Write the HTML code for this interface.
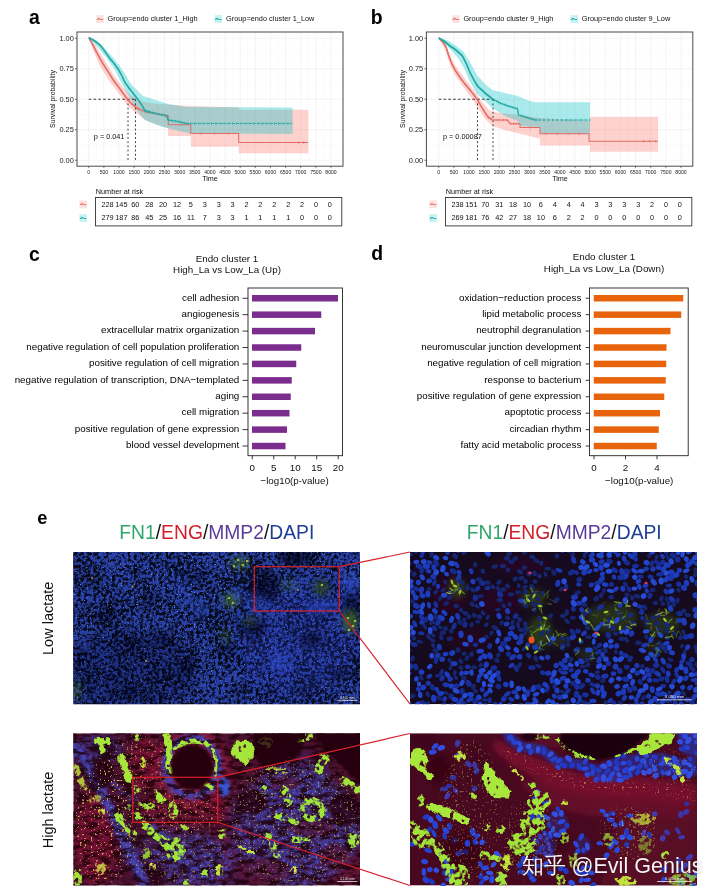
<!DOCTYPE html>
<html><head><meta charset="utf-8"><title>figure</title>
<style>html,body{margin:0;padding:0;background:#fff}svg{display:block}text{font-family:"Liberation Sans",Arial,sans-serif}</style>
</head><body>
<svg width="720" height="896" viewBox="0 0 720 896">
<rect width="720" height="896" fill="#ffffff"/>
<g><text x="29" y="24.1" font-size="19.4" font-weight="bold" font-family='"Liberation Sans", Arial, sans-serif'>a</text><line x1="88.75" y1="32" x2="88.75" y2="166.2" stroke="#ececec" stroke-width="0.6"/><line x1="96.32" y1="32" x2="96.32" y2="166.2" stroke="#f5f5f5" stroke-width="0.4"/><line x1="103.89" y1="32" x2="103.89" y2="166.2" stroke="#ececec" stroke-width="0.6"/><line x1="111.46" y1="32" x2="111.46" y2="166.2" stroke="#f5f5f5" stroke-width="0.4"/><line x1="119.03" y1="32" x2="119.03" y2="166.2" stroke="#ececec" stroke-width="0.6"/><line x1="126.60" y1="32" x2="126.60" y2="166.2" stroke="#f5f5f5" stroke-width="0.4"/><line x1="134.17" y1="32" x2="134.17" y2="166.2" stroke="#ececec" stroke-width="0.6"/><line x1="141.74" y1="32" x2="141.74" y2="166.2" stroke="#f5f5f5" stroke-width="0.4"/><line x1="149.31" y1="32" x2="149.31" y2="166.2" stroke="#ececec" stroke-width="0.6"/><line x1="156.88" y1="32" x2="156.88" y2="166.2" stroke="#f5f5f5" stroke-width="0.4"/><line x1="164.45" y1="32" x2="164.45" y2="166.2" stroke="#ececec" stroke-width="0.6"/><line x1="172.02" y1="32" x2="172.02" y2="166.2" stroke="#f5f5f5" stroke-width="0.4"/><line x1="179.59" y1="32" x2="179.59" y2="166.2" stroke="#ececec" stroke-width="0.6"/><line x1="187.16" y1="32" x2="187.16" y2="166.2" stroke="#f5f5f5" stroke-width="0.4"/><line x1="194.73" y1="32" x2="194.73" y2="166.2" stroke="#ececec" stroke-width="0.6"/><line x1="202.30" y1="32" x2="202.30" y2="166.2" stroke="#f5f5f5" stroke-width="0.4"/><line x1="209.87" y1="32" x2="209.87" y2="166.2" stroke="#ececec" stroke-width="0.6"/><line x1="217.44" y1="32" x2="217.44" y2="166.2" stroke="#f5f5f5" stroke-width="0.4"/><line x1="225.01" y1="32" x2="225.01" y2="166.2" stroke="#ececec" stroke-width="0.6"/><line x1="232.58" y1="32" x2="232.58" y2="166.2" stroke="#f5f5f5" stroke-width="0.4"/><line x1="240.15" y1="32" x2="240.15" y2="166.2" stroke="#ececec" stroke-width="0.6"/><line x1="247.72" y1="32" x2="247.72" y2="166.2" stroke="#f5f5f5" stroke-width="0.4"/><line x1="255.29" y1="32" x2="255.29" y2="166.2" stroke="#ececec" stroke-width="0.6"/><line x1="262.86" y1="32" x2="262.86" y2="166.2" stroke="#f5f5f5" stroke-width="0.4"/><line x1="270.43" y1="32" x2="270.43" y2="166.2" stroke="#ececec" stroke-width="0.6"/><line x1="278.00" y1="32" x2="278.00" y2="166.2" stroke="#f5f5f5" stroke-width="0.4"/><line x1="285.57" y1="32" x2="285.57" y2="166.2" stroke="#ececec" stroke-width="0.6"/><line x1="293.14" y1="32" x2="293.14" y2="166.2" stroke="#f5f5f5" stroke-width="0.4"/><line x1="300.71" y1="32" x2="300.71" y2="166.2" stroke="#ececec" stroke-width="0.6"/><line x1="308.28" y1="32" x2="308.28" y2="166.2" stroke="#f5f5f5" stroke-width="0.4"/><line x1="315.85" y1="32" x2="315.85" y2="166.2" stroke="#ececec" stroke-width="0.6"/><line x1="323.42" y1="32" x2="323.42" y2="166.2" stroke="#f5f5f5" stroke-width="0.4"/><line x1="330.99" y1="32" x2="330.99" y2="166.2" stroke="#ececec" stroke-width="0.6"/><line x1="77" y1="38.25" x2="343" y2="38.25" stroke="#ececec" stroke-width="0.6"/><line x1="77" y1="53.50" x2="343" y2="53.50" stroke="#f5f5f5" stroke-width="0.4"/><line x1="77" y1="68.75" x2="343" y2="68.75" stroke="#ececec" stroke-width="0.6"/><line x1="77" y1="84.00" x2="343" y2="84.00" stroke="#f5f5f5" stroke-width="0.4"/><line x1="77" y1="99.25" x2="343" y2="99.25" stroke="#ececec" stroke-width="0.6"/><line x1="77" y1="114.50" x2="343" y2="114.50" stroke="#f5f5f5" stroke-width="0.4"/><line x1="77" y1="129.75" x2="343" y2="129.75" stroke="#ececec" stroke-width="0.6"/><line x1="77" y1="145.00" x2="343" y2="145.00" stroke="#f5f5f5" stroke-width="0.4"/><line x1="77" y1="160.25" x2="343" y2="160.25" stroke="#ececec" stroke-width="0.6"/><polygon points="89.00,38.00 95.00,44.00 103.00,58.00 113.00,74.00 122.00,86.00 130.00,95.00 140.00,101.00 150.00,103.00 168.00,104.50 190.00,106.00 238.70,107.50 238.70,109.70 308.30,109.70 308.30,153.30 238.70,153.30 238.70,146.70 190.80,146.70 190.80,136.00 168.00,136.00 168.00,128.00 155.00,124.00 145.00,120.00 136.00,113.00 128.00,106.00 120.00,95.00 110.00,82.00 100.00,66.00 93.00,50.00" fill="#F8766D" fill-opacity="0.33"/><polygon points="89.00,38.00 96.00,40.00 105.00,48.50 112.50,57.00 119.00,65.00 124.00,72.00 131.00,84.00 137.00,90.00 142.50,95.80 158.00,100.80 168.00,104.00 186.70,107.00 292.50,107.50 292.50,134.00 190.00,133.50 175.00,130.00 161.70,126.70 145.00,120.00 138.00,112.00 130.00,98.00 122.00,84.00 115.00,70.00 105.00,56.00 95.00,44.00" fill="#00BFC4" fill-opacity="0.33"/><path d="M88.75 99.25H135.5" stroke="#222" stroke-width="0.9" stroke-dasharray="2.6 2.2" fill="none"/><path d="M128 99.25V160.25" stroke="#222" stroke-width="0.9" stroke-dasharray="1.8 2.4" fill="none"/><path d="M135.5 99.25V160.25" stroke="#222" stroke-width="0.9" stroke-dasharray="1.8 2.4" fill="none"/><polyline points="89.00,38.00 93.00,45.00 97.00,53.00 101.70,61.70 107.00,70.00 113.30,80.00 120.00,89.00 125.00,96.00 128.00,100.00 132.00,104.00 136.70,108.00 145.00,111.70 155.00,113.50 168.30,115.80 168.30,124.70 190.80,124.70 190.80,133.50 238.70,133.50 238.70,142.50 308.30,142.50" fill="none" stroke="#E36B66" stroke-width="1.05" stroke-linejoin="round"/><path d="M89.0 37.0v2.0M89.4 37.8v2.0M89.9 38.6v2.0M90.3 39.3v2.0M90.8 40.1v2.0M91.2 40.9v2.0M91.7 41.7v2.0M92.1 42.5v2.0M92.6 43.3v2.0M93.0 44.0v2.0M93.4 44.8v2.0M93.8 45.6v2.0M94.2 46.4v2.0M94.6 47.3v2.0M95.0 48.1v2.0M95.4 48.9v2.0M95.8 49.7v2.0M96.2 50.5v2.0M96.6 51.3v2.0M97.0 52.1v2.0M97.5 52.9v2.0M97.9 53.7v2.0M98.3 54.5v2.0M98.8 55.2v2.0M99.2 56.0v2.0M99.6 56.8v2.0M100.0 57.6v2.0M100.5 58.4v2.0M100.9 59.2v2.0M101.3 60.0v2.0M101.8 60.8v2.0M102.2 61.5v2.0M102.7 62.3v2.0M103.2 63.1v2.0M103.7 63.8v2.0M104.2 64.6v2.0M104.7 65.3v2.0M105.1 66.1v2.0M105.6 66.9v2.0M106.1 67.6v2.0M106.6 68.4v2.0M107.1 69.1v2.0M107.6 69.9v2.0M108.0 70.7v2.0M108.5 71.4v2.0M109.0 72.2v2.0M109.5 72.9v2.0M110.0 73.7v2.0M110.4 74.5v2.0M110.9 75.2v2.0M111.4 76.0v2.0M111.9 76.7v2.0M112.4 77.5v2.0M112.8 78.3v2.0M113.3 79.0v2.0M113.9 79.8v2.0M114.4 80.5v2.0M114.9 81.2v2.0M115.5 81.9v2.0M116.0 82.6v2.0M116.5 83.4v2.0M117.1 84.1v2.0M117.6 84.8v2.0M118.2 85.5v2.0M118.7 86.2v2.0M119.2 87.0v2.0M119.8 87.7v2.0M120.3 88.4v2.0M120.8 89.2v2.0M121.3 89.9v2.0M121.9 90.6v2.0M122.4 91.4v2.0M122.9 92.1v2.0M123.4 92.8v2.0M124.0 93.5v2.0M124.5 94.3v2.0M125.0 95.0v2.0M125.5 95.7v2.0M126.1 96.5v2.0M126.6 97.2v2.0M127.2 97.9v2.0M127.7 98.6v2.0M128.3 99.3v2.0M128.9 99.9v2.0M129.6 100.6v2.0M130.2 101.2v2.0M130.8 101.8v2.0M131.5 102.5v2.0M132.1 103.1v2.0M132.8 103.7v2.0M133.5 104.3v2.0M134.2 104.9v2.0M134.9 105.4v2.0M135.5 106.0v2.0M136.2 106.6v2.0M137.0 107.1v2.0M137.8 107.5v2.0M138.6 107.8v2.0M139.4 108.2v2.0M142.0 109.3v2.2M144.4 110.3v2.2M146.9 110.9v2.2M149.4 111.4v2.2M152.0 111.9v2.2M154.5 112.3v2.2M157.1 112.8v2.2M159.7 113.2v2.2M162.2 113.7v2.2M164.8 114.1v2.2M167.4 114.5v2.2M181.4 123.6v2.2M200.6 132.4v2.2M214.6 132.4v2.2M228.6 132.4v2.2M298.6 141.3v2.4M303.6 141.3v2.4" stroke="#E36B66" stroke-width="0.8" fill="none"/><polyline points="88.75,37.80 94.00,40.50 100.00,45.00 105.00,51.50 110.00,58.75 114.50,64.00 118.75,70.00 122.00,76.00 125.00,82.50 129.00,88.00 132.50,92.50 136.00,97.00 138.75,100.50 142.00,105.50 145.00,110.80 150.00,112.00 158.00,114.00 166.70,115.80 168.00,120.00 178.00,121.50 186.70,123.50" fill="none" stroke="#1FAAA2" stroke-width="1.05" stroke-linejoin="round"/><polyline points="186.70,123.50 292.00,123.50" fill="none" stroke="#1FAAA2" stroke-width="1.0" stroke-dasharray="2.2 2"/><path d="M89.6 37.1v2.2M90.4 37.5v2.2M91.2 37.9v2.2M92.0 38.3v2.2M92.8 38.8v2.2M93.6 39.2v2.2M94.3 39.6v2.2M95.0 40.2v2.2M95.8 40.7v2.2M96.5 41.3v2.2M97.2 41.8v2.2M97.9 42.3v2.2M98.6 42.9v2.2M99.4 43.4v2.2M100.1 44.0v2.2M100.6 44.7v2.2M101.2 45.4v2.2M101.7 46.1v2.2M102.3 46.8v2.2M102.8 47.5v2.2M103.4 48.3v2.2M103.9 49.0v2.2M104.4 49.7v2.2M105.0 50.4v2.2M105.5 51.1v2.2M106.0 51.9v2.2M106.5 52.6v2.2M107.0 53.4v2.2M107.6 54.1v2.2M108.1 54.8v2.2M108.6 55.6v2.2M109.1 56.3v2.2M109.6 57.1v2.2M110.1 57.8v2.2M110.7 58.5v2.2M111.3 59.2v2.2M111.9 59.8v2.2M112.5 60.5v2.2M113.1 61.2v2.2M113.6 61.9v2.2M114.2 62.6v2.2M114.8 63.3v2.2M115.3 64.0v2.2M115.8 64.8v2.2M116.3 65.5v2.2M116.9 66.2v2.2M117.4 67.0v2.2M117.9 67.7v2.2M118.4 68.4v2.2M118.9 69.2v2.2M119.3 70.0v2.2M119.8 70.8v2.2M120.2 71.6v2.2M120.6 72.3v2.2M121.0 73.1v2.2M121.5 73.9v2.2M121.9 74.7v2.2M122.3 75.5v2.2M122.7 76.4v2.2M123.0 77.2v2.2M123.4 78.0v2.2M123.8 78.8v2.2M124.2 79.6v2.2M124.6 80.4v2.2M124.9 81.3v2.2M125.4 82.0v2.2M126.0 82.7v2.2M126.5 83.5v2.2M127.0 84.2v2.2M127.6 84.9v2.2M128.1 85.6v2.2M128.6 86.4v2.2M129.1 87.1v2.2M129.7 87.8v2.2M130.3 88.5v2.2M130.8 89.2v2.2M131.4 89.9v2.2M131.9 90.6v2.2M132.5 91.4v2.2M133.0 92.1v2.2M133.6 92.8v2.2M134.1 93.5v2.2M134.7 94.2v2.2M135.2 94.9v2.2M135.8 95.6v2.2M136.3 96.3v2.2M136.9 97.0v2.2M137.4 97.7v2.2M138.0 98.4v2.2M138.6 99.2v2.2M139.1 99.9v2.2M139.6 100.6v2.2M140.0 101.4v2.2M140.5 102.2v2.2M141.0 102.9v2.2M141.5 103.7v2.2M142.0 104.4v2.2M142.5 105.2v2.2M142.9 106.0v2.2M143.3 106.8v2.2M143.8 107.6v2.2M144.2 108.3v2.2M144.7 109.1v2.2M145.2 109.8v2.2M146.1 110.0v2.2M147.0 110.2v2.2M147.9 110.4v2.2M148.7 110.6v2.2M149.6 110.8v2.2M150.5 110.9v2.4M152.6 111.5v2.4M154.7 112.0v2.4M156.9 112.5v2.4M159.0 113.0v2.4M161.2 113.5v2.4M163.3 113.9v2.4M165.5 114.3v2.4M167.0 115.5v2.4M167.6 117.6v2.4M169.0 118.9v2.4M171.1 119.3v2.4M173.3 119.6v2.4M175.5 119.9v2.4M177.7 120.2v2.4M179.8 120.7v2.4M181.9 121.2v2.4M184.1 121.7v2.4M186.2 122.2v2.4M188.4 122.3v2.4M190.4 122.3v2.4M194.6 122.3v2.4M198.8 122.3v2.4M203.0 122.3v2.4M207.2 122.3v2.4M211.4 122.3v2.4M215.6 122.3v2.4M219.8 122.3v2.4M224.0 122.3v2.4M228.2 122.3v2.4M232.4 122.3v2.4M236.6 122.3v2.4M240.8 122.3v2.4M245.0 122.3v2.4M249.2 122.3v2.4M253.4 122.3v2.4M257.6 122.3v2.4M261.8 122.3v2.4M266.0 122.3v2.4M270.2 122.3v2.4M274.4 122.3v2.4M278.6 122.3v2.4M282.8 122.3v2.4M287.0 122.3v2.4M291.2 122.3v2.4" stroke="#1FAAA2" stroke-width="0.8" fill="none"/><rect x="77" y="32" width="266" height="134.2" fill="none" stroke="#4a4a4a" stroke-width="1"/><line x1="75" y1="38.25" x2="77" y2="38.25" stroke="#333" stroke-width="0.7"/><text x="73.8" y="40.85" font-size="7.4" text-anchor="end" fill="#222" font-family='"Liberation Sans", Arial, sans-serif'>1.00</text><line x1="75" y1="68.75" x2="77" y2="68.75" stroke="#333" stroke-width="0.7"/><text x="73.8" y="71.35" font-size="7.4" text-anchor="end" fill="#222" font-family='"Liberation Sans", Arial, sans-serif'>0.75</text><line x1="75" y1="99.25" x2="77" y2="99.25" stroke="#333" stroke-width="0.7"/><text x="73.8" y="101.85" font-size="7.4" text-anchor="end" fill="#222" font-family='"Liberation Sans", Arial, sans-serif'>0.50</text><line x1="75" y1="129.75" x2="77" y2="129.75" stroke="#333" stroke-width="0.7"/><text x="73.8" y="132.35" font-size="7.4" text-anchor="end" fill="#222" font-family='"Liberation Sans", Arial, sans-serif'>0.25</text><line x1="75" y1="160.25" x2="77" y2="160.25" stroke="#333" stroke-width="0.7"/><text x="73.8" y="162.85" font-size="7.4" text-anchor="end" fill="#222" font-family='"Liberation Sans", Arial, sans-serif'>0.00</text><line x1="88.75" y1="166.2" x2="88.75" y2="168.2" stroke="#333" stroke-width="0.6"/><text x="88.75" y="173.7" font-size="5.1" text-anchor="middle" fill="#222" font-family='"Liberation Sans", Arial, sans-serif'>0</text><line x1="103.89" y1="166.2" x2="103.89" y2="168.2" stroke="#333" stroke-width="0.6"/><text x="103.89" y="173.7" font-size="5.1" text-anchor="middle" fill="#222" font-family='"Liberation Sans", Arial, sans-serif'>500</text><line x1="119.03" y1="166.2" x2="119.03" y2="168.2" stroke="#333" stroke-width="0.6"/><text x="119.03" y="173.7" font-size="5.1" text-anchor="middle" fill="#222" font-family='"Liberation Sans", Arial, sans-serif'>1000</text><line x1="134.17" y1="166.2" x2="134.17" y2="168.2" stroke="#333" stroke-width="0.6"/><text x="134.17" y="173.7" font-size="5.1" text-anchor="middle" fill="#222" font-family='"Liberation Sans", Arial, sans-serif'>1500</text><line x1="149.31" y1="166.2" x2="149.31" y2="168.2" stroke="#333" stroke-width="0.6"/><text x="149.31" y="173.7" font-size="5.1" text-anchor="middle" fill="#222" font-family='"Liberation Sans", Arial, sans-serif'>2000</text><line x1="164.45" y1="166.2" x2="164.45" y2="168.2" stroke="#333" stroke-width="0.6"/><text x="164.45" y="173.7" font-size="5.1" text-anchor="middle" fill="#222" font-family='"Liberation Sans", Arial, sans-serif'>2500</text><line x1="179.59" y1="166.2" x2="179.59" y2="168.2" stroke="#333" stroke-width="0.6"/><text x="179.59" y="173.7" font-size="5.1" text-anchor="middle" fill="#222" font-family='"Liberation Sans", Arial, sans-serif'>3000</text><line x1="194.73" y1="166.2" x2="194.73" y2="168.2" stroke="#333" stroke-width="0.6"/><text x="194.73" y="173.7" font-size="5.1" text-anchor="middle" fill="#222" font-family='"Liberation Sans", Arial, sans-serif'>3500</text><line x1="209.87" y1="166.2" x2="209.87" y2="168.2" stroke="#333" stroke-width="0.6"/><text x="209.87" y="173.7" font-size="5.1" text-anchor="middle" fill="#222" font-family='"Liberation Sans", Arial, sans-serif'>4000</text><line x1="225.01" y1="166.2" x2="225.01" y2="168.2" stroke="#333" stroke-width="0.6"/><text x="225.01" y="173.7" font-size="5.1" text-anchor="middle" fill="#222" font-family='"Liberation Sans", Arial, sans-serif'>4500</text><line x1="240.15" y1="166.2" x2="240.15" y2="168.2" stroke="#333" stroke-width="0.6"/><text x="240.15" y="173.7" font-size="5.1" text-anchor="middle" fill="#222" font-family='"Liberation Sans", Arial, sans-serif'>5000</text><line x1="255.29" y1="166.2" x2="255.29" y2="168.2" stroke="#333" stroke-width="0.6"/><text x="255.29" y="173.7" font-size="5.1" text-anchor="middle" fill="#222" font-family='"Liberation Sans", Arial, sans-serif'>5500</text><line x1="270.43" y1="166.2" x2="270.43" y2="168.2" stroke="#333" stroke-width="0.6"/><text x="270.43" y="173.7" font-size="5.1" text-anchor="middle" fill="#222" font-family='"Liberation Sans", Arial, sans-serif'>6000</text><line x1="285.57" y1="166.2" x2="285.57" y2="168.2" stroke="#333" stroke-width="0.6"/><text x="285.57" y="173.7" font-size="5.1" text-anchor="middle" fill="#222" font-family='"Liberation Sans", Arial, sans-serif'>6500</text><line x1="300.71" y1="166.2" x2="300.71" y2="168.2" stroke="#333" stroke-width="0.6"/><text x="300.71" y="173.7" font-size="5.1" text-anchor="middle" fill="#222" font-family='"Liberation Sans", Arial, sans-serif'>7000</text><line x1="315.85" y1="166.2" x2="315.85" y2="168.2" stroke="#333" stroke-width="0.6"/><text x="315.85" y="173.7" font-size="5.1" text-anchor="middle" fill="#222" font-family='"Liberation Sans", Arial, sans-serif'>7500</text><line x1="330.99" y1="166.2" x2="330.99" y2="168.2" stroke="#333" stroke-width="0.6"/><text x="330.99" y="173.7" font-size="5.1" text-anchor="middle" fill="#222" font-family='"Liberation Sans", Arial, sans-serif'>8000</text><text x="210" y="181.4" font-size="7.2" text-anchor="middle" fill="#111" font-family='"Liberation Sans", Arial, sans-serif'>Time</text><text transform="translate(55 99) rotate(-90)" font-size="6.9" text-anchor="middle" fill="#111" font-family='"Liberation Sans", Arial, sans-serif'>Survival probability</text><text x="93.8" y="138.8" font-size="7.3" fill="#111" font-family='"Liberation Sans", Arial, sans-serif'>p = 0.041</text><rect x="96.3" y="15.200000000000001" width="7.5" height="7.8" fill="#F8766D" fill-opacity="0.22"/><path d="M96.89999999999999 19.700000000000003L98.8 18.5L100.3 19.3L103.2 19.5" stroke="#E36B66" stroke-width="1.1" fill="none"/><text x="107.6" y="21.4" font-size="7.35" fill="#111" font-family='"Liberation Sans", Arial, sans-serif'>Group=endo cluster 1_High</text><rect x="214.6" y="15.200000000000001" width="7.5" height="7.8" fill="#00BFC4" fill-opacity="0.22"/><path d="M215.2 19.700000000000003L217.1 18.5L218.6 19.3L221.5 19.5" stroke="#1FAAA2" stroke-width="1.1" fill="none"/><text x="226" y="21.4" font-size="7.35" fill="#111" font-family='"Liberation Sans", Arial, sans-serif'>Group=endo cluster 1_Low</text><text x="95.8" y="193.8" font-size="7.3" fill="#111" font-family='"Liberation Sans", Arial, sans-serif'>Number at risk</text><rect x="95.5" y="197.5" width="246.3" height="28.4" fill="none" stroke="#333" stroke-width="0.9"/><rect x="79.4" y="200.4" width="7.5" height="7.8" fill="#F8766D" fill-opacity="0.22"/><path d="M80.0 204.9L81.9 203.70000000000002L83.4 204.5L86.30000000000001 204.70000000000002" stroke="#E36B66" stroke-width="1.1" fill="none"/><rect x="79.4" y="214.2" width="7.5" height="7.8" fill="#00BFC4" fill-opacity="0.22"/><path d="M80.0 218.7L81.9 217.5L83.4 218.29999999999998L86.30000000000001 218.5" stroke="#1FAAA2" stroke-width="1.1" fill="none"/><text x="107.50" y="207.1" font-size="7.3" text-anchor="middle" fill="#111" font-family='"Liberation Sans", Arial, sans-serif'>228</text><text x="121.40" y="207.1" font-size="7.3" text-anchor="middle" fill="#111" font-family='"Liberation Sans", Arial, sans-serif'>145</text><text x="135.30" y="207.1" font-size="7.3" text-anchor="middle" fill="#111" font-family='"Liberation Sans", Arial, sans-serif'>60</text><text x="149.20" y="207.1" font-size="7.3" text-anchor="middle" fill="#111" font-family='"Liberation Sans", Arial, sans-serif'>28</text><text x="163.10" y="207.1" font-size="7.3" text-anchor="middle" fill="#111" font-family='"Liberation Sans", Arial, sans-serif'>20</text><text x="177.00" y="207.1" font-size="7.3" text-anchor="middle" fill="#111" font-family='"Liberation Sans", Arial, sans-serif'>12</text><text x="190.90" y="207.1" font-size="7.3" text-anchor="middle" fill="#111" font-family='"Liberation Sans", Arial, sans-serif'>5</text><text x="204.80" y="207.1" font-size="7.3" text-anchor="middle" fill="#111" font-family='"Liberation Sans", Arial, sans-serif'>3</text><text x="218.70" y="207.1" font-size="7.3" text-anchor="middle" fill="#111" font-family='"Liberation Sans", Arial, sans-serif'>3</text><text x="232.60" y="207.1" font-size="7.3" text-anchor="middle" fill="#111" font-family='"Liberation Sans", Arial, sans-serif'>3</text><text x="246.50" y="207.1" font-size="7.3" text-anchor="middle" fill="#111" font-family='"Liberation Sans", Arial, sans-serif'>2</text><text x="260.40" y="207.1" font-size="7.3" text-anchor="middle" fill="#111" font-family='"Liberation Sans", Arial, sans-serif'>2</text><text x="274.30" y="207.1" font-size="7.3" text-anchor="middle" fill="#111" font-family='"Liberation Sans", Arial, sans-serif'>2</text><text x="288.20" y="207.1" font-size="7.3" text-anchor="middle" fill="#111" font-family='"Liberation Sans", Arial, sans-serif'>2</text><text x="302.10" y="207.1" font-size="7.3" text-anchor="middle" fill="#111" font-family='"Liberation Sans", Arial, sans-serif'>2</text><text x="316.00" y="207.1" font-size="7.3" text-anchor="middle" fill="#111" font-family='"Liberation Sans", Arial, sans-serif'>0</text><text x="329.90" y="207.1" font-size="7.3" text-anchor="middle" fill="#111" font-family='"Liberation Sans", Arial, sans-serif'>0</text><text x="107.50" y="220.2" font-size="7.3" text-anchor="middle" fill="#111" font-family='"Liberation Sans", Arial, sans-serif'>279</text><text x="121.40" y="220.2" font-size="7.3" text-anchor="middle" fill="#111" font-family='"Liberation Sans", Arial, sans-serif'>187</text><text x="135.30" y="220.2" font-size="7.3" text-anchor="middle" fill="#111" font-family='"Liberation Sans", Arial, sans-serif'>86</text><text x="149.20" y="220.2" font-size="7.3" text-anchor="middle" fill="#111" font-family='"Liberation Sans", Arial, sans-serif'>45</text><text x="163.10" y="220.2" font-size="7.3" text-anchor="middle" fill="#111" font-family='"Liberation Sans", Arial, sans-serif'>25</text><text x="177.00" y="220.2" font-size="7.3" text-anchor="middle" fill="#111" font-family='"Liberation Sans", Arial, sans-serif'>16</text><text x="190.90" y="220.2" font-size="7.3" text-anchor="middle" fill="#111" font-family='"Liberation Sans", Arial, sans-serif'>11</text><text x="204.80" y="220.2" font-size="7.3" text-anchor="middle" fill="#111" font-family='"Liberation Sans", Arial, sans-serif'>7</text><text x="218.70" y="220.2" font-size="7.3" text-anchor="middle" fill="#111" font-family='"Liberation Sans", Arial, sans-serif'>3</text><text x="232.60" y="220.2" font-size="7.3" text-anchor="middle" fill="#111" font-family='"Liberation Sans", Arial, sans-serif'>3</text><text x="246.50" y="220.2" font-size="7.3" text-anchor="middle" fill="#111" font-family='"Liberation Sans", Arial, sans-serif'>1</text><text x="260.40" y="220.2" font-size="7.3" text-anchor="middle" fill="#111" font-family='"Liberation Sans", Arial, sans-serif'>1</text><text x="274.30" y="220.2" font-size="7.3" text-anchor="middle" fill="#111" font-family='"Liberation Sans", Arial, sans-serif'>1</text><text x="288.20" y="220.2" font-size="7.3" text-anchor="middle" fill="#111" font-family='"Liberation Sans", Arial, sans-serif'>1</text><text x="302.10" y="220.2" font-size="7.3" text-anchor="middle" fill="#111" font-family='"Liberation Sans", Arial, sans-serif'>0</text><text x="316.00" y="220.2" font-size="7.3" text-anchor="middle" fill="#111" font-family='"Liberation Sans", Arial, sans-serif'>0</text><text x="329.90" y="220.2" font-size="7.3" text-anchor="middle" fill="#111" font-family='"Liberation Sans", Arial, sans-serif'>0</text></g><g><text x="370.8" y="24.1" font-size="19.4" font-weight="bold" font-family='"Liberation Sans", Arial, sans-serif'>b</text><line x1="438.75" y1="32" x2="438.75" y2="166.2" stroke="#ececec" stroke-width="0.6"/><line x1="446.32" y1="32" x2="446.32" y2="166.2" stroke="#f5f5f5" stroke-width="0.4"/><line x1="453.89" y1="32" x2="453.89" y2="166.2" stroke="#ececec" stroke-width="0.6"/><line x1="461.46" y1="32" x2="461.46" y2="166.2" stroke="#f5f5f5" stroke-width="0.4"/><line x1="469.03" y1="32" x2="469.03" y2="166.2" stroke="#ececec" stroke-width="0.6"/><line x1="476.60" y1="32" x2="476.60" y2="166.2" stroke="#f5f5f5" stroke-width="0.4"/><line x1="484.17" y1="32" x2="484.17" y2="166.2" stroke="#ececec" stroke-width="0.6"/><line x1="491.74" y1="32" x2="491.74" y2="166.2" stroke="#f5f5f5" stroke-width="0.4"/><line x1="499.31" y1="32" x2="499.31" y2="166.2" stroke="#ececec" stroke-width="0.6"/><line x1="506.88" y1="32" x2="506.88" y2="166.2" stroke="#f5f5f5" stroke-width="0.4"/><line x1="514.45" y1="32" x2="514.45" y2="166.2" stroke="#ececec" stroke-width="0.6"/><line x1="522.02" y1="32" x2="522.02" y2="166.2" stroke="#f5f5f5" stroke-width="0.4"/><line x1="529.59" y1="32" x2="529.59" y2="166.2" stroke="#ececec" stroke-width="0.6"/><line x1="537.16" y1="32" x2="537.16" y2="166.2" stroke="#f5f5f5" stroke-width="0.4"/><line x1="544.73" y1="32" x2="544.73" y2="166.2" stroke="#ececec" stroke-width="0.6"/><line x1="552.30" y1="32" x2="552.30" y2="166.2" stroke="#f5f5f5" stroke-width="0.4"/><line x1="559.87" y1="32" x2="559.87" y2="166.2" stroke="#ececec" stroke-width="0.6"/><line x1="567.44" y1="32" x2="567.44" y2="166.2" stroke="#f5f5f5" stroke-width="0.4"/><line x1="575.01" y1="32" x2="575.01" y2="166.2" stroke="#ececec" stroke-width="0.6"/><line x1="582.58" y1="32" x2="582.58" y2="166.2" stroke="#f5f5f5" stroke-width="0.4"/><line x1="590.15" y1="32" x2="590.15" y2="166.2" stroke="#ececec" stroke-width="0.6"/><line x1="597.72" y1="32" x2="597.72" y2="166.2" stroke="#f5f5f5" stroke-width="0.4"/><line x1="605.29" y1="32" x2="605.29" y2="166.2" stroke="#ececec" stroke-width="0.6"/><line x1="612.86" y1="32" x2="612.86" y2="166.2" stroke="#f5f5f5" stroke-width="0.4"/><line x1="620.43" y1="32" x2="620.43" y2="166.2" stroke="#ececec" stroke-width="0.6"/><line x1="628.00" y1="32" x2="628.00" y2="166.2" stroke="#f5f5f5" stroke-width="0.4"/><line x1="635.57" y1="32" x2="635.57" y2="166.2" stroke="#ececec" stroke-width="0.6"/><line x1="643.14" y1="32" x2="643.14" y2="166.2" stroke="#f5f5f5" stroke-width="0.4"/><line x1="650.71" y1="32" x2="650.71" y2="166.2" stroke="#ececec" stroke-width="0.6"/><line x1="658.28" y1="32" x2="658.28" y2="166.2" stroke="#f5f5f5" stroke-width="0.4"/><line x1="665.85" y1="32" x2="665.85" y2="166.2" stroke="#ececec" stroke-width="0.6"/><line x1="673.42" y1="32" x2="673.42" y2="166.2" stroke="#f5f5f5" stroke-width="0.4"/><line x1="680.99" y1="32" x2="680.99" y2="166.2" stroke="#ececec" stroke-width="0.6"/><line x1="426.4" y1="38.25" x2="692.8" y2="38.25" stroke="#ececec" stroke-width="0.6"/><line x1="426.4" y1="53.50" x2="692.8" y2="53.50" stroke="#f5f5f5" stroke-width="0.4"/><line x1="426.4" y1="68.75" x2="692.8" y2="68.75" stroke="#ececec" stroke-width="0.6"/><line x1="426.4" y1="84.00" x2="692.8" y2="84.00" stroke="#f5f5f5" stroke-width="0.4"/><line x1="426.4" y1="99.25" x2="692.8" y2="99.25" stroke="#ececec" stroke-width="0.6"/><line x1="426.4" y1="114.50" x2="692.8" y2="114.50" stroke="#f5f5f5" stroke-width="0.4"/><line x1="426.4" y1="129.75" x2="692.8" y2="129.75" stroke="#ececec" stroke-width="0.6"/><line x1="426.4" y1="145.00" x2="692.8" y2="145.00" stroke="#f5f5f5" stroke-width="0.4"/><line x1="426.4" y1="160.25" x2="692.8" y2="160.25" stroke="#ececec" stroke-width="0.6"/><polygon points="438.75,38.00 445.00,43.00 449.00,52.00 454.00,64.00 460.00,72.00 468.00,83.00 476.00,93.00 483.00,103.00 490.00,111.00 500.00,113.00 520.00,115.00 540.00,118.00 590.00,121.00 590.00,116.70 658.00,116.70 658.00,151.80 590.00,151.80 590.00,145.60 540.00,145.60 540.00,138.75 520.00,133.75 505.00,130.00 492.50,126.00 485.00,118.75 478.00,108.00 470.00,96.00 462.00,85.00 455.00,75.00 450.00,65.00 446.00,52.00 442.00,44.00" fill="#F8766D" fill-opacity="0.33"/><polygon points="438.75,38.00 447.00,40.00 455.00,45.00 463.00,51.00 470.00,62.00 477.00,75.00 485.00,84.00 492.50,90.00 505.00,93.00 517.50,96.00 527.00,100.00 535.00,102.30 590.00,102.30 590.00,134.00 540.00,133.50 540.00,127.50 520.00,126.00 518.00,121.00 505.00,116.00 492.50,108.00 485.00,101.00 477.00,94.00 470.00,82.00 465.00,70.00 458.00,58.00 450.00,49.00 444.00,43.00" fill="#00BFC4" fill-opacity="0.33"/><path d="M438.75 99.25H493" stroke="#222" stroke-width="0.9" stroke-dasharray="2.6 2.2" fill="none"/><path d="M477.5 99.25V160.25" stroke="#222" stroke-width="0.9" stroke-dasharray="1.8 2.4" fill="none"/><path d="M493 99.25V160.25" stroke="#222" stroke-width="0.9" stroke-dasharray="1.8 2.4" fill="none"/><polyline points="438.75,38.00 443.00,42.00 446.25,47.50 448.50,55.00 451.25,62.50 455.00,70.00 460.00,77.50 465.00,84.00 470.00,90.00 474.00,95.00 477.50,100.00 481.00,106.00 485.00,112.50 488.00,117.00 492.50,120.00 507.50,120.00 510.00,123.75 520.00,123.75 520.00,127.50 540.00,127.50 540.00,133.75 589.00,133.75 589.00,141.20 658.00,141.20" fill="none" stroke="#E36B66" stroke-width="1.05" stroke-linejoin="round"/><path d="M439.4 37.6v2.0M440.1 38.2v2.0M440.7 38.9v2.0M441.4 39.5v2.0M442.0 40.1v2.0M442.7 40.7v2.0M443.2 41.4v2.0M443.7 42.2v2.0M444.2 42.9v2.0M444.6 43.7v2.0M445.1 44.5v2.0M445.5 45.3v2.0M446.0 46.0v2.0M446.4 46.9v2.0M446.6 47.7v2.0M446.9 48.6v2.0M447.1 49.4v2.0M447.4 50.3v2.0M447.7 51.2v2.0M447.9 52.0v2.0M448.2 52.9v2.0M448.4 53.8v2.0M448.7 54.6v2.0M449.0 55.5v2.0M449.3 56.3v2.0M449.7 57.1v2.0M450.0 58.0v2.0M450.3 58.8v2.0M450.6 59.7v2.0M450.9 60.5v2.0M451.2 61.4v2.0M451.6 62.2v2.0M452.0 63.0v2.0M452.4 63.8v2.0M452.8 64.6v2.0M453.2 65.4v2.0M453.6 66.2v2.0M454.0 67.0v2.0M454.4 67.8v2.0M454.8 68.6v2.0M455.3 69.4v2.0M455.8 70.1v2.0M456.3 70.9v2.0M456.8 71.6v2.0M457.3 72.4v2.0M457.8 73.1v2.0M458.3 73.9v2.0M458.8 74.6v2.0M459.3 75.4v2.0M459.8 76.1v2.0M460.3 76.9v2.0M460.8 77.6v2.0M461.4 78.3v2.0M461.9 79.0v2.0M462.5 79.7v2.0M463.0 80.4v2.0M463.6 81.1v2.0M464.1 81.9v2.0M464.7 82.6v2.0M465.2 83.3v2.0M465.8 84.0v2.0M466.4 84.7v2.0M467.0 85.3v2.0M467.5 86.0v2.0M468.1 86.7v2.0M468.7 87.4v2.0M469.3 88.1v2.0M469.8 88.8v2.0M470.4 89.5v2.0M471.0 90.2v2.0M471.5 90.9v2.0M472.1 91.6v2.0M472.7 92.3v2.0M473.2 93.0v2.0M473.8 93.7v2.0M474.3 94.4v2.0M474.8 95.2v2.0M475.3 95.9v2.0M475.9 96.7v2.0M476.4 97.4v2.0M476.9 98.1v2.0M477.4 98.9v2.0M477.9 99.6v2.0M478.3 100.4v2.0M478.8 101.2v2.0M479.2 102.0v2.0M479.7 102.7v2.0M480.1 103.5v2.0M480.6 104.3v2.0M481.0 105.1v2.0M481.5 105.8v2.0M482.0 106.6v2.0M482.5 107.4v2.0M482.9 108.1v2.0M483.4 108.9v2.0M483.9 109.7v2.0M484.4 110.4v2.0M484.8 111.2v2.0M485.3 112.0v2.0M485.8 112.7v2.0M486.3 113.5v2.0M486.8 114.2v2.0M487.3 115.0v2.0M487.8 115.7v2.0M488.5 116.3v2.0M489.2 116.8v2.0M490.0 117.3v2.0M490.7 117.8v2.0M491.5 118.3v2.0M493.9 118.9v2.2M496.3 118.9v2.2M498.7 118.9v2.2M501.1 118.9v2.2M503.5 118.9v2.2M505.9 118.9v2.2M508.0 119.6v2.2M509.3 121.6v2.2M511.1 122.7v2.2M513.5 122.7v2.2M515.9 122.7v2.2M518.3 122.7v2.2M530.4 126.4v2.2M546.1 132.7v2.2M557.1 132.7v2.2M568.1 132.7v2.2M579.1 132.7v2.2M643.7 140.0v2.4M649.7 140.0v2.4M655.7 140.0v2.4" stroke="#E36B66" stroke-width="0.8" fill="none"/><polyline points="438.75,38.00 444.00,41.00 450.00,46.00 456.00,50.00 462.50,56.00 466.00,63.00 470.00,72.50 474.00,80.00 477.50,86.00 485.00,93.00 492.50,99.00 500.00,103.00 508.00,106.00 517.50,108.75 518.50,115.00 527.00,117.50 535.00,120.00" fill="none" stroke="#1FAAA2" stroke-width="1.05" stroke-linejoin="round"/><polyline points="535.00,120.00 590.00,120.00" fill="none" stroke="#1FAAA2" stroke-width="1.0" stroke-dasharray="2.2 2"/><path d="M439.5 37.3v2.2M440.3 37.8v2.2M441.1 38.2v2.2M441.9 38.7v2.2M442.7 39.1v2.2M443.4 39.6v2.2M444.2 40.1v2.2M444.9 40.6v2.2M445.6 41.2v2.2M446.3 41.8v2.2M447.0 42.4v2.2M447.7 42.9v2.2M448.3 43.5v2.2M449.0 44.1v2.2M449.7 44.7v2.2M450.5 45.2v2.2M451.2 45.7v2.2M451.9 46.2v2.2M452.7 46.7v2.2M453.4 47.2v2.2M454.2 47.7v2.2M454.9 48.2v2.2M455.7 48.7v2.2M456.4 49.3v2.2M457.1 49.9v2.2M457.7 50.5v2.2M458.4 51.1v2.2M459.0 51.7v2.2M459.7 52.3v2.2M460.4 52.9v2.2M461.0 53.5v2.2M461.7 54.1v2.2M462.3 54.8v2.2M462.8 55.5v2.2M463.2 56.3v2.2M463.6 57.1v2.2M464.0 57.9v2.2M464.4 58.7v2.2M464.8 59.5v2.2M465.2 60.3v2.2M465.6 61.1v2.2M466.0 62.0v2.2M466.4 62.8v2.2M466.7 63.6v2.2M467.1 64.4v2.2M467.4 65.3v2.2M467.8 66.1v2.2M468.1 66.9v2.2M468.5 67.8v2.2M468.8 68.6v2.2M469.2 69.4v2.2M469.5 70.2v2.2M469.9 71.1v2.2M470.3 71.9v2.2M470.7 72.7v2.2M471.1 73.5v2.2M471.5 74.3v2.2M472.0 75.1v2.2M472.4 75.9v2.2M472.8 76.7v2.2M473.2 77.4v2.2M473.6 78.2v2.2M474.1 79.0v2.2M474.5 79.8v2.2M475.0 80.6v2.2M475.4 81.4v2.2M475.9 82.1v2.2M476.3 82.9v2.2M476.8 83.7v2.2M477.3 84.5v2.2M477.8 85.2v2.2M478.5 85.8v2.2M479.1 86.4v2.2M479.8 87.0v2.2M480.4 87.6v2.2M481.1 88.2v2.2M481.7 88.9v2.2M482.4 89.5v2.2M483.1 90.1v2.2M483.7 90.7v2.2M484.4 91.3v2.2M485.0 91.9v2.2M485.7 92.5v2.2M486.4 93.1v2.2M487.1 93.6v2.2M487.8 94.2v2.2M488.6 94.7v2.2M489.3 95.3v2.2M490.0 95.9v2.2M490.7 96.4v2.2M491.4 97.0v2.2M492.1 97.6v2.2M492.8 98.1v2.2M493.6 98.5v2.2M494.4 98.9v2.2M496.6 100.0v2.4M498.5 101.0v2.4M500.5 102.0v2.4M502.6 102.8v2.4M504.6 103.5v2.4M506.7 104.3v2.4M508.8 105.0v2.4M510.9 105.6v2.4M513.0 106.2v2.4M515.1 106.9v2.4M517.2 107.5v2.4M517.8 109.4v2.4M518.1 111.6v2.4M518.5 113.8v2.4M520.6 114.4v2.4M522.7 115.0v2.4M524.8 115.7v2.4M526.9 116.3v2.4M529.0 116.9v2.4M531.1 117.6v2.4M533.2 118.2v2.4M535.3 118.8v2.4M537.5 118.8v2.4M539.7 118.8v2.4M543.7 118.8v2.4M548.3 118.8v2.4M552.9 118.8v2.4M557.5 118.8v2.4M562.1 118.8v2.4M566.7 118.8v2.4M571.3 118.8v2.4M575.9 118.8v2.4M580.5 118.8v2.4M585.1 118.8v2.4M589.7 118.8v2.4" stroke="#1FAAA2" stroke-width="0.8" fill="none"/><rect x="426.4" y="32" width="266.4" height="134.2" fill="none" stroke="#4a4a4a" stroke-width="1"/><line x1="424.4" y1="38.25" x2="426.4" y2="38.25" stroke="#333" stroke-width="0.7"/><text x="423.2" y="40.85" font-size="7.4" text-anchor="end" fill="#222" font-family='"Liberation Sans", Arial, sans-serif'>1.00</text><line x1="424.4" y1="68.75" x2="426.4" y2="68.75" stroke="#333" stroke-width="0.7"/><text x="423.2" y="71.35" font-size="7.4" text-anchor="end" fill="#222" font-family='"Liberation Sans", Arial, sans-serif'>0.75</text><line x1="424.4" y1="99.25" x2="426.4" y2="99.25" stroke="#333" stroke-width="0.7"/><text x="423.2" y="101.85" font-size="7.4" text-anchor="end" fill="#222" font-family='"Liberation Sans", Arial, sans-serif'>0.50</text><line x1="424.4" y1="129.75" x2="426.4" y2="129.75" stroke="#333" stroke-width="0.7"/><text x="423.2" y="132.35" font-size="7.4" text-anchor="end" fill="#222" font-family='"Liberation Sans", Arial, sans-serif'>0.25</text><line x1="424.4" y1="160.25" x2="426.4" y2="160.25" stroke="#333" stroke-width="0.7"/><text x="423.2" y="162.85" font-size="7.4" text-anchor="end" fill="#222" font-family='"Liberation Sans", Arial, sans-serif'>0.00</text><line x1="438.75" y1="166.2" x2="438.75" y2="168.2" stroke="#333" stroke-width="0.6"/><text x="438.75" y="173.7" font-size="5.1" text-anchor="middle" fill="#222" font-family='"Liberation Sans", Arial, sans-serif'>0</text><line x1="453.89" y1="166.2" x2="453.89" y2="168.2" stroke="#333" stroke-width="0.6"/><text x="453.89" y="173.7" font-size="5.1" text-anchor="middle" fill="#222" font-family='"Liberation Sans", Arial, sans-serif'>500</text><line x1="469.03" y1="166.2" x2="469.03" y2="168.2" stroke="#333" stroke-width="0.6"/><text x="469.03" y="173.7" font-size="5.1" text-anchor="middle" fill="#222" font-family='"Liberation Sans", Arial, sans-serif'>1000</text><line x1="484.17" y1="166.2" x2="484.17" y2="168.2" stroke="#333" stroke-width="0.6"/><text x="484.17" y="173.7" font-size="5.1" text-anchor="middle" fill="#222" font-family='"Liberation Sans", Arial, sans-serif'>1500</text><line x1="499.31" y1="166.2" x2="499.31" y2="168.2" stroke="#333" stroke-width="0.6"/><text x="499.31" y="173.7" font-size="5.1" text-anchor="middle" fill="#222" font-family='"Liberation Sans", Arial, sans-serif'>2000</text><line x1="514.45" y1="166.2" x2="514.45" y2="168.2" stroke="#333" stroke-width="0.6"/><text x="514.45" y="173.7" font-size="5.1" text-anchor="middle" fill="#222" font-family='"Liberation Sans", Arial, sans-serif'>2500</text><line x1="529.59" y1="166.2" x2="529.59" y2="168.2" stroke="#333" stroke-width="0.6"/><text x="529.59" y="173.7" font-size="5.1" text-anchor="middle" fill="#222" font-family='"Liberation Sans", Arial, sans-serif'>3000</text><line x1="544.73" y1="166.2" x2="544.73" y2="168.2" stroke="#333" stroke-width="0.6"/><text x="544.73" y="173.7" font-size="5.1" text-anchor="middle" fill="#222" font-family='"Liberation Sans", Arial, sans-serif'>3500</text><line x1="559.87" y1="166.2" x2="559.87" y2="168.2" stroke="#333" stroke-width="0.6"/><text x="559.87" y="173.7" font-size="5.1" text-anchor="middle" fill="#222" font-family='"Liberation Sans", Arial, sans-serif'>4000</text><line x1="575.01" y1="166.2" x2="575.01" y2="168.2" stroke="#333" stroke-width="0.6"/><text x="575.01" y="173.7" font-size="5.1" text-anchor="middle" fill="#222" font-family='"Liberation Sans", Arial, sans-serif'>4500</text><line x1="590.15" y1="166.2" x2="590.15" y2="168.2" stroke="#333" stroke-width="0.6"/><text x="590.15" y="173.7" font-size="5.1" text-anchor="middle" fill="#222" font-family='"Liberation Sans", Arial, sans-serif'>5000</text><line x1="605.29" y1="166.2" x2="605.29" y2="168.2" stroke="#333" stroke-width="0.6"/><text x="605.29" y="173.7" font-size="5.1" text-anchor="middle" fill="#222" font-family='"Liberation Sans", Arial, sans-serif'>5500</text><line x1="620.43" y1="166.2" x2="620.43" y2="168.2" stroke="#333" stroke-width="0.6"/><text x="620.43" y="173.7" font-size="5.1" text-anchor="middle" fill="#222" font-family='"Liberation Sans", Arial, sans-serif'>6000</text><line x1="635.57" y1="166.2" x2="635.57" y2="168.2" stroke="#333" stroke-width="0.6"/><text x="635.57" y="173.7" font-size="5.1" text-anchor="middle" fill="#222" font-family='"Liberation Sans", Arial, sans-serif'>6500</text><line x1="650.71" y1="166.2" x2="650.71" y2="168.2" stroke="#333" stroke-width="0.6"/><text x="650.71" y="173.7" font-size="5.1" text-anchor="middle" fill="#222" font-family='"Liberation Sans", Arial, sans-serif'>7000</text><line x1="665.85" y1="166.2" x2="665.85" y2="168.2" stroke="#333" stroke-width="0.6"/><text x="665.85" y="173.7" font-size="5.1" text-anchor="middle" fill="#222" font-family='"Liberation Sans", Arial, sans-serif'>7500</text><line x1="680.99" y1="166.2" x2="680.99" y2="168.2" stroke="#333" stroke-width="0.6"/><text x="680.99" y="173.7" font-size="5.1" text-anchor="middle" fill="#222" font-family='"Liberation Sans", Arial, sans-serif'>8000</text><text x="560" y="181.4" font-size="7.2" text-anchor="middle" fill="#111" font-family='"Liberation Sans", Arial, sans-serif'>Time</text><text transform="translate(405 99) rotate(-90)" font-size="6.9" text-anchor="middle" fill="#111" font-family='"Liberation Sans", Arial, sans-serif'>Survival probability</text><text x="443" y="138.8" font-size="7.3" fill="#111" font-family='"Liberation Sans", Arial, sans-serif'>p = 0.00087</text><rect x="452.1" y="15.200000000000001" width="7.5" height="7.8" fill="#F8766D" fill-opacity="0.22"/><path d="M452.70000000000005 19.700000000000003L454.6 18.5L456.1 19.3L459.0 19.5" stroke="#E36B66" stroke-width="1.1" fill="none"/><text x="463.40000000000003" y="21.4" font-size="7.35" fill="#111" font-family='"Liberation Sans", Arial, sans-serif'>Group=endo cluster 9_High</text><rect x="570.4" y="15.200000000000001" width="7.5" height="7.8" fill="#00BFC4" fill-opacity="0.22"/><path d="M571.0 19.700000000000003L572.9 18.5L574.4 19.3L577.3 19.5" stroke="#1FAAA2" stroke-width="1.1" fill="none"/><text x="581.8" y="21.4" font-size="7.35" fill="#111" font-family='"Liberation Sans", Arial, sans-serif'>Group=endo cluster 9_Low</text><text x="445.8" y="193.8" font-size="7.3" fill="#111" font-family='"Liberation Sans", Arial, sans-serif'>Number at risk</text><rect x="445.5" y="197.5" width="246.3" height="28.4" fill="none" stroke="#333" stroke-width="0.9"/><rect x="429.4" y="200.4" width="7.5" height="7.8" fill="#F8766D" fill-opacity="0.22"/><path d="M430.0 204.9L431.9 203.70000000000002L433.4 204.5L436.29999999999995 204.70000000000002" stroke="#E36B66" stroke-width="1.1" fill="none"/><rect x="429.4" y="214.2" width="7.5" height="7.8" fill="#00BFC4" fill-opacity="0.22"/><path d="M430.0 218.7L431.9 217.5L433.4 218.29999999999998L436.29999999999995 218.5" stroke="#1FAAA2" stroke-width="1.1" fill="none"/><text x="457.50" y="207.1" font-size="7.3" text-anchor="middle" fill="#111" font-family='"Liberation Sans", Arial, sans-serif'>238</text><text x="471.40" y="207.1" font-size="7.3" text-anchor="middle" fill="#111" font-family='"Liberation Sans", Arial, sans-serif'>151</text><text x="485.30" y="207.1" font-size="7.3" text-anchor="middle" fill="#111" font-family='"Liberation Sans", Arial, sans-serif'>70</text><text x="499.20" y="207.1" font-size="7.3" text-anchor="middle" fill="#111" font-family='"Liberation Sans", Arial, sans-serif'>31</text><text x="513.10" y="207.1" font-size="7.3" text-anchor="middle" fill="#111" font-family='"Liberation Sans", Arial, sans-serif'>18</text><text x="527.00" y="207.1" font-size="7.3" text-anchor="middle" fill="#111" font-family='"Liberation Sans", Arial, sans-serif'>10</text><text x="540.90" y="207.1" font-size="7.3" text-anchor="middle" fill="#111" font-family='"Liberation Sans", Arial, sans-serif'>6</text><text x="554.80" y="207.1" font-size="7.3" text-anchor="middle" fill="#111" font-family='"Liberation Sans", Arial, sans-serif'>4</text><text x="568.70" y="207.1" font-size="7.3" text-anchor="middle" fill="#111" font-family='"Liberation Sans", Arial, sans-serif'>4</text><text x="582.60" y="207.1" font-size="7.3" text-anchor="middle" fill="#111" font-family='"Liberation Sans", Arial, sans-serif'>4</text><text x="596.50" y="207.1" font-size="7.3" text-anchor="middle" fill="#111" font-family='"Liberation Sans", Arial, sans-serif'>3</text><text x="610.40" y="207.1" font-size="7.3" text-anchor="middle" fill="#111" font-family='"Liberation Sans", Arial, sans-serif'>3</text><text x="624.30" y="207.1" font-size="7.3" text-anchor="middle" fill="#111" font-family='"Liberation Sans", Arial, sans-serif'>3</text><text x="638.20" y="207.1" font-size="7.3" text-anchor="middle" fill="#111" font-family='"Liberation Sans", Arial, sans-serif'>3</text><text x="652.10" y="207.1" font-size="7.3" text-anchor="middle" fill="#111" font-family='"Liberation Sans", Arial, sans-serif'>2</text><text x="666.00" y="207.1" font-size="7.3" text-anchor="middle" fill="#111" font-family='"Liberation Sans", Arial, sans-serif'>0</text><text x="679.90" y="207.1" font-size="7.3" text-anchor="middle" fill="#111" font-family='"Liberation Sans", Arial, sans-serif'>0</text><text x="457.50" y="220.2" font-size="7.3" text-anchor="middle" fill="#111" font-family='"Liberation Sans", Arial, sans-serif'>269</text><text x="471.40" y="220.2" font-size="7.3" text-anchor="middle" fill="#111" font-family='"Liberation Sans", Arial, sans-serif'>181</text><text x="485.30" y="220.2" font-size="7.3" text-anchor="middle" fill="#111" font-family='"Liberation Sans", Arial, sans-serif'>76</text><text x="499.20" y="220.2" font-size="7.3" text-anchor="middle" fill="#111" font-family='"Liberation Sans", Arial, sans-serif'>42</text><text x="513.10" y="220.2" font-size="7.3" text-anchor="middle" fill="#111" font-family='"Liberation Sans", Arial, sans-serif'>27</text><text x="527.00" y="220.2" font-size="7.3" text-anchor="middle" fill="#111" font-family='"Liberation Sans", Arial, sans-serif'>18</text><text x="540.90" y="220.2" font-size="7.3" text-anchor="middle" fill="#111" font-family='"Liberation Sans", Arial, sans-serif'>10</text><text x="554.80" y="220.2" font-size="7.3" text-anchor="middle" fill="#111" font-family='"Liberation Sans", Arial, sans-serif'>6</text><text x="568.70" y="220.2" font-size="7.3" text-anchor="middle" fill="#111" font-family='"Liberation Sans", Arial, sans-serif'>2</text><text x="582.60" y="220.2" font-size="7.3" text-anchor="middle" fill="#111" font-family='"Liberation Sans", Arial, sans-serif'>2</text><text x="596.50" y="220.2" font-size="7.3" text-anchor="middle" fill="#111" font-family='"Liberation Sans", Arial, sans-serif'>0</text><text x="610.40" y="220.2" font-size="7.3" text-anchor="middle" fill="#111" font-family='"Liberation Sans", Arial, sans-serif'>0</text><text x="624.30" y="220.2" font-size="7.3" text-anchor="middle" fill="#111" font-family='"Liberation Sans", Arial, sans-serif'>0</text><text x="638.20" y="220.2" font-size="7.3" text-anchor="middle" fill="#111" font-family='"Liberation Sans", Arial, sans-serif'>0</text><text x="652.10" y="220.2" font-size="7.3" text-anchor="middle" fill="#111" font-family='"Liberation Sans", Arial, sans-serif'>0</text><text x="666.00" y="220.2" font-size="7.3" text-anchor="middle" fill="#111" font-family='"Liberation Sans", Arial, sans-serif'>0</text><text x="679.90" y="220.2" font-size="7.3" text-anchor="middle" fill="#111" font-family='"Liberation Sans", Arial, sans-serif'>0</text></g><text x="29" y="260.6" font-size="19.4" font-weight="bold" font-family='"Liberation Sans", Arial, sans-serif'>c</text><text x="227" y="261.7" font-size="9.8" text-anchor="middle" fill="#111" font-family='"Liberation Sans", Arial, sans-serif'>Endo cluster 1</text><text x="227" y="273.3" font-size="9.8" text-anchor="middle" fill="#111" font-family='"Liberation Sans", Arial, sans-serif'>High_La vs Low_La (Up)</text><rect x="252" y="295.00" width="86.00" height="6.5" fill="#7B2D8E"/><line x1="242.5" y1="298.25" x2="248" y2="298.25" stroke="#222" stroke-width="0.9"/><text x="239.3" y="300.50" font-size="9.8" text-anchor="end" fill="#000" font-family='"Liberation Sans", Arial, sans-serif'>cell adhesion</text><rect x="252" y="311.42" width="69.25" height="6.5" fill="#7B2D8E"/><line x1="242.5" y1="314.67" x2="248" y2="314.67" stroke="#222" stroke-width="0.9"/><text x="239.3" y="316.92" font-size="9.8" text-anchor="end" fill="#000" font-family='"Liberation Sans", Arial, sans-serif'>angiogenesis</text><rect x="252" y="327.84" width="63.00" height="6.5" fill="#7B2D8E"/><line x1="242.5" y1="331.09" x2="248" y2="331.09" stroke="#222" stroke-width="0.9"/><text x="239.3" y="333.34" font-size="9.8" text-anchor="end" fill="#000" font-family='"Liberation Sans", Arial, sans-serif'>extracellular matrix organization</text><rect x="252" y="344.26" width="49.25" height="6.5" fill="#7B2D8E"/><line x1="242.5" y1="347.51" x2="248" y2="347.51" stroke="#222" stroke-width="0.9"/><text x="239.3" y="349.76" font-size="9.8" text-anchor="end" fill="#000" font-family='"Liberation Sans", Arial, sans-serif'>negative regulation of cell population proliferation</text><rect x="252" y="360.68" width="44.25" height="6.5" fill="#7B2D8E"/><line x1="242.5" y1="363.93" x2="248" y2="363.93" stroke="#222" stroke-width="0.9"/><text x="239.3" y="366.18" font-size="9.8" text-anchor="end" fill="#000" font-family='"Liberation Sans", Arial, sans-serif'>positive regulation of cell migration</text><rect x="252" y="377.10" width="39.75" height="6.5" fill="#7B2D8E"/><line x1="242.5" y1="380.35" x2="248" y2="380.35" stroke="#222" stroke-width="0.9"/><text x="239.3" y="382.60" font-size="9.8" text-anchor="end" fill="#000" font-family='"Liberation Sans", Arial, sans-serif'>negative regulation of transcription, DNA−templated</text><rect x="252" y="393.52" width="38.75" height="6.5" fill="#7B2D8E"/><line x1="242.5" y1="396.77" x2="248" y2="396.77" stroke="#222" stroke-width="0.9"/><text x="239.3" y="399.02" font-size="9.8" text-anchor="end" fill="#000" font-family='"Liberation Sans", Arial, sans-serif'>aging</text><rect x="252" y="409.94" width="37.50" height="6.5" fill="#7B2D8E"/><line x1="242.5" y1="413.19" x2="248" y2="413.19" stroke="#222" stroke-width="0.9"/><text x="239.3" y="415.44" font-size="9.8" text-anchor="end" fill="#000" font-family='"Liberation Sans", Arial, sans-serif'>cell migration</text><rect x="252" y="426.36" width="35.00" height="6.5" fill="#7B2D8E"/><line x1="242.5" y1="429.61" x2="248" y2="429.61" stroke="#222" stroke-width="0.9"/><text x="239.3" y="431.86" font-size="9.8" text-anchor="end" fill="#000" font-family='"Liberation Sans", Arial, sans-serif'>positive regulation of gene expression</text><rect x="252" y="442.78" width="33.50" height="6.5" fill="#7B2D8E"/><line x1="242.5" y1="446.03" x2="248" y2="446.03" stroke="#222" stroke-width="0.9"/><text x="239.3" y="448.28" font-size="9.8" text-anchor="end" fill="#000" font-family='"Liberation Sans", Arial, sans-serif'>blood vessel development</text><rect x="248" y="288" width="94.5" height="167.7" fill="none" stroke="#222" stroke-width="0.9"/><line x1="252.25" y1="455.7" x2="252.25" y2="459.3" stroke="#222" stroke-width="0.9"/><text x="252.25" y="471" font-size="9.8" text-anchor="middle" fill="#111" font-family='"Liberation Sans", Arial, sans-serif'>0</text><line x1="273.75" y1="455.7" x2="273.75" y2="459.3" stroke="#222" stroke-width="0.9"/><text x="273.75" y="471" font-size="9.8" text-anchor="middle" fill="#111" font-family='"Liberation Sans", Arial, sans-serif'>5</text><line x1="295.2" y1="455.7" x2="295.2" y2="459.3" stroke="#222" stroke-width="0.9"/><text x="295.2" y="471" font-size="9.8" text-anchor="middle" fill="#111" font-family='"Liberation Sans", Arial, sans-serif'>10</text><line x1="316.7" y1="455.7" x2="316.7" y2="459.3" stroke="#222" stroke-width="0.9"/><text x="316.7" y="471" font-size="9.8" text-anchor="middle" fill="#111" font-family='"Liberation Sans", Arial, sans-serif'>15</text><line x1="338.2" y1="455.7" x2="338.2" y2="459.3" stroke="#222" stroke-width="0.9"/><text x="338.2" y="471" font-size="9.8" text-anchor="middle" fill="#111" font-family='"Liberation Sans", Arial, sans-serif'>20</text><text x="294.6" y="484.3" font-size="9.8" text-anchor="middle" fill="#111" font-family='"Liberation Sans", Arial, sans-serif'>−log10(p-value)</text><text x="371.3" y="260.2" font-size="19.4" font-weight="bold" font-family='"Liberation Sans", Arial, sans-serif'>d</text><text x="604" y="259.6" font-size="9.8" text-anchor="middle" fill="#111" font-family='"Liberation Sans", Arial, sans-serif'>Endo cluster 1</text><text x="604" y="272.0" font-size="9.8" text-anchor="middle" fill="#111" font-family='"Liberation Sans", Arial, sans-serif'>High_La vs Low_La (Down)</text><rect x="593.75" y="295.00" width="89.50" height="6.5" fill="#E8640C"/><line x1="585.7" y1="298.25" x2="589.5" y2="298.25" stroke="#222" stroke-width="0.9"/><text x="581.3" y="300.50" font-size="9.8" text-anchor="end" fill="#000" font-family='"Liberation Sans", Arial, sans-serif'>oxidation−reduction process</text><rect x="593.75" y="311.42" width="87.50" height="6.5" fill="#E8640C"/><line x1="585.7" y1="314.67" x2="589.5" y2="314.67" stroke="#222" stroke-width="0.9"/><text x="581.3" y="316.92" font-size="9.8" text-anchor="end" fill="#000" font-family='"Liberation Sans", Arial, sans-serif'>lipid metabolic process</text><rect x="593.75" y="327.84" width="76.75" height="6.5" fill="#E8640C"/><line x1="585.7" y1="331.09" x2="589.5" y2="331.09" stroke="#222" stroke-width="0.9"/><text x="581.3" y="333.34" font-size="9.8" text-anchor="end" fill="#000" font-family='"Liberation Sans", Arial, sans-serif'>neutrophil degranulation</text><rect x="593.75" y="344.26" width="72.75" height="6.5" fill="#E8640C"/><line x1="585.7" y1="347.51" x2="589.5" y2="347.51" stroke="#222" stroke-width="0.9"/><text x="581.3" y="349.76" font-size="9.8" text-anchor="end" fill="#000" font-family='"Liberation Sans", Arial, sans-serif'>neuromuscular junction development</text><rect x="593.75" y="360.68" width="72.50" height="6.5" fill="#E8640C"/><line x1="585.7" y1="363.93" x2="589.5" y2="363.93" stroke="#222" stroke-width="0.9"/><text x="581.3" y="366.18" font-size="9.8" text-anchor="end" fill="#000" font-family='"Liberation Sans", Arial, sans-serif'>negative regulation of cell migration</text><rect x="593.75" y="377.10" width="72.00" height="6.5" fill="#E8640C"/><line x1="585.7" y1="380.35" x2="589.5" y2="380.35" stroke="#222" stroke-width="0.9"/><text x="581.3" y="382.60" font-size="9.8" text-anchor="end" fill="#000" font-family='"Liberation Sans", Arial, sans-serif'>response to bacterium</text><rect x="593.75" y="393.52" width="70.50" height="6.5" fill="#E8640C"/><line x1="585.7" y1="396.77" x2="589.5" y2="396.77" stroke="#222" stroke-width="0.9"/><text x="581.3" y="399.02" font-size="9.8" text-anchor="end" fill="#000" font-family='"Liberation Sans", Arial, sans-serif'>positive regulation of gene expression</text><rect x="593.75" y="409.94" width="66.25" height="6.5" fill="#E8640C"/><line x1="585.7" y1="413.19" x2="589.5" y2="413.19" stroke="#222" stroke-width="0.9"/><text x="581.3" y="415.44" font-size="9.8" text-anchor="end" fill="#000" font-family='"Liberation Sans", Arial, sans-serif'>apoptotic process</text><rect x="593.75" y="426.36" width="65.00" height="6.5" fill="#E8640C"/><line x1="585.7" y1="429.61" x2="589.5" y2="429.61" stroke="#222" stroke-width="0.9"/><text x="581.3" y="431.86" font-size="9.8" text-anchor="end" fill="#000" font-family='"Liberation Sans", Arial, sans-serif'>circadian rhythm</text><rect x="593.75" y="442.78" width="63.00" height="6.5" fill="#E8640C"/><line x1="585.7" y1="446.03" x2="589.5" y2="446.03" stroke="#222" stroke-width="0.9"/><text x="581.3" y="448.28" font-size="9.8" text-anchor="end" fill="#000" font-family='"Liberation Sans", Arial, sans-serif'>fatty acid metabolic process</text><rect x="589.5" y="288" width="98.70000000000005" height="167.7" fill="none" stroke="#222" stroke-width="0.9"/><line x1="594" y1="455.7" x2="594" y2="459.3" stroke="#222" stroke-width="0.9"/><text x="594" y="471" font-size="9.8" text-anchor="middle" fill="#111" font-family='"Liberation Sans", Arial, sans-serif'>0</text><line x1="625.5" y1="455.7" x2="625.5" y2="459.3" stroke="#222" stroke-width="0.9"/><text x="625.5" y="471" font-size="9.8" text-anchor="middle" fill="#111" font-family='"Liberation Sans", Arial, sans-serif'>2</text><line x1="657" y1="455.7" x2="657" y2="459.3" stroke="#222" stroke-width="0.9"/><text x="657" y="471" font-size="9.8" text-anchor="middle" fill="#111" font-family='"Liberation Sans", Arial, sans-serif'>4</text><text x="639.2" y="484.3" font-size="9.8" text-anchor="middle" fill="#111" font-family='"Liberation Sans", Arial, sans-serif'>−log10(p-value)</text>
<defs>
<clipPath id="c1"><rect x="73.3" y="552" width="286.7" height="152.2"/></clipPath>
<clipPath id="c2"><rect x="410" y="552" width="287" height="152.2"/></clipPath>
<clipPath id="c3"><rect x="73.3" y="733.3" width="286.7" height="152.3"/></clipPath>
<clipPath id="c4"><rect x="410" y="733.3" width="287" height="152.3"/></clipPath>
<filter id="fb1" x="0" y="0" width="1" height="1" color-interpolation-filters="sRGB">
 <feTurbulence type="fractalNoise" baseFrequency="0.32" numOctaves="3" seed="4"/>
 <feColorMatrix type="matrix" values="1 0 0 0 0  0 1 0 0 0  0 0 1 0 0  0 0 0 0 1" result="hi"/>
 <feTurbulence type="fractalNoise" baseFrequency="0.03" numOctaves="2" seed="9"/>
 <feColorMatrix type="matrix" values="1 0 0 0 0  0 1 0 0 0  0 0 1 0 0  0 0 0 0 1" result="lo"/>
 <feComposite in="hi" in2="lo" operator="arithmetic" k1="0" k2="1" k3="0.3" k4="-0.15" result="mix"/>
 <feColorMatrix in="mix" type="matrix" values="4.5 0 0 0 -1.75  4.5 0 0 0 -1.75  4.5 0 0 0 -1.75  0 0 0 0 1"/>
 <feColorMatrix type="matrix" values="0.14 0 0 0 0.02  0.22 0 0 0 0.035  0.56 0 0 0 0.1  0 0 0 0 1" result="base"/>
 <feTurbulence type="fractalNoise" baseFrequency="0.7" numOctaves="1" seed="2"/>
 <feColorMatrix type="matrix" values="0 0 0 0 0.4  0 0 0 0 0.52  0 0 0 0 0.88  9 0 0 0 -5.9" result="sp"/>
 <feComposite in="sp" in2="base" operator="over"/>
</filter>
<filter id="fb2" x="0" y="0" width="1" height="1" color-interpolation-filters="sRGB">
 <feTurbulence type="fractalNoise" baseFrequency="0.15" numOctaves="1" seed="21"/>
 <feColorMatrix type="matrix" values="1 0 0 0 0  0 1 0 0 0  0 0 1 0 0  0 0 0 0 1" result="hi"/>
 <feTurbulence type="fractalNoise" baseFrequency="0.02" numOctaves="2" seed="5"/>
 <feColorMatrix type="matrix" values="1 0 0 0 0  0 1 0 0 0  0 0 1 0 0  0 0 0 0 1" result="lo"/>
 <feComposite in="hi" in2="lo" operator="arithmetic" k1="0" k2="1" k3="0.4" k4="-0.2" result="mix"/>
 <feColorMatrix in="mix" type="matrix" values="9 0 0 0 -4.15  9 0 0 0 -4.15  9 0 0 0 -4.15  0 0 0 0 1"/>
 <feColorMatrix type="matrix" values="0.1 0 0 0 0.06  0.25 0 0 0 0.03  0.75 0 0 0 0.09  0 0 0 0 1"/>
</filter>
<filter id="bl05" x="-0.1" y="-0.1" width="1.2" height="1.2"><feGaussianBlur stdDeviation="0.55"/></filter>
<filter id="bl1" x="-0.2" y="-0.2" width="1.4" height="1.4"><feGaussianBlur stdDeviation="1.2"/></filter>
<filter id="bl3" x="-0.3" y="-0.3" width="1.6" height="1.6"><feGaussianBlur stdDeviation="3.5"/></filter>
<filter id="bl6" x="-0.4" y="-0.4" width="1.8" height="1.8"><feGaussianBlur stdDeviation="7"/></filter>
<filter id="rough" x="-0.1" y="-0.1" width="1.2" height="1.2" color-interpolation-filters="sRGB">
 <feTurbulence type="fractalNoise" baseFrequency="0.22" numOctaves="2" seed="3" result="n"/>
 <feDisplacementMap in="SourceGraphic" in2="n" scale="7" xChannelSelector="R" yChannelSelector="G" result="d"/>
 <feColorMatrix in="n" type="matrix" values="0 0 0 0 0  0 0 0 0 0  0 0 0 0 0  0 0 6 0 -2.3" result="m"/>
 <feComposite in="d" in2="m" operator="in"/>
</filter>
<filter id="speck" x="0" y="0" width="1" height="1" color-interpolation-filters="sRGB">
 <feTurbulence type="fractalNoise" baseFrequency="0.5" numOctaves="2" seed="14" result="n"/>
 <feColorMatrix in="n" type="matrix" values="0 0 0 0 0.85  0 0 0 0 0.85  0 0 0 0 0.2  9 0 0 0 -5.6"/>
</filter>
<filter id="speckb" x="0" y="0" width="1" height="1" color-interpolation-filters="sRGB">
 <feTurbulence type="fractalNoise" baseFrequency="0.3" numOctaves="2" seed="31" result="n"/>
 <feColorMatrix in="n" type="matrix" values="0 0 0 0 0.16  0 0 0 0 0.2  0 0 0 0 0.75  0 8 0 0 -4.0"/>
</filter>
<filter id="texdark" x="0" y="0" width="1" height="1" color-interpolation-filters="sRGB">
 <feTurbulence type="fractalNoise" baseFrequency="0.35" numOctaves="2" seed="8" result="n"/>
 <feColorMatrix in="n" type="matrix" values="0 0 0 0 0.05  0 0 0 0 0  0 0 0 0 0.05  0 0 7 0 -3.3"/>
</filter>
</defs><text x="119.3" y="539" font-size="19.3" font-family='"Liberation Sans", Arial, sans-serif'><tspan fill="#2FA56C">FN1</tspan><tspan fill="#111">/</tspan><tspan fill="#D4202A">ENG</tspan><tspan fill="#111">/</tspan><tspan fill="#5A3A9A">MMP2</tspan><tspan fill="#111">/</tspan><tspan fill="#1E3E96">DAPI</tspan></text><text x="466.7" y="539" font-size="19.3" font-family='"Liberation Sans", Arial, sans-serif'><tspan fill="#2FA56C">FN1</tspan><tspan fill="#111">/</tspan><tspan fill="#D4202A">ENG</tspan><tspan fill="#111">/</tspan><tspan fill="#5A3A9A">MMP2</tspan><tspan fill="#111">/</tspan><tspan fill="#1E3E96">DAPI</tspan></text><text x="37.2" y="524.3" font-size="18.2" font-weight="bold" font-family='"Liberation Sans", Arial, sans-serif'>e</text><text transform="translate(53.3 618.3) rotate(-90)" font-size="14.5" text-anchor="middle" fill="#111" font-family='"Liberation Sans", Arial, sans-serif'>Low lactate</text><text transform="translate(53.3 810) rotate(-90)" font-size="14.5" text-anchor="middle" fill="#111" font-family='"Liberation Sans", Arial, sans-serif'>High lactate</text><g clip-path="url(#c1)"><rect x="73.3" y="552" width="286.7" height="152.2" fill="#0a1040"/><rect x="73.3" y="552" width="286.7" height="152.2" filter="url(#fb1)"/><g filter="url(#bl6)"><ellipse cx="300.0" cy="640.0" rx="60.0" ry="60.0" fill="#2038c0" fill-opacity="0.22"/><ellipse cx="130.0" cy="670.0" rx="70.0" ry="40.0" fill="#040818" fill-opacity="0.25"/></g><g filter="url(#bl3)"><ellipse cx="237.0" cy="594.0" rx="5.0" ry="7.0" fill="#2c4cd0" fill-opacity="0.6"/><ellipse cx="350.0" cy="583.0" rx="8.0" ry="7.0" fill="#2c4cd0" fill-opacity="0.7"/><ellipse cx="319.0" cy="607.0" rx="16.0" ry="5.0" fill="#2c4cd0" fill-opacity="0.6"/><ellipse cx="278.0" cy="663.0" rx="7.0" ry="7.0" fill="#2c4cd0" fill-opacity="0.6"/><ellipse cx="255.0" cy="600.0" rx="12.0" ry="8.0" fill="#2c4cd0" fill-opacity="0.3"/><ellipse cx="200.0" cy="610.0" rx="8.0" ry="10.0" fill="#2c4cd0" fill-opacity="0.35"/><ellipse cx="180.0" cy="585.0" rx="8.0" ry="6.0" fill="#2c4cd0" fill-opacity="0.3"/><ellipse cx="295.0" cy="558.0" rx="18.0" ry="6.0" fill="#030512" fill-opacity="0.7"/><ellipse cx="267.0" cy="586.0" rx="14.0" ry="16.0" fill="#030512" fill-opacity="0.5"/><ellipse cx="321.0" cy="588.0" rx="9.0" ry="10.0" fill="#030512" fill-opacity="0.55"/><ellipse cx="351.0" cy="612.0" rx="9.0" ry="20.0" fill="#030512" fill-opacity="0.6"/><ellipse cx="252.0" cy="627.0" rx="14.0" ry="10.0" fill="#030512" fill-opacity="0.55"/><ellipse cx="311.0" cy="640.0" rx="11.0" ry="9.0" fill="#030512" fill-opacity="0.5"/><ellipse cx="228.0" cy="648.0" rx="6.0" ry="7.0" fill="#030512" fill-opacity="0.5"/><ellipse cx="339.0" cy="674.0" rx="9.0" ry="6.0" fill="#030512" fill-opacity="0.5"/><ellipse cx="105.0" cy="615.0" rx="10.0" ry="7.0" fill="#030512" fill-opacity="0.4"/><ellipse cx="160.0" cy="640.0" rx="12.0" ry="6.0" fill="#030512" fill-opacity="0.35"/><ellipse cx="130.0" cy="690.0" rx="12.0" ry="6.0" fill="#030512" fill-opacity="0.35"/><ellipse cx="200.0" cy="575.0" rx="10.0" ry="6.0" fill="#030512" fill-opacity="0.35"/><ellipse cx="95.0" cy="580.0" rx="9.0" ry="6.0" fill="#030512" fill-opacity="0.3"/><ellipse cx="150.0" cy="600.0" rx="7.0" ry="9.0" fill="#030512" fill-opacity="0.35"/><ellipse cx="185.0" cy="665.0" rx="10.0" ry="6.0" fill="#030512" fill-opacity="0.35"/><ellipse cx="240.0" cy="690.0" rx="10.0" ry="5.0" fill="#030512" fill-opacity="0.3"/><ellipse cx="300.0" cy="690.0" rx="10.0" ry="5.0" fill="#030512" fill-opacity="0.3"/><ellipse cx="240.0" cy="563.0" rx="10.0" ry="6.0" fill="#4a7a20" fill-opacity="0.5"/><ellipse cx="231.0" cy="600.0" rx="8.0" ry="7.0" fill="#4a7a20" fill-opacity="0.6"/><ellipse cx="321.0" cy="588.0" rx="7.0" ry="8.0" fill="#4a7a20" fill-opacity="0.45"/><ellipse cx="350.0" cy="622.0" rx="7.0" ry="10.0" fill="#4a7a20" fill-opacity="0.7"/><ellipse cx="225.0" cy="635.0" rx="5.0" ry="6.0" fill="#4a7a20" fill-opacity="0.35"/><ellipse cx="76.0" cy="690.0" rx="4.0" ry="10.0" fill="#4a7a20" fill-opacity="0.5"/><ellipse cx="290.0" cy="585.0" rx="8.0" ry="5.0" fill="#4a7a20" fill-opacity="0.3"/><ellipse cx="250.0" cy="620.0" rx="8.0" ry="4.0" fill="#4a7a20" fill-opacity="0.3"/></g><g filter="url(#bl05)"><ellipse cx="238.0" cy="560.0" rx="1.3" ry="0.9" fill="#b8d838" fill-opacity="0.9"/><ellipse cx="243.0" cy="565.0" rx="1.3" ry="0.9" fill="#b8d838" fill-opacity="0.9"/><ellipse cx="234.0" cy="566.0" rx="1.3" ry="0.9" fill="#b8d838" fill-opacity="0.9"/><ellipse cx="247.0" cy="561.0" rx="1.3" ry="0.9" fill="#b8d838" fill-opacity="0.9"/><ellipse cx="348.0" cy="618.0" rx="1.3" ry="0.9" fill="#b8d838" fill-opacity="0.9"/><ellipse cx="353.0" cy="626.0" rx="1.3" ry="0.9" fill="#b8d838" fill-opacity="0.9"/><ellipse cx="349.0" cy="630.0" rx="1.3" ry="0.9" fill="#b8d838" fill-opacity="0.9"/><ellipse cx="355.0" cy="621.0" rx="1.3" ry="0.9" fill="#b8d838" fill-opacity="0.9"/><ellipse cx="229.0" cy="598.0" rx="1.3" ry="0.9" fill="#b8d838" fill-opacity="0.9"/><ellipse cx="233.0" cy="603.0" rx="1.3" ry="0.9" fill="#b8d838" fill-opacity="0.9"/><ellipse cx="322.0" cy="585.0" rx="1.3" ry="0.9" fill="#b8d838" fill-opacity="0.9"/><ellipse cx="132.5" cy="586.5" rx="0.9" ry="0.9" fill="#e8a040" fill-opacity="0.9"/><ellipse cx="92.0" cy="578.0" rx="0.9" ry="0.9" fill="#e8a040" fill-opacity="0.9"/><ellipse cx="146.0" cy="661.0" rx="0.9" ry="0.9" fill="#e8a040" fill-opacity="0.9"/><ellipse cx="298.0" cy="590.0" rx="0.9" ry="0.9" fill="#e8a040" fill-opacity="0.9"/></g></g><g clip-path="url(#c2)"><rect x="410" y="552" width="287" height="152.2" fill="#150a1e"/><g filter="url(#bl3)"><ellipse cx="450.0" cy="595.0" rx="18.0" ry="20.0" fill="#3a0a20" fill-opacity="0.5"/><ellipse cx="500.0" cy="600.0" rx="25.0" ry="14.0" fill="#3a0a20" fill-opacity="0.4"/><ellipse cx="470.0" cy="640.0" rx="20.0" ry="12.0" fill="#3a0a20" fill-opacity="0.35"/><ellipse cx="520.0" cy="565.0" rx="30.0" ry="10.0" fill="#3a0a20" fill-opacity="0.4"/><ellipse cx="457.0" cy="588.0" rx="7.0" ry="9.0" fill="#3c5c18" fill-opacity="0.55"/><ellipse cx="534.0" cy="598.0" rx="12.0" ry="9.0" fill="#3c5c18" fill-opacity="0.5"/><ellipse cx="540.0" cy="632.0" rx="12.0" ry="16.0" fill="#3c5c18" fill-opacity="0.55"/><ellipse cx="612.0" cy="618.0" rx="26.0" ry="14.0" fill="#3c5c18" fill-opacity="0.45"/><ellipse cx="662.0" cy="624.0" rx="18.0" ry="11.0" fill="#3c5c18" fill-opacity="0.45"/><ellipse cx="586.0" cy="655.0" rx="10.0" ry="8.0" fill="#3c5c18" fill-opacity="0.3"/><ellipse cx="560.0" cy="640.0" rx="8.0" ry="8.0" fill="#3c5c18" fill-opacity="0.35"/><ellipse cx="655.0" cy="648.0" rx="9.0" ry="6.0" fill="#3c5c18" fill-opacity="0.35"/></g><g filter="url(#bl05)"><ellipse cx="629.1" cy="589.2" rx="2.8" ry="2.1" fill="#142a8c" transform="rotate(61 629.1 589.2)"/><ellipse cx="519.5" cy="656.8" rx="2.9" ry="2.7" fill="#1c38b4" transform="rotate(3 519.5 656.8)"/><ellipse cx="564.7" cy="696.4" rx="3.5" ry="2.5" fill="#264cd6" transform="rotate(174 564.7 696.4)"/><ellipse cx="670.5" cy="608.3" rx="3.6" ry="2.5" fill="#1e3ec0" transform="rotate(67 670.5 608.3)"/><ellipse cx="452.3" cy="653.0" rx="3.2" ry="2.7" fill="#1e3ec0" transform="rotate(141 452.3 653.0)"/><ellipse cx="410.2" cy="581.8" rx="3.4" ry="2.7" fill="#264cd6" transform="rotate(162 410.2 581.8)"/><ellipse cx="542.5" cy="690.4" rx="2.9" ry="2.3" fill="#264cd6" transform="rotate(60 542.5 690.4)"/><ellipse cx="675.9" cy="575.1" rx="3.6" ry="2.7" fill="#1e3ec0" transform="rotate(154 675.9 575.1)"/><ellipse cx="694.0" cy="697.3" rx="3.5" ry="2.5" fill="#1c38b4" transform="rotate(110 694.0 697.3)"/><ellipse cx="600.1" cy="555.8" rx="3.9" ry="2.7" fill="#2246cc" transform="rotate(18 600.1 555.8)"/><ellipse cx="414.8" cy="623.9" rx="3.8" ry="2.1" fill="#1a34a8" transform="rotate(63 414.8 623.9)"/><ellipse cx="646.5" cy="562.7" rx="2.9" ry="2.7" fill="#2246cc" transform="rotate(28 646.5 562.7)"/><ellipse cx="466.4" cy="672.8" rx="3.4" ry="2.0" fill="#1e3ec0" transform="rotate(171 466.4 672.8)"/><ellipse cx="446.1" cy="684.8" rx="3.7" ry="2.4" fill="#1a34a8" transform="rotate(13 446.1 684.8)"/><ellipse cx="436.1" cy="572.4" rx="3.1" ry="2.7" fill="#264cd6" transform="rotate(124 436.1 572.4)"/><ellipse cx="458.7" cy="577.7" rx="3.4" ry="2.4" fill="#1a34a8" transform="rotate(114 458.7 577.7)"/><ellipse cx="571.2" cy="670.2" rx="2.7" ry="2.2" fill="#182f9a" transform="rotate(161 571.2 670.2)"/><ellipse cx="640.2" cy="682.0" rx="3.2" ry="2.2" fill="#142a8c" transform="rotate(60 640.2 682.0)"/><ellipse cx="442.1" cy="678.3" rx="3.3" ry="2.4" fill="#182f9a" transform="rotate(117 442.1 678.3)"/><ellipse cx="664.0" cy="694.0" rx="3.9" ry="2.3" fill="#1e3ec0" transform="rotate(25 664.0 694.0)"/><ellipse cx="598.4" cy="651.9" rx="3.8" ry="2.0" fill="#182f9a" transform="rotate(139 598.4 651.9)"/><ellipse cx="498.4" cy="686.4" rx="3.0" ry="2.6" fill="#142a8c" transform="rotate(25 498.4 686.4)"/><ellipse cx="626.7" cy="562.5" rx="3.8" ry="2.5" fill="#142a8c" transform="rotate(28 626.7 562.5)"/><ellipse cx="535.4" cy="700.4" rx="3.8" ry="2.3" fill="#2246cc" transform="rotate(50 535.4 700.4)"/><ellipse cx="672.0" cy="686.4" rx="2.9" ry="2.7" fill="#264cd6" transform="rotate(55 672.0 686.4)"/><ellipse cx="599.5" cy="645.3" rx="3.1" ry="2.1" fill="#142a8c" transform="rotate(142 599.5 645.3)"/><ellipse cx="490.1" cy="655.8" rx="3.7" ry="2.6" fill="#1c38b4" transform="rotate(67 490.1 655.8)"/><ellipse cx="518.5" cy="688.4" rx="2.9" ry="2.6" fill="#2246cc" transform="rotate(16 518.5 688.4)"/><ellipse cx="508.5" cy="654.1" rx="2.7" ry="2.6" fill="#142a8c" transform="rotate(97 508.5 654.1)"/><ellipse cx="610.1" cy="700.5" rx="3.1" ry="2.2" fill="#1a34a8" transform="rotate(137 610.1 700.5)"/><ellipse cx="599.2" cy="665.9" rx="3.5" ry="2.6" fill="#264cd6" transform="rotate(145 599.2 665.9)"/><ellipse cx="562.7" cy="550.2" rx="2.7" ry="2.5" fill="#182f9a" transform="rotate(116 562.7 550.2)"/><ellipse cx="625.5" cy="576.1" rx="3.8" ry="2.8" fill="#1c38b4" transform="rotate(124 625.5 576.1)"/><ellipse cx="467.7" cy="666.8" rx="2.9" ry="2.3" fill="#182f9a" transform="rotate(179 467.7 666.8)"/><ellipse cx="562.5" cy="646.7" rx="3.4" ry="2.5" fill="#142a8c" transform="rotate(106 562.5 646.7)"/><ellipse cx="497.5" cy="640.6" rx="3.2" ry="2.2" fill="#264cd6" transform="rotate(102 497.5 640.6)"/><ellipse cx="515.4" cy="636.9" rx="3.4" ry="2.5" fill="#1e3ec0" transform="rotate(48 515.4 636.9)"/><ellipse cx="493.9" cy="668.0" rx="3.4" ry="2.6" fill="#182f9a" transform="rotate(162 493.9 668.0)"/><ellipse cx="696.6" cy="673.8" rx="3.5" ry="2.3" fill="#1c38b4" transform="rotate(146 696.6 673.8)"/><ellipse cx="655.4" cy="659.5" rx="3.6" ry="2.1" fill="#1c38b4" transform="rotate(58 655.4 659.5)"/><ellipse cx="648.6" cy="696.2" rx="2.9" ry="2.5" fill="#1a34a8" transform="rotate(135 648.6 696.2)"/><ellipse cx="547.4" cy="689.3" rx="3.7" ry="2.1" fill="#142a8c" transform="rotate(118 547.4 689.3)"/><ellipse cx="421.8" cy="555.6" rx="2.8" ry="2.1" fill="#182f9a" transform="rotate(130 421.8 555.6)"/><ellipse cx="597.9" cy="677.2" rx="2.7" ry="2.8" fill="#142a8c" transform="rotate(135 597.9 677.2)"/><ellipse cx="431.7" cy="655.7" rx="2.7" ry="2.4" fill="#264cd6" transform="rotate(91 431.7 655.7)"/><ellipse cx="618.9" cy="678.7" rx="2.9" ry="2.3" fill="#264cd6" transform="rotate(21 618.9 678.7)"/><ellipse cx="451.7" cy="563.5" rx="3.5" ry="2.7" fill="#2246cc" transform="rotate(11 451.7 563.5)"/><ellipse cx="456.5" cy="685.9" rx="2.6" ry="2.6" fill="#182f9a" transform="rotate(24 456.5 685.9)"/><ellipse cx="616.6" cy="645.9" rx="2.8" ry="2.7" fill="#1c38b4" transform="rotate(152 616.6 645.9)"/><ellipse cx="507.6" cy="647.5" rx="3.3" ry="2.2" fill="#2246cc" transform="rotate(33 507.6 647.5)"/><ellipse cx="689.3" cy="664.0" rx="3.8" ry="2.3" fill="#142a8c" transform="rotate(31 689.3 664.0)"/><ellipse cx="606.5" cy="565.1" rx="3.5" ry="2.6" fill="#264cd6" transform="rotate(167 606.5 565.1)"/><ellipse cx="639.3" cy="586.7" rx="3.0" ry="2.2" fill="#1e3ec0" transform="rotate(66 639.3 586.7)"/><ellipse cx="662.4" cy="562.5" rx="3.1" ry="2.6" fill="#182f9a" transform="rotate(141 662.4 562.5)"/><ellipse cx="645.8" cy="686.6" rx="3.4" ry="2.7" fill="#264cd6" transform="rotate(81 645.8 686.6)"/><ellipse cx="652.0" cy="670.8" rx="3.4" ry="2.7" fill="#142a8c" transform="rotate(6 652.0 670.8)"/><ellipse cx="421.3" cy="611.9" rx="3.5" ry="2.4" fill="#2246cc" transform="rotate(59 421.3 611.9)"/><ellipse cx="682.6" cy="687.4" rx="2.6" ry="2.4" fill="#1e3ec0" transform="rotate(146 682.6 687.4)"/><ellipse cx="643.6" cy="596.1" rx="3.0" ry="2.7" fill="#264cd6" transform="rotate(136 643.6 596.1)"/><ellipse cx="429.0" cy="605.2" rx="3.2" ry="2.0" fill="#1e3ec0" transform="rotate(80 429.0 605.2)"/><ellipse cx="584.5" cy="599.5" rx="3.3" ry="2.5" fill="#264cd6" transform="rotate(126 584.5 599.5)"/><ellipse cx="644.8" cy="645.2" rx="3.6" ry="2.2" fill="#1a34a8" transform="rotate(164 644.8 645.2)"/><ellipse cx="557.1" cy="690.6" rx="3.0" ry="2.6" fill="#1e3ec0" transform="rotate(79 557.1 690.6)"/><ellipse cx="696.6" cy="583.1" rx="3.4" ry="2.1" fill="#182f9a" transform="rotate(82 696.6 583.1)"/><ellipse cx="554.4" cy="696.2" rx="2.7" ry="2.3" fill="#1c38b4" transform="rotate(61 554.4 696.2)"/><ellipse cx="692.2" cy="561.5" rx="2.9" ry="2.7" fill="#1e3ec0" transform="rotate(135 692.2 561.5)"/><ellipse cx="579.2" cy="603.2" rx="3.5" ry="2.4" fill="#1a34a8" transform="rotate(172 579.2 603.2)"/><ellipse cx="434.5" cy="628.3" rx="3.1" ry="2.3" fill="#142a8c" transform="rotate(44 434.5 628.3)"/><ellipse cx="468.6" cy="683.3" rx="3.7" ry="2.7" fill="#182f9a" transform="rotate(53 468.6 683.3)"/><ellipse cx="641.0" cy="571.0" rx="3.5" ry="2.3" fill="#2246cc" transform="rotate(179 641.0 571.0)"/><ellipse cx="622.8" cy="588.8" rx="3.0" ry="2.5" fill="#1c38b4" transform="rotate(70 622.8 588.8)"/><ellipse cx="554.8" cy="685.8" rx="3.2" ry="2.1" fill="#142a8c" transform="rotate(107 554.8 685.8)"/><ellipse cx="566.1" cy="586.6" rx="3.4" ry="2.2" fill="#142a8c" transform="rotate(80 566.1 586.6)"/><ellipse cx="422.5" cy="595.7" rx="3.1" ry="2.4" fill="#1e3ec0" transform="rotate(19 422.5 595.7)"/><ellipse cx="486.1" cy="694.0" rx="3.6" ry="2.2" fill="#1c38b4" transform="rotate(134 486.1 694.0)"/><ellipse cx="482.2" cy="640.1" rx="3.9" ry="2.5" fill="#2246cc" transform="rotate(158 482.2 640.1)"/><ellipse cx="682.6" cy="554.2" rx="3.3" ry="2.2" fill="#264cd6" transform="rotate(101 682.6 554.2)"/><ellipse cx="475.4" cy="644.9" rx="2.6" ry="2.3" fill="#142a8c" transform="rotate(1 475.4 644.9)"/><ellipse cx="634.9" cy="553.4" rx="3.7" ry="2.5" fill="#1c38b4" transform="rotate(79 634.9 553.4)"/><ellipse cx="441.2" cy="618.0" rx="3.8" ry="2.7" fill="#1e3ec0" transform="rotate(28 441.2 618.0)"/><ellipse cx="515.6" cy="616.1" rx="3.2" ry="2.4" fill="#142a8c" transform="rotate(132 515.6 616.1)"/><ellipse cx="662.9" cy="669.8" rx="3.9" ry="2.1" fill="#142a8c" transform="rotate(60 662.9 669.8)"/><ellipse cx="671.2" cy="591.0" rx="3.3" ry="2.5" fill="#2246cc" transform="rotate(152 671.2 591.0)"/><ellipse cx="487.5" cy="588.0" rx="2.9" ry="2.1" fill="#182f9a" transform="rotate(169 487.5 588.0)"/><ellipse cx="678.7" cy="584.3" rx="2.6" ry="2.7" fill="#182f9a" transform="rotate(174 678.7 584.3)"/><ellipse cx="663.0" cy="646.9" rx="3.6" ry="2.5" fill="#142a8c" transform="rotate(66 663.0 646.9)"/><ellipse cx="501.4" cy="705.4" rx="3.8" ry="2.2" fill="#1e3ec0" transform="rotate(67 501.4 705.4)"/><ellipse cx="584.0" cy="633.4" rx="3.2" ry="2.2" fill="#1c38b4" transform="rotate(140 584.0 633.4)"/><ellipse cx="697.9" cy="563.3" rx="3.6" ry="2.6" fill="#1e3ec0" transform="rotate(176 697.9 563.3)"/><ellipse cx="592.6" cy="684.5" rx="3.2" ry="2.1" fill="#142a8c" transform="rotate(27 592.6 684.5)"/><ellipse cx="697.1" cy="552.0" rx="3.9" ry="2.3" fill="#2246cc" transform="rotate(63 697.1 552.0)"/><ellipse cx="491.5" cy="680.7" rx="3.6" ry="2.4" fill="#264cd6" transform="rotate(27 491.5 680.7)"/><ellipse cx="625.8" cy="679.2" rx="3.9" ry="2.6" fill="#182f9a" transform="rotate(15 625.8 679.2)"/><ellipse cx="666.5" cy="643.2" rx="3.2" ry="2.1" fill="#1e3ec0" transform="rotate(162 666.5 643.2)"/><ellipse cx="464.8" cy="695.6" rx="3.0" ry="2.5" fill="#264cd6" transform="rotate(124 464.8 695.6)"/><ellipse cx="614.0" cy="577.0" rx="2.6" ry="2.1" fill="#1c38b4" transform="rotate(57 614.0 577.0)"/><ellipse cx="433.9" cy="567.4" rx="3.3" ry="2.4" fill="#1c38b4" transform="rotate(77 433.9 567.4)"/><ellipse cx="673.6" cy="697.1" rx="3.4" ry="2.3" fill="#264cd6" transform="rotate(11 673.6 697.1)"/><ellipse cx="414.0" cy="644.5" rx="3.8" ry="2.3" fill="#142a8c" transform="rotate(16 414.0 644.5)"/><ellipse cx="421.3" cy="633.3" rx="3.2" ry="2.0" fill="#182f9a" transform="rotate(6 421.3 633.3)"/><ellipse cx="685.9" cy="637.1" rx="3.1" ry="2.6" fill="#182f9a" transform="rotate(162 685.9 637.1)"/><ellipse cx="650.7" cy="577.0" rx="3.1" ry="2.2" fill="#182f9a" transform="rotate(20 650.7 577.0)"/><ellipse cx="503.7" cy="699.0" rx="2.9" ry="2.7" fill="#1a34a8" transform="rotate(132 503.7 699.0)"/><ellipse cx="608.4" cy="663.4" rx="2.7" ry="2.7" fill="#182f9a" transform="rotate(178 608.4 663.4)"/><ellipse cx="434.9" cy="611.0" rx="3.3" ry="2.4" fill="#1e3ec0" transform="rotate(46 434.9 611.0)"/><ellipse cx="660.4" cy="635.0" rx="3.4" ry="2.2" fill="#2246cc" transform="rotate(50 660.4 635.0)"/><ellipse cx="516.4" cy="650.1" rx="3.2" ry="2.5" fill="#2246cc" transform="rotate(49 516.4 650.1)"/><ellipse cx="675.3" cy="703.2" rx="3.3" ry="2.2" fill="#182f9a" transform="rotate(69 675.3 703.2)"/><ellipse cx="679.6" cy="613.6" rx="3.4" ry="2.5" fill="#142a8c" transform="rotate(18 679.6 613.6)"/><ellipse cx="445.5" cy="654.1" rx="3.0" ry="2.2" fill="#1e3ec0" transform="rotate(170 445.5 654.1)"/><ellipse cx="631.4" cy="697.5" rx="2.8" ry="2.2" fill="#2246cc" transform="rotate(168 631.4 697.5)"/><ellipse cx="668.8" cy="585.6" rx="3.2" ry="2.1" fill="#182f9a" transform="rotate(5 668.8 585.6)"/><ellipse cx="597.5" cy="628.0" rx="4.0" ry="2.2" fill="#2246cc" transform="rotate(134 597.5 628.0)"/><ellipse cx="511.3" cy="699.3" rx="3.2" ry="2.1" fill="#1a34a8" transform="rotate(27 511.3 699.3)"/><ellipse cx="511.4" cy="665.5" rx="3.3" ry="2.0" fill="#1c38b4" transform="rotate(142 511.4 665.5)"/><ellipse cx="679.3" cy="620.4" rx="2.8" ry="2.6" fill="#1a34a8" transform="rotate(10 679.3 620.4)"/><ellipse cx="533.5" cy="688.6" rx="3.9" ry="2.7" fill="#1e3ec0" transform="rotate(121 533.5 688.6)"/><ellipse cx="618.2" cy="555.1" rx="2.7" ry="2.1" fill="#1c38b4" transform="rotate(155 618.2 555.1)"/><ellipse cx="516.1" cy="668.5" rx="3.6" ry="2.3" fill="#142a8c" transform="rotate(61 516.1 668.5)"/><ellipse cx="609.2" cy="555.0" rx="3.1" ry="2.7" fill="#264cd6" transform="rotate(80 609.2 555.0)"/><ellipse cx="564.1" cy="581.3" rx="3.0" ry="2.6" fill="#264cd6" transform="rotate(90 564.1 581.3)"/><ellipse cx="528.7" cy="655.6" rx="3.0" ry="2.2" fill="#142a8c" transform="rotate(52 528.7 655.6)"/><ellipse cx="528.0" cy="704.4" rx="3.4" ry="2.7" fill="#1a34a8" transform="rotate(7 528.0 704.4)"/><ellipse cx="408.0" cy="576.8" rx="2.7" ry="2.0" fill="#2246cc" transform="rotate(55 408.0 576.8)"/><ellipse cx="691.9" cy="659.6" rx="2.8" ry="2.6" fill="#182f9a" transform="rotate(13 691.9 659.6)"/><ellipse cx="663.2" cy="661.1" rx="3.8" ry="2.2" fill="#1e3ec0" transform="rotate(61 663.2 661.1)"/><ellipse cx="413.2" cy="632.5" rx="2.6" ry="2.7" fill="#264cd6" transform="rotate(103 413.2 632.5)"/><ellipse cx="620.9" cy="577.7" rx="3.8" ry="2.6" fill="#182f9a" transform="rotate(176 620.9 577.7)"/><ellipse cx="602.4" cy="573.9" rx="2.7" ry="2.3" fill="#1e3ec0" transform="rotate(123 602.4 573.9)"/><ellipse cx="686.5" cy="583.1" rx="3.3" ry="2.7" fill="#1e3ec0" transform="rotate(78 686.5 583.1)"/><ellipse cx="480.0" cy="704.2" rx="2.7" ry="2.2" fill="#264cd6" transform="rotate(110 480.0 704.2)"/><ellipse cx="618.9" cy="563.4" rx="2.6" ry="2.0" fill="#264cd6" transform="rotate(84 618.9 563.4)"/><ellipse cx="687.6" cy="647.2" rx="3.1" ry="2.5" fill="#1c38b4" transform="rotate(122 687.6 647.2)"/><ellipse cx="609.1" cy="571.2" rx="3.6" ry="2.4" fill="#264cd6" transform="rotate(167 609.1 571.2)"/><ellipse cx="663.5" cy="569.0" rx="3.4" ry="2.6" fill="#1e3ec0" transform="rotate(120 663.5 569.0)"/><ellipse cx="565.4" cy="667.7" rx="3.4" ry="2.8" fill="#1c38b4" transform="rotate(14 565.4 667.7)"/><ellipse cx="579.3" cy="579.5" rx="3.0" ry="2.7" fill="#142a8c" transform="rotate(144 579.3 579.5)"/><ellipse cx="685.8" cy="670.3" rx="3.7" ry="2.6" fill="#1e3ec0" transform="rotate(79 685.8 670.3)"/><ellipse cx="481.9" cy="604.0" rx="3.0" ry="2.7" fill="#264cd6" transform="rotate(62 481.9 604.0)"/><ellipse cx="685.9" cy="678.2" rx="3.1" ry="2.4" fill="#1c38b4" transform="rotate(130 685.9 678.2)"/><ellipse cx="679.9" cy="698.5" rx="3.3" ry="2.4" fill="#182f9a" transform="rotate(57 679.9 698.5)"/><ellipse cx="624.4" cy="698.1" rx="3.3" ry="2.2" fill="#1c38b4" transform="rotate(125 624.4 698.1)"/><ellipse cx="548.2" cy="673.1" rx="3.1" ry="2.7" fill="#1a34a8" transform="rotate(177 548.2 673.1)"/><ellipse cx="641.7" cy="611.9" rx="3.0" ry="2.7" fill="#182f9a" transform="rotate(101 641.7 611.9)"/><ellipse cx="653.0" cy="551.1" rx="3.8" ry="2.7" fill="#2246cc" transform="rotate(124 653.0 551.1)"/><ellipse cx="486.2" cy="664.7" rx="3.3" ry="2.7" fill="#1c38b4" transform="rotate(112 486.2 664.7)"/><ellipse cx="576.6" cy="686.6" rx="3.3" ry="2.6" fill="#182f9a" transform="rotate(72 576.6 686.6)"/><ellipse cx="417.6" cy="704.0" rx="3.2" ry="2.2" fill="#2246cc" transform="rotate(143 417.6 704.0)"/><ellipse cx="477.6" cy="588.7" rx="3.1" ry="2.3" fill="#182f9a" transform="rotate(135 477.6 588.7)"/><ellipse cx="489.7" cy="700.3" rx="3.0" ry="2.2" fill="#142a8c" transform="rotate(93 489.7 700.3)"/><ellipse cx="662.5" cy="701.6" rx="3.9" ry="2.4" fill="#1e3ec0" transform="rotate(142 662.5 701.6)"/><ellipse cx="458.8" cy="704.3" rx="3.5" ry="2.6" fill="#1c38b4" transform="rotate(123 458.8 704.3)"/><ellipse cx="429.7" cy="562.3" rx="2.9" ry="2.0" fill="#1c38b4" transform="rotate(22 429.7 562.3)"/><ellipse cx="618.5" cy="693.6" rx="3.1" ry="2.7" fill="#1e3ec0" transform="rotate(143 618.5 693.6)"/><ellipse cx="634.8" cy="577.2" rx="2.7" ry="2.6" fill="#264cd6" transform="rotate(48 634.8 577.2)"/><ellipse cx="586.2" cy="567.3" rx="3.7" ry="2.6" fill="#264cd6" transform="rotate(141 586.2 567.3)"/><ellipse cx="457.8" cy="616.5" rx="3.5" ry="2.3" fill="#1c38b4" transform="rotate(66 457.8 616.5)"/><ellipse cx="657.0" cy="562.5" rx="3.9" ry="2.2" fill="#142a8c" transform="rotate(52 657.0 562.5)"/><ellipse cx="478.5" cy="680.0" rx="2.8" ry="2.3" fill="#1a34a8" transform="rotate(98 478.5 680.0)"/><ellipse cx="631.5" cy="633.6" rx="3.2" ry="2.6" fill="#1c38b4" transform="rotate(136 631.5 633.6)"/><ellipse cx="559.0" cy="570.3" rx="3.7" ry="2.0" fill="#1c38b4" transform="rotate(20 559.0 570.3)"/><ellipse cx="626.8" cy="667.1" rx="3.1" ry="2.4" fill="#142a8c" transform="rotate(3 626.8 667.1)"/><ellipse cx="429.0" cy="580.9" rx="3.0" ry="2.4" fill="#1c38b4" transform="rotate(166 429.0 580.9)"/><ellipse cx="446.6" cy="574.1" rx="2.7" ry="2.1" fill="#2246cc" transform="rotate(33 446.6 574.1)"/><ellipse cx="635.2" cy="604.4" rx="2.8" ry="2.4" fill="#264cd6" transform="rotate(26 635.2 604.4)"/><ellipse cx="655.8" cy="699.2" rx="3.8" ry="2.5" fill="#1e3ec0" transform="rotate(49 655.8 699.2)"/><ellipse cx="626.7" cy="631.4" rx="3.5" ry="2.5" fill="#264cd6" transform="rotate(121 626.7 631.4)"/><ellipse cx="578.0" cy="631.1" rx="2.9" ry="2.4" fill="#142a8c" transform="rotate(14 578.0 631.1)"/><ellipse cx="535.2" cy="647.3" rx="3.1" ry="2.7" fill="#1c38b4" transform="rotate(165 535.2 647.3)"/><ellipse cx="667.0" cy="679.2" rx="4.0" ry="2.2" fill="#182f9a" transform="rotate(78 667.0 679.2)"/><ellipse cx="557.8" cy="583.4" rx="3.7" ry="2.5" fill="#1c38b4" transform="rotate(103 557.8 583.4)"/><ellipse cx="480.2" cy="651.1" rx="3.8" ry="2.4" fill="#1e3ec0" transform="rotate(172 480.2 651.1)"/><ellipse cx="671.9" cy="652.7" rx="3.2" ry="2.4" fill="#1e3ec0" transform="rotate(18 671.9 652.7)"/><ellipse cx="610.8" cy="641.2" rx="2.8" ry="2.3" fill="#264cd6" transform="rotate(158 610.8 641.2)"/><ellipse cx="625.2" cy="551.6" rx="3.5" ry="2.3" fill="#2246cc" transform="rotate(100 625.2 551.6)"/><ellipse cx="636.9" cy="665.6" rx="2.7" ry="2.8" fill="#1a34a8" transform="rotate(149 636.9 665.6)"/><ellipse cx="672.0" cy="599.5" rx="3.8" ry="2.6" fill="#1a34a8" transform="rotate(45 672.0 599.5)"/><ellipse cx="656.2" cy="665.2" rx="3.3" ry="2.7" fill="#182f9a" transform="rotate(161 656.2 665.2)"/><ellipse cx="576.8" cy="663.9" rx="2.9" ry="2.2" fill="#264cd6" transform="rotate(85 576.8 663.9)"/><ellipse cx="698.7" cy="701.3" rx="3.8" ry="2.0" fill="#182f9a" transform="rotate(120 698.7 701.3)"/><ellipse cx="572.8" cy="683.4" rx="2.6" ry="2.4" fill="#142a8c" transform="rotate(0 572.8 683.4)"/><ellipse cx="595.9" cy="570.0" rx="2.7" ry="2.0" fill="#1e3ec0" transform="rotate(2 595.9 570.0)"/><ellipse cx="629.8" cy="676.3" rx="3.1" ry="2.4" fill="#264cd6" transform="rotate(55 629.8 676.3)"/><ellipse cx="666.2" cy="573.1" rx="3.0" ry="2.7" fill="#264cd6" transform="rotate(12 666.2 573.1)"/><ellipse cx="453.1" cy="571.2" rx="3.8" ry="2.5" fill="#142a8c" transform="rotate(25 453.1 571.2)"/><ellipse cx="465.5" cy="644.2" rx="3.3" ry="2.2" fill="#2246cc" transform="rotate(18 465.5 644.2)"/><ellipse cx="497.8" cy="673.0" rx="2.6" ry="2.8" fill="#1c38b4" transform="rotate(59 497.8 673.0)"/><ellipse cx="660.4" cy="550.1" rx="2.8" ry="2.6" fill="#2246cc" transform="rotate(153 660.4 550.1)"/><ellipse cx="445.5" cy="558.0" rx="2.7" ry="2.1" fill="#264cd6" transform="rotate(14 445.5 558.0)"/><ellipse cx="408.9" cy="554.7" rx="3.8" ry="2.0" fill="#182f9a" transform="rotate(174 408.9 554.7)"/><ellipse cx="634.4" cy="588.7" rx="2.8" ry="2.1" fill="#264cd6" transform="rotate(3 634.4 588.7)"/><ellipse cx="602.2" cy="688.7" rx="3.9" ry="2.1" fill="#1e3ec0" transform="rotate(89 602.2 688.7)"/><ellipse cx="408.5" cy="562.8" rx="3.2" ry="2.2" fill="#182f9a" transform="rotate(47 408.5 562.8)"/><ellipse cx="461.0" cy="634.3" rx="3.6" ry="2.7" fill="#1e3ec0" transform="rotate(85 461.0 634.3)"/><ellipse cx="616.0" cy="589.0" rx="3.1" ry="2.1" fill="#1c38b4" transform="rotate(133 616.0 589.0)"/><ellipse cx="444.4" cy="612.8" rx="3.6" ry="2.1" fill="#1e3ec0" transform="rotate(46 444.4 612.8)"/><ellipse cx="620.8" cy="659.0" rx="3.5" ry="2.5" fill="#264cd6" transform="rotate(141 620.8 659.0)"/><ellipse cx="576.5" cy="694.3" rx="3.5" ry="2.7" fill="#182f9a" transform="rotate(96 576.5 694.3)"/><ellipse cx="436.1" cy="557.8" rx="3.3" ry="2.6" fill="#2246cc" transform="rotate(36 436.1 557.8)"/><ellipse cx="653.0" cy="569.1" rx="2.7" ry="2.6" fill="#1c38b4" transform="rotate(123 653.0 569.1)"/><ellipse cx="475.4" cy="597.9" rx="3.4" ry="2.7" fill="#142a8c" transform="rotate(83 475.4 597.9)"/><ellipse cx="442.9" cy="568.8" rx="3.8" ry="2.7" fill="#264cd6" transform="rotate(101 442.9 568.8)"/><ellipse cx="585.4" cy="694.9" rx="3.3" ry="2.5" fill="#182f9a" transform="rotate(9 585.4 694.9)"/><ellipse cx="483.9" cy="684.0" rx="3.3" ry="2.1" fill="#264cd6" transform="rotate(87 483.9 684.0)"/><ellipse cx="577.8" cy="704.3" rx="3.7" ry="2.1" fill="#182f9a" transform="rotate(96 577.8 704.3)"/><ellipse cx="409.9" cy="616.4" rx="3.2" ry="2.6" fill="#1e3ec0" transform="rotate(4 409.9 616.4)"/><ellipse cx="651.4" cy="654.5" rx="3.4" ry="2.3" fill="#2246cc" transform="rotate(33 651.4 654.5)"/><ellipse cx="422.2" cy="577.3" rx="3.4" ry="2.3" fill="#2246cc" transform="rotate(58 422.2 577.3)"/><ellipse cx="625.6" cy="686.1" rx="3.3" ry="2.1" fill="#2246cc" transform="rotate(155 625.6 686.1)"/><ellipse cx="480.3" cy="658.5" rx="3.1" ry="2.2" fill="#1e3ec0" transform="rotate(118 480.3 658.5)"/><ellipse cx="635.4" cy="558.9" rx="3.1" ry="2.3" fill="#182f9a" transform="rotate(53 635.4 558.9)"/><ellipse cx="638.6" cy="695.0" rx="3.5" ry="2.2" fill="#1e3ec0" transform="rotate(114 638.6 695.0)"/><ellipse cx="428.6" cy="571.1" rx="2.9" ry="2.4" fill="#1a34a8" transform="rotate(23 428.6 571.1)"/><ellipse cx="599.1" cy="660.2" rx="3.9" ry="2.5" fill="#1a34a8" transform="rotate(100 599.1 660.2)"/><ellipse cx="683.7" cy="656.5" rx="3.5" ry="2.4" fill="#1e3ec0" transform="rotate(86 683.7 656.5)"/><ellipse cx="435.8" cy="604.6" rx="3.4" ry="2.1" fill="#182f9a" transform="rotate(72 435.8 604.6)"/><ellipse cx="554.0" cy="673.5" rx="4.0" ry="2.6" fill="#2246cc" transform="rotate(107 554.0 673.5)"/><ellipse cx="663.1" cy="685.9" rx="2.9" ry="2.2" fill="#182f9a" transform="rotate(8 663.1 685.9)"/><ellipse cx="536.1" cy="694.3" rx="3.5" ry="2.1" fill="#2246cc" transform="rotate(160 536.1 694.3)"/><ellipse cx="653.7" cy="582.1" rx="3.9" ry="2.5" fill="#2246cc" transform="rotate(49 653.7 582.1)"/><ellipse cx="433.3" cy="576.7" rx="2.9" ry="2.7" fill="#1a34a8" transform="rotate(28 433.3 576.7)"/><ellipse cx="677.8" cy="559.5" rx="3.0" ry="2.7" fill="#182f9a" transform="rotate(98 677.8 559.5)"/><ellipse cx="430.2" cy="630.7" rx="3.7" ry="2.3" fill="#264cd6" transform="rotate(87 430.2 630.7)"/><ellipse cx="429.5" cy="676.3" rx="3.1" ry="2.1" fill="#1a34a8" transform="rotate(144 429.5 676.3)"/><ellipse cx="641.6" cy="690.6" rx="4.0" ry="2.3" fill="#264cd6" transform="rotate(169 641.6 690.6)"/><ellipse cx="592.0" cy="559.9" rx="3.2" ry="2.7" fill="#1e3ec0" transform="rotate(3 592.0 559.9)"/><ellipse cx="694.4" cy="679.9" rx="3.8" ry="2.0" fill="#1c38b4" transform="rotate(175 694.4 679.9)"/><ellipse cx="625.3" cy="600.6" rx="3.5" ry="2.7" fill="#264cd6" transform="rotate(82 625.3 600.6)"/><ellipse cx="652.2" cy="689.5" rx="3.6" ry="2.5" fill="#1e3ec0" transform="rotate(82 652.2 689.5)"/><ellipse cx="565.9" cy="686.2" rx="2.6" ry="2.6" fill="#1e3ec0" transform="rotate(135 565.9 686.2)"/><ellipse cx="594.9" cy="635.4" rx="2.9" ry="2.3" fill="#264cd6" transform="rotate(21 594.9 635.4)"/><ellipse cx="423.3" cy="687.5" rx="3.1" ry="2.6" fill="#1e3ec0" transform="rotate(137 423.3 687.5)"/><ellipse cx="642.3" cy="671.9" rx="3.4" ry="2.4" fill="#264cd6" transform="rotate(35 642.3 671.9)"/><ellipse cx="441.6" cy="672.3" rx="3.5" ry="2.0" fill="#142a8c" transform="rotate(120 441.6 672.3)"/><ellipse cx="592.9" cy="700.9" rx="3.6" ry="2.2" fill="#1e3ec0" transform="rotate(2 592.9 700.9)"/><ellipse cx="600.4" cy="607.2" rx="4.0" ry="2.3" fill="#182f9a" transform="rotate(139 600.4 607.2)"/><ellipse cx="601.7" cy="550.9" rx="3.2" ry="2.1" fill="#2246cc" transform="rotate(61 601.7 550.9)"/><ellipse cx="567.1" cy="655.6" rx="2.9" ry="2.2" fill="#264cd6" transform="rotate(71 567.1 655.6)"/><ellipse cx="482.3" cy="583.3" rx="3.5" ry="2.7" fill="#142a8c" transform="rotate(20 482.3 583.3)"/><ellipse cx="689.4" cy="551.3" rx="3.6" ry="2.6" fill="#264cd6" transform="rotate(142 689.4 551.3)"/><ellipse cx="450.3" cy="679.2" rx="2.8" ry="2.5" fill="#1a34a8" transform="rotate(146 450.3 679.2)"/><ellipse cx="597.6" cy="583.0" rx="3.7" ry="2.3" fill="#182f9a" transform="rotate(161 597.6 583.0)"/><ellipse cx="666.3" cy="579.2" rx="3.6" ry="2.4" fill="#1e3ec0" transform="rotate(128 666.3 579.2)"/><ellipse cx="490.3" cy="685.5" rx="3.0" ry="2.0" fill="#264cd6" transform="rotate(12 490.3 685.5)"/><ellipse cx="562.8" cy="678.3" rx="3.3" ry="2.3" fill="#1c38b4" transform="rotate(154 562.8 678.3)"/><ellipse cx="684.1" cy="621.6" rx="3.9" ry="2.6" fill="#1e3ec0" transform="rotate(76 684.1 621.6)"/><ellipse cx="608.2" cy="635.2" rx="3.5" ry="2.8" fill="#142a8c" transform="rotate(71 608.2 635.2)"/><ellipse cx="418.4" cy="582.4" rx="2.6" ry="2.7" fill="#1e3ec0" transform="rotate(24 418.4 582.4)"/><ellipse cx="416.4" cy="588.8" rx="3.0" ry="2.1" fill="#182f9a" transform="rotate(38 416.4 588.8)"/><ellipse cx="649.7" cy="680.1" rx="2.7" ry="2.5" fill="#1c38b4" transform="rotate(23 649.7 680.1)"/><ellipse cx="426.4" cy="566.4" rx="3.7" ry="2.5" fill="#1e3ec0" transform="rotate(174 426.4 566.4)"/><ellipse cx="609.5" cy="561.2" rx="3.5" ry="2.3" fill="#142a8c" transform="rotate(24 609.5 561.2)"/><ellipse cx="447.6" cy="551.5" rx="3.4" ry="2.3" fill="#1a34a8" transform="rotate(90 447.6 551.5)"/><ellipse cx="438.1" cy="586.3" rx="2.6" ry="2.3" fill="#1c38b4" transform="rotate(88 438.1 586.3)"/><ellipse cx="617.0" cy="686.5" rx="2.9" ry="2.4" fill="#2246cc" transform="rotate(164 617.0 686.5)"/><ellipse cx="589.6" cy="571.4" rx="3.0" ry="2.1" fill="#1e3ec0" transform="rotate(146 589.6 571.4)"/><ellipse cx="419.0" cy="684.2" rx="2.7" ry="2.1" fill="#264cd6" transform="rotate(82 419.0 684.2)"/><ellipse cx="572.8" cy="637.2" rx="3.7" ry="2.6" fill="#1a34a8" transform="rotate(147 572.8 637.2)"/><ellipse cx="678.3" cy="551.7" rx="3.6" ry="2.3" fill="#264cd6" transform="rotate(101 678.3 551.7)"/><ellipse cx="671.0" cy="577.8" rx="3.3" ry="2.8" fill="#1a34a8" transform="rotate(93 671.0 577.8)"/><ellipse cx="657.4" cy="649.1" rx="2.7" ry="2.3" fill="#1e3ec0" transform="rotate(28 657.4 649.1)"/><ellipse cx="443.6" cy="704.7" rx="2.9" ry="2.3" fill="#142a8c" transform="rotate(154 443.6 704.7)"/><ellipse cx="429.8" cy="666.6" rx="3.1" ry="2.1" fill="#264cd6" transform="rotate(137 429.8 666.6)"/><ellipse cx="560.1" cy="670.0" rx="2.6" ry="2.1" fill="#142a8c" transform="rotate(100 560.1 670.0)"/><ellipse cx="423.0" cy="702.6" rx="3.0" ry="2.2" fill="#142a8c" transform="rotate(28 423.0 702.6)"/><ellipse cx="630.4" cy="615.1" rx="2.9" ry="2.1" fill="#142a8c" transform="rotate(140 630.4 615.1)"/><ellipse cx="650.0" cy="595.9" rx="3.2" ry="2.3" fill="#142a8c" transform="rotate(125 650.0 595.9)"/><ellipse cx="573.7" cy="560.0" rx="4.0" ry="2.5" fill="#1a34a8" transform="rotate(71 573.7 560.0)"/><ellipse cx="697.2" cy="651.7" rx="3.7" ry="2.3" fill="#142a8c" transform="rotate(68 697.2 651.7)"/><ellipse cx="681.9" cy="704.6" rx="3.6" ry="2.3" fill="#1c38b4" transform="rotate(50 681.9 704.6)"/><ellipse cx="666.2" cy="591.5" rx="3.1" ry="2.4" fill="#1a34a8" transform="rotate(58 666.2 591.5)"/><ellipse cx="676.9" cy="675.2" rx="3.0" ry="2.1" fill="#182f9a" transform="rotate(54 676.9 675.2)"/><ellipse cx="561.4" cy="664.2" rx="3.5" ry="2.5" fill="#1a34a8" transform="rotate(40 561.4 664.2)"/><ellipse cx="500.1" cy="594.3" rx="3.5" ry="2.7" fill="#182f9a" transform="rotate(52 500.1 594.3)"/><ellipse cx="520.0" cy="641.9" rx="4.0" ry="2.7" fill="#1a34a8" transform="rotate(143 520.0 641.9)"/><ellipse cx="408.2" cy="704.3" rx="3.6" ry="2.5" fill="#1c38b4" transform="rotate(157 408.2 704.3)"/><ellipse cx="650.9" cy="701.7" rx="3.3" ry="2.6" fill="#2246cc" transform="rotate(147 650.9 701.7)"/><ellipse cx="486.2" cy="676.4" rx="3.0" ry="2.4" fill="#264cd6" transform="rotate(52 486.2 676.4)"/><ellipse cx="489.8" cy="672.5" rx="2.9" ry="2.3" fill="#264cd6" transform="rotate(143 489.8 672.5)"/><ellipse cx="695.5" cy="609.7" rx="3.2" ry="2.7" fill="#1c38b4" transform="rotate(171 695.5 609.7)"/><ellipse cx="507.5" cy="611.2" rx="3.1" ry="2.5" fill="#1c38b4" transform="rotate(63 507.5 611.2)"/><ellipse cx="632.8" cy="670.5" rx="3.1" ry="2.4" fill="#264cd6" transform="rotate(140 632.8 670.5)"/><ellipse cx="637.3" cy="673.1" rx="3.0" ry="2.4" fill="#1a34a8" transform="rotate(152 637.3 673.1)"/><ellipse cx="573.3" cy="700.6" rx="3.0" ry="2.5" fill="#264cd6" transform="rotate(67 573.3 700.6)"/><ellipse cx="580.9" cy="641.7" rx="2.6" ry="2.3" fill="#1a34a8" transform="rotate(156 580.9 641.7)"/><ellipse cx="511.7" cy="684.4" rx="3.8" ry="2.3" fill="#264cd6" transform="rotate(88 511.7 684.4)"/><ellipse cx="592.8" cy="690.9" rx="3.9" ry="2.1" fill="#1a34a8" transform="rotate(61 592.8 690.9)"/><ellipse cx="470.4" cy="694.5" rx="3.8" ry="2.6" fill="#1e3ec0" transform="rotate(3 470.4 694.5)"/><ellipse cx="426.2" cy="619.5" rx="3.1" ry="2.5" fill="#142a8c" transform="rotate(133 426.2 619.5)"/><ellipse cx="691.9" cy="579.3" rx="3.4" ry="2.3" fill="#264cd6" transform="rotate(72 691.9 579.3)"/><ellipse cx="624.0" cy="558.3" rx="2.9" ry="2.4" fill="#1c38b4" transform="rotate(80 624.0 558.3)"/><ellipse cx="499.0" cy="616.1" rx="3.2" ry="2.5" fill="#1e3ec0" transform="rotate(72 499.0 616.1)"/><ellipse cx="671.2" cy="572.1" rx="3.3" ry="2.7" fill="#1e3ec0" transform="rotate(176 671.2 572.1)"/><ellipse cx="547.7" cy="657.2" rx="2.7" ry="2.5" fill="#1c38b4" transform="rotate(57 547.7 657.2)"/><ellipse cx="490.2" cy="690.5" rx="2.8" ry="2.3" fill="#2246cc" transform="rotate(62 490.2 690.5)"/><ellipse cx="442.2" cy="659.3" rx="2.8" ry="2.7" fill="#1c38b4" transform="rotate(21 442.2 659.3)"/><ellipse cx="659.1" cy="689.1" rx="3.4" ry="2.2" fill="#264cd6" transform="rotate(155 659.1 689.1)"/><ellipse cx="520.9" cy="705.3" rx="3.1" ry="2.0" fill="#2246cc" transform="rotate(0 520.9 705.3)"/><ellipse cx="621.1" cy="653.1" rx="2.7" ry="2.2" fill="#1a34a8" transform="rotate(95 621.1 653.1)"/><ellipse cx="547.9" cy="701.4" rx="3.5" ry="2.1" fill="#264cd6" transform="rotate(131 547.9 701.4)"/><ellipse cx="451.6" cy="619.5" rx="3.7" ry="2.3" fill="#2246cc" transform="rotate(108 451.6 619.5)"/><ellipse cx="512.0" cy="627.8" rx="3.3" ry="2.2" fill="#182f9a" transform="rotate(161 512.0 627.8)"/><ellipse cx="573.7" cy="603.4" rx="3.7" ry="2.6" fill="#264cd6" transform="rotate(59 573.7 603.4)"/><ellipse cx="469.9" cy="699.7" rx="3.9" ry="2.2" fill="#1a34a8" transform="rotate(150 469.9 699.7)"/><ellipse cx="451.2" cy="696.4" rx="3.1" ry="2.7" fill="#142a8c" transform="rotate(88 451.2 696.4)"/><ellipse cx="582.0" cy="686.2" rx="3.7" ry="2.3" fill="#142a8c" transform="rotate(138 582.0 686.2)"/><ellipse cx="605.8" cy="659.2" rx="3.0" ry="2.6" fill="#2246cc" transform="rotate(3 605.8 659.2)"/><ellipse cx="692.3" cy="702.9" rx="2.8" ry="2.7" fill="#142a8c" transform="rotate(147 692.3 702.9)"/><ellipse cx="597.9" cy="692.6" rx="3.2" ry="2.4" fill="#1e3ec0" transform="rotate(104 597.9 692.6)"/><ellipse cx="482.2" cy="689.7" rx="2.6" ry="2.3" fill="#1a34a8" transform="rotate(43 482.2 689.7)"/><ellipse cx="465.1" cy="624.9" rx="2.9" ry="2.5" fill="#142a8c" transform="rotate(100 465.1 624.9)"/><ellipse cx="667.3" cy="565.1" rx="3.5" ry="2.5" fill="#1e3ec0" transform="rotate(21 667.3 565.1)"/><ellipse cx="539.4" cy="705.8" rx="3.3" ry="2.0" fill="#264cd6" transform="rotate(158 539.4 705.8)"/><ellipse cx="642.4" cy="650.4" rx="3.8" ry="2.3" fill="#2246cc" transform="rotate(21 642.4 650.4)"/><ellipse cx="686.3" cy="570.6" rx="3.4" ry="2.0" fill="#264cd6" transform="rotate(156 686.3 570.6)"/><ellipse cx="454.0" cy="626.3" rx="3.8" ry="2.2" fill="#182f9a" transform="rotate(111 454.0 626.3)"/><ellipse cx="621.7" cy="631.8" rx="2.7" ry="2.0" fill="#264cd6" transform="rotate(140 621.7 631.8)"/><ellipse cx="600.9" cy="567.6" rx="3.1" ry="2.6" fill="#1e3ec0" transform="rotate(81 600.9 567.6)"/><ellipse cx="681.2" cy="667.0" rx="3.3" ry="2.4" fill="#2246cc" transform="rotate(88 681.2 667.0)"/><ellipse cx="562.2" cy="705.6" rx="3.9" ry="2.2" fill="#1a34a8" transform="rotate(4 562.2 705.6)"/><ellipse cx="408.1" cy="597.8" rx="4.0" ry="2.1" fill="#182f9a" transform="rotate(76 408.1 597.8)"/><ellipse cx="413.0" cy="592.6" rx="3.4" ry="2.2" fill="#1e3ec0" transform="rotate(64 413.0 592.6)"/><ellipse cx="567.5" cy="691.3" rx="3.8" ry="2.1" fill="#182f9a" transform="rotate(140 567.5 691.3)"/><ellipse cx="489.7" cy="646.2" rx="3.0" ry="2.4" fill="#182f9a" transform="rotate(106 489.7 646.2)"/><ellipse cx="439.4" cy="647.1" rx="3.3" ry="2.6" fill="#1a34a8" transform="rotate(80 439.4 647.1)"/><ellipse cx="610.5" cy="590.9" rx="3.7" ry="2.0" fill="#264cd6" transform="rotate(13 610.5 590.9)"/><ellipse cx="441.0" cy="693.5" rx="3.4" ry="2.4" fill="#1e3ec0" transform="rotate(165 441.0 693.5)"/><ellipse cx="464.4" cy="704.5" rx="3.6" ry="2.3" fill="#142a8c" transform="rotate(73 464.4 704.5)"/><ellipse cx="487.6" cy="553.2" rx="3.8" ry="2.6" fill="#2246cc" transform="rotate(50 487.6 553.2)"/><ellipse cx="432.4" cy="687.3" rx="3.4" ry="2.4" fill="#142a8c" transform="rotate(73 432.4 687.3)"/><ellipse cx="584.2" cy="572.4" rx="3.0" ry="2.6" fill="#1e3ec0" transform="rotate(126 584.2 572.4)"/><ellipse cx="471.6" cy="672.6" rx="3.3" ry="2.0" fill="#2246cc" transform="rotate(83 471.6 672.6)"/><ellipse cx="614.8" cy="570.3" rx="3.5" ry="2.2" fill="#182f9a" transform="rotate(39 614.8 570.3)"/><ellipse cx="418.4" cy="689.5" rx="2.7" ry="2.1" fill="#1c38b4" transform="rotate(53 418.4 689.5)"/><ellipse cx="616.9" cy="620.3" rx="3.6" ry="2.2" fill="#264cd6" transform="rotate(123 616.9 620.3)"/><ellipse cx="410.5" cy="666.5" rx="3.2" ry="2.7" fill="#1a34a8" transform="rotate(119 410.5 666.5)"/><ellipse cx="500.9" cy="648.9" rx="3.5" ry="2.6" fill="#1e3ec0" transform="rotate(47 500.9 648.9)"/><ellipse cx="461.4" cy="673.3" rx="2.7" ry="2.1" fill="#1e3ec0" transform="rotate(109 461.4 673.3)"/><ellipse cx="593.8" cy="641.7" rx="3.1" ry="2.0" fill="#2246cc" transform="rotate(97 593.8 641.7)"/><ellipse cx="573.4" cy="608.9" rx="2.9" ry="2.2" fill="#182f9a" transform="rotate(84 573.4 608.9)"/><ellipse cx="669.0" cy="665.9" rx="3.1" ry="2.6" fill="#142a8c" transform="rotate(26 669.0 665.9)"/><ellipse cx="605.7" cy="645.3" rx="3.0" ry="2.5" fill="#264cd6" transform="rotate(120 605.7 645.3)"/><ellipse cx="514.7" cy="692.0" rx="3.5" ry="2.2" fill="#1a34a8" transform="rotate(178 514.7 692.0)"/><ellipse cx="603.8" cy="694.8" rx="4.0" ry="2.7" fill="#1e3ec0" transform="rotate(109 603.8 694.8)"/><ellipse cx="645.6" cy="585.5" rx="2.9" ry="2.4" fill="#1c38b4" transform="rotate(151 645.6 585.5)"/><ellipse cx="660.0" cy="574.4" rx="3.9" ry="2.1" fill="#182f9a" transform="rotate(174 660.0 574.4)"/><ellipse cx="630.2" cy="658.8" rx="3.5" ry="2.3" fill="#142a8c" transform="rotate(119 630.2 658.8)"/><ellipse cx="605.0" cy="584.5" rx="3.5" ry="2.3" fill="#1e3ec0" transform="rotate(11 605.0 584.5)"/><ellipse cx="552.7" cy="638.6" rx="3.5" ry="2.3" fill="#264cd6" transform="rotate(9 552.7 638.6)"/><ellipse cx="682.1" cy="661.5" rx="3.1" ry="2.1" fill="#1a34a8" transform="rotate(142 682.1 661.5)"/><ellipse cx="668.9" cy="700.7" rx="3.3" ry="2.6" fill="#142a8c" transform="rotate(2 668.9 700.7)"/><ellipse cx="658.5" cy="567.5" rx="2.9" ry="2.4" fill="#1c38b4" transform="rotate(21 658.5 567.5)"/><ellipse cx="698.6" cy="694.8" rx="4.0" ry="2.3" fill="#2246cc" transform="rotate(156 698.6 694.8)"/><ellipse cx="437.2" cy="690.0" rx="3.4" ry="2.0" fill="#1c38b4" transform="rotate(68 437.2 690.0)"/><ellipse cx="688.1" cy="564.8" rx="3.5" ry="2.7" fill="#1e3ec0" transform="rotate(137 688.1 564.8)"/><ellipse cx="579.9" cy="698.9" rx="3.9" ry="2.1" fill="#1a34a8" transform="rotate(86 579.9 698.9)"/><ellipse cx="498.8" cy="632.9" rx="3.8" ry="2.2" fill="#2246cc" transform="rotate(72 498.8 632.9)"/><ellipse cx="626.7" cy="571.2" rx="3.8" ry="2.5" fill="#142a8c" transform="rotate(12 626.7 571.2)"/><ellipse cx="615.5" cy="659.4" rx="3.1" ry="2.5" fill="#264cd6" transform="rotate(56 615.5 659.4)"/><ellipse cx="438.1" cy="622.4" rx="3.8" ry="2.5" fill="#182f9a" transform="rotate(124 438.1 622.4)"/><ellipse cx="636.3" cy="700.2" rx="2.9" ry="2.2" fill="#1e3ec0" transform="rotate(82 636.3 700.2)"/><ellipse cx="496.4" cy="705.0" rx="4.0" ry="2.1" fill="#142a8c" transform="rotate(48 496.4 705.0)"/><ellipse cx="608.9" cy="625.8" rx="2.9" ry="2.3" fill="#142a8c" transform="rotate(51 608.9 625.8)"/><ellipse cx="415.7" cy="667.0" rx="3.5" ry="2.6" fill="#142a8c" transform="rotate(72 415.7 667.0)"/><ellipse cx="695.1" cy="557.6" rx="2.8" ry="2.6" fill="#264cd6" transform="rotate(156 695.1 557.6)"/><ellipse cx="428.3" cy="683.3" rx="2.6" ry="2.5" fill="#1a34a8" transform="rotate(175 428.3 683.3)"/><ellipse cx="604.9" cy="676.2" rx="3.8" ry="2.5" fill="#1a34a8" transform="rotate(166 604.9 676.2)"/><ellipse cx="457.3" cy="550.2" rx="3.4" ry="2.2" fill="#1e3ec0" transform="rotate(23 457.3 550.2)"/><ellipse cx="680.1" cy="679.5" rx="3.8" ry="2.7" fill="#264cd6" transform="rotate(117 680.1 679.5)"/><ellipse cx="576.8" cy="650.1" rx="3.4" ry="2.7" fill="#182f9a" transform="rotate(150 576.8 650.1)"/><ellipse cx="420.2" cy="694.9" rx="3.2" ry="2.3" fill="#2246cc" transform="rotate(86 420.2 694.9)"/><ellipse cx="484.6" cy="656.2" rx="3.4" ry="2.5" fill="#1e3ec0" transform="rotate(29 484.6 656.2)"/><ellipse cx="462.0" cy="682.8" rx="3.6" ry="2.2" fill="#264cd6" transform="rotate(121 462.0 682.8)"/><ellipse cx="521.6" cy="601.0" rx="3.6" ry="2.3" fill="#1c38b4" transform="rotate(10 521.6 601.0)"/><ellipse cx="436.0" cy="660.1" rx="3.9" ry="2.4" fill="#142a8c" transform="rotate(96 436.0 660.1)"/><ellipse cx="524.3" cy="697.3" rx="3.7" ry="2.5" fill="#264cd6" transform="rotate(76 524.3 697.3)"/><ellipse cx="613.5" cy="673.6" rx="2.8" ry="2.4" fill="#1c38b4" transform="rotate(0 613.5 673.6)"/><ellipse cx="679.4" cy="570.3" rx="2.6" ry="2.8" fill="#1c38b4" transform="rotate(93 679.4 570.3)"/><ellipse cx="591.7" cy="675.0" rx="3.4" ry="2.2" fill="#1c38b4" transform="rotate(20 591.7 675.0)"/><ellipse cx="475.6" cy="701.0" rx="3.6" ry="2.5" fill="#142a8c" transform="rotate(142 475.6 701.0)"/><ellipse cx="408.8" cy="634.6" rx="2.8" ry="2.7" fill="#1a34a8" transform="rotate(116 408.8 634.6)"/><ellipse cx="657.6" cy="673.8" rx="3.7" ry="2.5" fill="#1a34a8" transform="rotate(36 657.6 673.8)"/><ellipse cx="542.8" cy="672.7" rx="3.0" ry="2.3" fill="#182f9a" transform="rotate(31 542.8 672.7)"/><ellipse cx="567.5" cy="681.0" rx="3.0" ry="2.7" fill="#264cd6" transform="rotate(171 567.5 681.0)"/><ellipse cx="651.0" cy="639.4" rx="3.8" ry="2.6" fill="#1c38b4" transform="rotate(110 651.0 639.4)"/><ellipse cx="450.5" cy="705.9" rx="3.8" ry="2.0" fill="#182f9a" transform="rotate(138 450.5 705.9)"/><ellipse cx="578.8" cy="584.5" rx="2.7" ry="2.1" fill="#1a34a8" transform="rotate(13 578.8 584.5)"/><ellipse cx="527.8" cy="645.0" rx="2.7" ry="2.2" fill="#1a34a8" transform="rotate(59 527.8 645.0)"/><ellipse cx="698.8" cy="599.5" rx="3.4" ry="2.4" fill="#182f9a" transform="rotate(148 698.8 599.5)"/><ellipse cx="456.7" cy="564.9" rx="3.6" ry="2.0" fill="#1c38b4" transform="rotate(57 456.7 564.9)"/><ellipse cx="434.4" cy="582.6" rx="3.6" ry="2.1" fill="#142a8c" transform="rotate(113 434.4 582.6)"/><ellipse cx="454.0" cy="663.6" rx="3.5" ry="2.4" fill="#1e3ec0" transform="rotate(1 454.0 663.6)"/><ellipse cx="459.2" cy="572.5" rx="2.9" ry="2.1" fill="#1c38b4" transform="rotate(64 459.2 572.5)"/><ellipse cx="619.8" cy="670.9" rx="3.2" ry="2.7" fill="#182f9a" transform="rotate(64 619.8 670.9)"/><ellipse cx="658.8" cy="694.2" rx="3.9" ry="2.3" fill="#1a34a8" transform="rotate(17 658.8 694.2)"/><ellipse cx="411.2" cy="627.8" rx="2.7" ry="2.3" fill="#2246cc" transform="rotate(112 411.2 627.8)"/><ellipse cx="576.5" cy="572.5" rx="2.8" ry="2.2" fill="#142a8c" transform="rotate(35 576.5 572.5)"/><ellipse cx="601.7" cy="561.7" rx="3.1" ry="2.4" fill="#1a34a8" transform="rotate(162 601.7 561.7)"/><ellipse cx="480.2" cy="675.3" rx="3.9" ry="2.1" fill="#1e3ec0" transform="rotate(135 480.2 675.3)"/><ellipse cx="647.0" cy="669.8" rx="2.7" ry="2.5" fill="#1a34a8" transform="rotate(59 647.0 669.8)"/><ellipse cx="512.8" cy="657.2" rx="3.8" ry="2.4" fill="#1a34a8" transform="rotate(145 512.8 657.2)"/><ellipse cx="507.4" cy="639.1" rx="3.9" ry="2.7" fill="#1a34a8" transform="rotate(168 507.4 639.1)"/><ellipse cx="524.3" cy="689.6" rx="3.5" ry="2.0" fill="#2246cc" transform="rotate(59 524.3 689.6)"/><ellipse cx="577.7" cy="672.3" rx="3.9" ry="2.6" fill="#1c38b4" transform="rotate(133 577.7 672.3)"/><ellipse cx="646.0" cy="568.9" rx="3.0" ry="2.4" fill="#1a34a8" transform="rotate(159 646.0 568.9)"/><ellipse cx="632.6" cy="682.3" rx="3.5" ry="2.3" fill="#2246cc" transform="rotate(105 632.6 682.3)"/><ellipse cx="451.4" cy="686.1" rx="2.8" ry="2.6" fill="#1e3ec0" transform="rotate(4 451.4 686.1)"/><ellipse cx="415.9" cy="612.0" rx="3.5" ry="2.1" fill="#1c38b4" transform="rotate(8 415.9 612.0)"/><ellipse cx="416.3" cy="605.9" rx="3.6" ry="2.7" fill="#1a34a8" transform="rotate(29 416.3 605.9)"/><ellipse cx="416.3" cy="561.9" rx="3.0" ry="2.0" fill="#264cd6" transform="rotate(172 416.3 561.9)"/><ellipse cx="422.3" cy="550.6" rx="4.0" ry="2.4" fill="#1c38b4" transform="rotate(74 422.3 550.6)"/><ellipse cx="668.3" cy="673.7" rx="3.0" ry="2.3" fill="#1e3ec0" transform="rotate(76 668.3 673.7)"/><ellipse cx="690.1" cy="687.6" rx="3.3" ry="2.3" fill="#1c38b4" transform="rotate(139 690.1 687.6)"/><ellipse cx="456.0" cy="690.8" rx="3.7" ry="2.5" fill="#264cd6" transform="rotate(31 456.0 690.8)"/><ellipse cx="621.7" cy="571.5" rx="3.6" ry="2.4" fill="#1a34a8" transform="rotate(80 621.7 571.5)"/><ellipse cx="421.6" cy="617.2" rx="3.4" ry="2.2" fill="#182f9a" transform="rotate(55 421.6 617.2)"/><ellipse cx="601.7" cy="579.1" rx="3.8" ry="2.7" fill="#1c38b4" transform="rotate(129 601.7 579.1)"/><ellipse cx="574.5" cy="597.2" rx="3.5" ry="2.7" fill="#1c38b4" transform="rotate(163 574.5 597.2)"/><ellipse cx="629.2" cy="705.8" rx="2.7" ry="2.1" fill="#2246cc" transform="rotate(156 629.2 705.8)"/><ellipse cx="623.4" cy="691.8" rx="3.5" ry="2.7" fill="#1c38b4" transform="rotate(85 623.4 691.8)"/><ellipse cx="611.4" cy="584.5" rx="2.8" ry="2.5" fill="#142a8c" transform="rotate(145 611.4 584.5)"/><ellipse cx="574.5" cy="676.0" rx="3.5" ry="2.7" fill="#1e3ec0" transform="rotate(179 574.5 676.0)"/><ellipse cx="485.7" cy="705.8" rx="3.1" ry="2.5" fill="#142a8c" transform="rotate(48 485.7 705.8)"/><ellipse cx="455.0" cy="699.5" rx="3.5" ry="2.4" fill="#1e3ec0" transform="rotate(27 455.0 699.5)"/><ellipse cx="559.8" cy="697.2" rx="2.9" ry="2.7" fill="#1a34a8" transform="rotate(20 559.8 697.2)"/><ellipse cx="604.2" cy="667.6" rx="3.0" ry="2.1" fill="#2246cc" transform="rotate(108 604.2 667.6)"/><ellipse cx="611.0" cy="646.4" rx="2.9" ry="2.2" fill="#1e3ec0" transform="rotate(156 611.0 646.4)"/><ellipse cx="572.6" cy="632.1" rx="3.9" ry="2.3" fill="#142a8c" transform="rotate(58 572.6 632.1)"/><ellipse cx="556.9" cy="705.3" rx="2.7" ry="2.1" fill="#264cd6" transform="rotate(115 556.9 705.3)"/><ellipse cx="509.4" cy="705.1" rx="2.7" ry="2.3" fill="#1e3ec0" transform="rotate(135 509.4 705.1)"/><ellipse cx="635.5" cy="566.1" rx="3.5" ry="2.3" fill="#182f9a" transform="rotate(168 635.5 566.1)"/><ellipse cx="602.5" cy="623.9" rx="2.7" ry="2.1" fill="#1e3ec0" transform="rotate(13 602.5 623.9)"/><ellipse cx="611.4" cy="680.2" rx="3.2" ry="2.7" fill="#2246cc" transform="rotate(124 611.4 680.2)"/><ellipse cx="541.8" cy="658.0" rx="2.9" ry="2.1" fill="#2246cc" transform="rotate(30 541.8 658.0)"/><ellipse cx="692.3" cy="668.7" rx="3.6" ry="2.1" fill="#142a8c" transform="rotate(43 692.3 668.7)"/><ellipse cx="587.9" cy="680.2" rx="2.9" ry="2.5" fill="#1a34a8" transform="rotate(0 587.9 680.2)"/><ellipse cx="630.6" cy="555.8" rx="4.0" ry="2.1" fill="#1e3ec0" transform="rotate(45 630.6 555.8)"/><ellipse cx="642.5" cy="618.2" rx="2.6" ry="2.2" fill="#142a8c" transform="rotate(40 642.5 618.2)"/><ellipse cx="669.3" cy="647.6" rx="2.8" ry="2.7" fill="#2246cc" transform="rotate(89 669.3 647.6)"/><ellipse cx="620.2" cy="605.1" rx="2.7" ry="2.5" fill="#1a34a8" transform="rotate(138 620.2 605.1)"/><ellipse cx="510.8" cy="633.5" rx="3.3" ry="2.7" fill="#1e3ec0" transform="rotate(166 510.8 633.5)"/><ellipse cx="588.9" cy="650.1" rx="4.0" ry="2.5" fill="#2246cc" transform="rotate(2 588.9 650.1)"/><ellipse cx="686.3" cy="559.1" rx="2.8" ry="2.5" fill="#2246cc" transform="rotate(66 686.3 559.1)"/><ellipse cx="531.9" cy="667.7" rx="3.8" ry="2.4" fill="#142a8c" transform="rotate(6 531.9 667.7)"/><ellipse cx="423.8" cy="561.7" rx="2.9" ry="2.8" fill="#2246cc" transform="rotate(151 423.8 561.7)"/><ellipse cx="641.9" cy="704.0" rx="2.6" ry="2.5" fill="#1a34a8" transform="rotate(12 641.9 704.0)"/><ellipse cx="472.9" cy="581.6" rx="2.8" ry="2.4" fill="#1e3ec0" transform="rotate(40 472.9 581.6)"/><ellipse cx="696.0" cy="689.7" rx="3.3" ry="2.7" fill="#264cd6" transform="rotate(123 696.0 689.7)"/><ellipse cx="687.7" cy="699.8" rx="3.4" ry="2.6" fill="#1a34a8" transform="rotate(175 687.7 699.8)"/><ellipse cx="585.0" cy="622.4" rx="3.1" ry="2.2" fill="#264cd6" transform="rotate(43 585.0 622.4)"/><ellipse cx="647.4" cy="658.4" rx="2.9" ry="2.7" fill="#2246cc" transform="rotate(161 647.4 658.4)"/><ellipse cx="503.6" cy="643.7" rx="3.5" ry="2.7" fill="#142a8c" transform="rotate(1 503.6 643.7)"/><ellipse cx="646.9" cy="590.9" rx="2.7" ry="2.0" fill="#1c38b4" transform="rotate(52 646.9 590.9)"/><ellipse cx="684.0" cy="587.9" rx="3.4" ry="2.7" fill="#1c38b4" transform="rotate(46 684.0 587.9)"/><ellipse cx="470.4" cy="638.8" rx="3.8" ry="2.8" fill="#2246cc" transform="rotate(79 470.4 638.8)"/><ellipse cx="408.6" cy="570.9" rx="3.0" ry="2.5" fill="#1c38b4" transform="rotate(28 408.6 570.9)"/><ellipse cx="698.5" cy="683.3" rx="3.9" ry="2.3" fill="#1a34a8" transform="rotate(1 698.5 683.3)"/><ellipse cx="506.7" cy="624.0" rx="2.9" ry="2.4" fill="#1c38b4" transform="rotate(155 506.7 624.0)"/><ellipse cx="646.2" cy="631.4" rx="3.4" ry="2.1" fill="#264cd6" transform="rotate(169 646.2 631.4)"/><ellipse cx="461.9" cy="691.4" rx="3.3" ry="2.7" fill="#142a8c" transform="rotate(106 461.9 691.4)"/><ellipse cx="651.7" cy="563.7" rx="3.2" ry="2.3" fill="#142a8c" transform="rotate(118 651.7 563.7)"/><ellipse cx="410.3" cy="586.8" rx="3.7" ry="2.4" fill="#2246cc" transform="rotate(158 410.3 586.8)"/><ellipse cx="648.7" cy="674.8" rx="3.1" ry="2.3" fill="#1a34a8" transform="rotate(17 648.7 674.8)"/><ellipse cx="444.1" cy="595.2" rx="3.2" ry="2.5" fill="#2246cc" transform="rotate(172 444.1 595.2)"/><ellipse cx="674.0" cy="681.2" rx="3.2" ry="2.0" fill="#182f9a" transform="rotate(131 674.0 681.2)"/><ellipse cx="409.0" cy="640.8" rx="2.7" ry="2.1" fill="#2246cc" transform="rotate(52 409.0 640.8)"/><ellipse cx="691.6" cy="674.7" rx="3.0" ry="2.5" fill="#264cd6" transform="rotate(171 691.6 674.7)"/><ellipse cx="656.0" cy="680.4" rx="3.5" ry="2.2" fill="#142a8c" transform="rotate(11 656.0 680.4)"/><ellipse cx="422.0" cy="570.9" rx="2.8" ry="2.3" fill="#142a8c" transform="rotate(124 422.0 570.9)"/><ellipse cx="498.8" cy="678.0" rx="4.0" ry="2.3" fill="#182f9a" transform="rotate(73 498.8 678.0)"/><ellipse cx="591.8" cy="555.0" rx="3.5" ry="2.4" fill="#1c38b4" transform="rotate(134 591.8 555.0)"/><ellipse cx="585.7" cy="671.3" rx="2.7" ry="2.2" fill="#1e3ec0" transform="rotate(25 585.7 671.3)"/><ellipse cx="461.3" cy="699.8" rx="2.9" ry="2.2" fill="#1c38b4" transform="rotate(117 461.3 699.8)"/><ellipse cx="595.5" cy="564.4" rx="3.0" ry="2.2" fill="#264cd6" transform="rotate(44 595.5 564.4)"/><ellipse cx="666.1" cy="551.7" rx="2.8" ry="2.5" fill="#182f9a" transform="rotate(58 666.1 551.7)"/><ellipse cx="557.2" cy="681.5" rx="3.7" ry="2.8" fill="#264cd6" transform="rotate(39 557.2 681.5)"/><ellipse cx="433.7" cy="698.6" rx="3.8" ry="2.6" fill="#1e3ec0" transform="rotate(83 433.7 698.6)"/><ellipse cx="507.3" cy="694.0" rx="3.9" ry="2.2" fill="#1a34a8" transform="rotate(143 507.3 694.0)"/><ellipse cx="482.1" cy="670.5" rx="3.7" ry="2.5" fill="#2246cc" transform="rotate(160 482.1 670.5)"/><ellipse cx="444.7" cy="698.9" rx="2.9" ry="2.2" fill="#1a34a8" transform="rotate(110 444.7 698.9)"/><ellipse cx="421.4" cy="672.1" rx="2.9" ry="2.7" fill="#1e3ec0" transform="rotate(42 421.4 672.1)"/><ellipse cx="517.1" cy="696.7" rx="2.8" ry="2.5" fill="#2246cc" transform="rotate(84 517.1 696.7)"/><ellipse cx="661.2" cy="580.8" rx="3.6" ry="2.7" fill="#264cd6" transform="rotate(90 661.2 580.8)"/><ellipse cx="478.9" cy="697.2" rx="2.9" ry="2.5" fill="#1e3ec0" transform="rotate(38 478.9 697.2)"/><ellipse cx="422.6" cy="605.8" rx="3.7" ry="2.3" fill="#2246cc" transform="rotate(108 422.6 605.8)"/><ellipse cx="545.5" cy="684.8" rx="3.5" ry="2.4" fill="#1e3ec0" transform="rotate(37 545.5 684.8)"/><ellipse cx="581.2" cy="661.4" rx="3.5" ry="2.7" fill="#1c38b4" transform="rotate(37 581.2 661.4)"/><ellipse cx="673.1" cy="555.5" rx="3.7" ry="2.6" fill="#142a8c" transform="rotate(41 673.1 555.5)"/><ellipse cx="591.4" cy="584.9" rx="2.7" ry="2.4" fill="#1a34a8" transform="rotate(167 591.4 584.9)"/><ellipse cx="640.4" cy="576.6" rx="3.1" ry="2.2" fill="#142a8c" transform="rotate(1 640.4 576.6)"/><ellipse cx="634.2" cy="688.2" rx="3.3" ry="2.5" fill="#182f9a" transform="rotate(40 634.2 688.2)"/><ellipse cx="640.0" cy="606.6" rx="3.5" ry="2.2" fill="#182f9a" transform="rotate(10 640.0 606.6)"/><ellipse cx="421.4" cy="589.9" rx="3.5" ry="2.6" fill="#1c38b4" transform="rotate(104 421.4 589.9)"/><ellipse cx="629.4" cy="689.6" rx="3.7" ry="2.3" fill="#182f9a" transform="rotate(55 629.4 689.6)"/><ellipse cx="582.8" cy="561.9" rx="3.0" ry="2.4" fill="#2246cc" transform="rotate(36 582.8 561.9)"/><ellipse cx="564.9" cy="660.4" rx="2.7" ry="2.7" fill="#1c38b4" transform="rotate(147 564.9 660.4)"/><ellipse cx="676.7" cy="670.0" rx="3.3" ry="2.2" fill="#1a34a8" transform="rotate(115 676.7 670.0)"/><ellipse cx="638.3" cy="581.4" rx="2.9" ry="2.3" fill="#1e3ec0" transform="rotate(147 638.3 581.4)"/><ellipse cx="671.1" cy="561.3" rx="3.4" ry="2.5" fill="#264cd6" transform="rotate(64 671.1 561.3)"/><ellipse cx="471.2" cy="571.2" rx="3.0" ry="2.1" fill="#1c38b4" transform="rotate(68 471.2 571.2)"/><ellipse cx="588.6" cy="704.7" rx="2.6" ry="2.5" fill="#1a34a8" transform="rotate(101 588.6 704.7)"/><ellipse cx="577.8" cy="681.3" rx="3.4" ry="2.4" fill="#2246cc" transform="rotate(39 577.8 681.3)"/><ellipse cx="564.2" cy="672.7" rx="3.8" ry="2.0" fill="#1a34a8" transform="rotate(4 564.2 672.7)"/><ellipse cx="625.4" cy="655.5" rx="3.6" ry="2.4" fill="#182f9a" transform="rotate(20 625.4 655.5)"/><ellipse cx="552.8" cy="702.4" rx="2.9" ry="2.4" fill="#2246cc" transform="rotate(52 552.8 702.4)"/><ellipse cx="421.9" cy="622.5" rx="2.7" ry="2.4" fill="#1a34a8" transform="rotate(32 421.9 622.5)"/><ellipse cx="551.7" cy="680.2" rx="3.7" ry="2.0" fill="#1e3ec0" transform="rotate(84 551.7 680.2)"/><ellipse cx="419.1" cy="566.4" rx="3.8" ry="2.5" fill="#182f9a" transform="rotate(27 419.1 566.4)"/><ellipse cx="436.2" cy="563.0" rx="4.0" ry="2.3" fill="#142a8c" transform="rotate(62 436.2 563.0)"/><ellipse cx="610.4" cy="550.0" rx="3.2" ry="2.7" fill="#264cd6" transform="rotate(22 610.4 550.0)"/><ellipse cx="661.6" cy="678.7" rx="2.8" ry="2.5" fill="#142a8c" transform="rotate(4 661.6 678.7)"/><ellipse cx="521.3" cy="637.1" rx="3.6" ry="2.4" fill="#1a34a8" transform="rotate(96 521.3 637.1)"/><ellipse cx="416.4" cy="679.0" rx="2.7" ry="2.3" fill="#2246cc" transform="rotate(93 416.4 679.0)"/><ellipse cx="447.4" cy="674.7" rx="3.8" ry="2.3" fill="#1e3ec0" transform="rotate(56 447.4 674.7)"/><ellipse cx="662.5" cy="556.5" rx="2.9" ry="2.1" fill="#1c38b4" transform="rotate(51 662.5 556.5)"/><ellipse cx="615.5" cy="666.7" rx="3.0" ry="2.8" fill="#1c38b4" transform="rotate(135 615.5 666.7)"/><ellipse cx="493.3" cy="676.0" rx="3.9" ry="2.4" fill="#264cd6" transform="rotate(137 493.3 676.0)"/><ellipse cx="695.4" cy="595.2" rx="3.0" ry="2.8" fill="#1e3ec0" transform="rotate(86 695.4 595.2)"/><ellipse cx="571.4" cy="572.5" rx="3.7" ry="2.7" fill="#142a8c" transform="rotate(151 571.4 572.5)"/><ellipse cx="581.8" cy="617.9" rx="3.3" ry="2.2" fill="#264cd6" transform="rotate(40 581.8 617.9)"/><ellipse cx="570.5" cy="664.9" rx="3.2" ry="2.1" fill="#2246cc" transform="rotate(23 570.5 664.9)"/><ellipse cx="437.8" cy="655.4" rx="2.9" ry="2.6" fill="#1a34a8" transform="rotate(13 437.8 655.4)"/><ellipse cx="692.7" cy="625.7" rx="3.4" ry="2.6" fill="#264cd6" transform="rotate(110 692.7 625.7)"/><ellipse cx="538.4" cy="686.8" rx="3.2" ry="2.7" fill="#142a8c" transform="rotate(163 538.4 686.8)"/><ellipse cx="505.8" cy="684.5" rx="2.9" ry="2.7" fill="#1c38b4" transform="rotate(174 505.8 684.5)"/><ellipse cx="696.3" cy="615.2" rx="3.4" ry="2.6" fill="#264cd6" transform="rotate(118 696.3 615.2)"/><ellipse cx="427.9" cy="594.1" rx="3.5" ry="2.5" fill="#1e3ec0" transform="rotate(82 427.9 594.1)"/><ellipse cx="644.6" cy="677.5" rx="3.7" ry="2.1" fill="#1c38b4" transform="rotate(126 644.6 677.5)"/><ellipse cx="614.1" cy="703.7" rx="3.4" ry="2.5" fill="#142a8c" transform="rotate(77 614.1 703.7)"/><ellipse cx="533.0" cy="704.7" rx="2.7" ry="2.6" fill="#264cd6" transform="rotate(161 533.0 704.7)"/><ellipse cx="615.4" cy="550.7" rx="3.8" ry="2.5" fill="#1a34a8" transform="rotate(107 615.4 550.7)"/><ellipse cx="415.9" cy="597.5" rx="2.8" ry="2.7" fill="#1e3ec0" transform="rotate(154 415.9 597.5)"/><ellipse cx="556.0" cy="665.5" rx="2.6" ry="2.6" fill="#1c38b4" transform="rotate(151 556.0 665.5)"/><ellipse cx="602.6" cy="654.8" rx="3.1" ry="2.3" fill="#1c38b4" transform="rotate(76 602.6 654.8)"/><ellipse cx="690.9" cy="635.9" rx="3.4" ry="2.8" fill="#1a34a8" transform="rotate(158 690.9 635.9)"/><ellipse cx="585.8" cy="550.0" rx="3.9" ry="2.4" fill="#1c38b4" transform="rotate(74 585.8 550.0)"/><ellipse cx="677.3" cy="693.9" rx="3.7" ry="2.8" fill="#2246cc" transform="rotate(143 677.3 693.9)"/><ellipse cx="657.5" cy="654.5" rx="3.0" ry="2.1" fill="#142a8c" transform="rotate(124 657.5 654.5)"/><ellipse cx="581.8" cy="609.9" rx="3.0" ry="2.4" fill="#1a34a8" transform="rotate(57 581.8 609.9)"/><ellipse cx="635.6" cy="705.4" rx="3.9" ry="2.6" fill="#1a34a8" transform="rotate(153 635.6 705.4)"/><ellipse cx="430.8" cy="617.4" rx="3.9" ry="2.7" fill="#2246cc" transform="rotate(77 430.8 617.4)"/><ellipse cx="597.2" cy="588.3" rx="3.9" ry="2.7" fill="#264cd6" transform="rotate(126 597.2 588.3)"/><ellipse cx="634.5" cy="570.9" rx="3.8" ry="2.0" fill="#2246cc" transform="rotate(38 634.5 570.9)"/><ellipse cx="581.2" cy="567.4" rx="2.9" ry="2.7" fill="#264cd6" transform="rotate(151 581.2 567.4)"/><ellipse cx="527.7" cy="693.2" rx="3.8" ry="2.5" fill="#1a34a8" transform="rotate(94 527.7 693.2)"/><ellipse cx="597.5" cy="686.0" rx="2.7" ry="2.7" fill="#1a34a8" transform="rotate(172 597.5 686.0)"/><ellipse cx="408.1" cy="674.1" rx="3.6" ry="2.3" fill="#1e3ec0" transform="rotate(142 408.1 674.1)"/><ellipse cx="525.6" cy="581.2" rx="2.4" ry="2.4" fill="#15256e" transform="rotate(45 525.6 581.2)"/><ellipse cx="460.0" cy="588.8" rx="2.9" ry="1.9" fill="#15256e" transform="rotate(82 460.0 588.8)"/><ellipse cx="550.4" cy="615.8" rx="2.8" ry="2.2" fill="#15256e" transform="rotate(137 550.4 615.8)"/><ellipse cx="655.3" cy="602.9" rx="2.6" ry="2.2" fill="#15256e" transform="rotate(174 655.3 602.9)"/><ellipse cx="683.5" cy="632.5" rx="2.9" ry="2.0" fill="#15256e" transform="rotate(75 683.5 632.5)"/><ellipse cx="633.4" cy="623.2" rx="3.3" ry="2.0" fill="#15256e" transform="rotate(48 633.4 623.2)"/><ellipse cx="525.2" cy="592.0" rx="3.1" ry="2.2" fill="#15256e" transform="rotate(118 525.2 592.0)"/><ellipse cx="584.2" cy="702.4" rx="3.2" ry="2.2" fill="#15256e" transform="rotate(17 584.2 702.4)"/><ellipse cx="638.4" cy="642.9" rx="3.2" ry="2.3" fill="#15256e" transform="rotate(4 638.4 642.9)"/><ellipse cx="483.0" cy="613.0" rx="2.7" ry="2.0" fill="#15256e" transform="rotate(41 483.0 613.0)"/><ellipse cx="582.5" cy="666.6" rx="2.8" ry="1.8" fill="#15256e" transform="rotate(176 582.5 666.6)"/><ellipse cx="584.9" cy="613.7" rx="3.0" ry="2.3" fill="#15256e" transform="rotate(141 584.9 613.7)"/><ellipse cx="618.0" cy="612.2" rx="3.0" ry="2.3" fill="#15256e" transform="rotate(55 618.0 612.2)"/><ellipse cx="537.2" cy="598.6" rx="2.6" ry="1.8" fill="#15256e" transform="rotate(72 537.2 598.6)"/><ellipse cx="480.7" cy="596.2" rx="3.1" ry="1.9" fill="#15256e" transform="rotate(171 480.7 596.2)"/><ellipse cx="678.6" cy="590.1" rx="2.7" ry="2.1" fill="#15256e" transform="rotate(31 678.6 590.1)"/><ellipse cx="464.2" cy="653.7" rx="2.7" ry="2.0" fill="#15256e" transform="rotate(166 464.2 653.7)"/><ellipse cx="458.0" cy="649.9" rx="2.8" ry="2.3" fill="#15256e" transform="rotate(78 458.0 649.9)"/><ellipse cx="524.4" cy="567.5" rx="2.7" ry="2.3" fill="#15256e" transform="rotate(12 524.4 567.5)"/><ellipse cx="498.4" cy="654.9" rx="2.5" ry="2.3" fill="#15256e" transform="rotate(151 498.4 654.9)"/><ellipse cx="687.7" cy="615.0" rx="3.3" ry="2.1" fill="#15256e" transform="rotate(5 687.7 615.0)"/><ellipse cx="666.8" cy="624.3" rx="3.4" ry="2.4" fill="#15256e" transform="rotate(19 666.8 624.3)"/><ellipse cx="477.7" cy="621.7" rx="2.6" ry="1.9" fill="#15256e" transform="rotate(6 477.7 621.7)"/><ellipse cx="412.5" cy="601.4" rx="2.4" ry="2.3" fill="#15256e" transform="rotate(7 412.5 601.4)"/><ellipse cx="621.5" cy="638.9" rx="3.1" ry="2.2" fill="#15256e" transform="rotate(14 621.5 638.9)"/><ellipse cx="507.6" cy="585.9" rx="2.7" ry="2.1" fill="#15256e" transform="rotate(55 507.6 585.9)"/><ellipse cx="535.8" cy="658.5" rx="3.3" ry="2.3" fill="#15256e" transform="rotate(70 535.8 658.5)"/><ellipse cx="570.7" cy="659.5" rx="3.1" ry="2.3" fill="#15256e" transform="rotate(91 570.7 659.5)"/><ellipse cx="507.0" cy="558.2" rx="3.1" ry="2.2" fill="#15256e" transform="rotate(174 507.0 558.2)"/><ellipse cx="440.3" cy="627.5" rx="2.5" ry="2.0" fill="#15256e" transform="rotate(40 440.3 627.5)"/><ellipse cx="649.3" cy="555.4" rx="2.6" ry="2.1" fill="#15256e" transform="rotate(113 649.3 555.4)"/><ellipse cx="573.0" cy="617.8" rx="3.0" ry="2.0" fill="#15256e" transform="rotate(175 573.0 617.8)"/><ellipse cx="572.6" cy="554.5" rx="2.7" ry="1.9" fill="#15256e" transform="rotate(133 572.6 554.5)"/><ellipse cx="408.9" cy="650.4" rx="2.6" ry="2.4" fill="#15256e" transform="rotate(162 408.9 650.4)"/><ellipse cx="446.4" cy="693.0" rx="2.5" ry="1.8" fill="#15256e" transform="rotate(27 446.4 693.0)"/><ellipse cx="535.0" cy="581.5" rx="2.6" ry="2.1" fill="#15256e" transform="rotate(39 535.0 581.5)"/><ellipse cx="652.7" cy="590.0" rx="2.9" ry="2.2" fill="#15256e" transform="rotate(4 652.7 590.0)"/><ellipse cx="429.1" cy="589.1" rx="2.6" ry="2.1" fill="#15256e" transform="rotate(172 429.1 589.1)"/><ellipse cx="449.4" cy="597.6" rx="2.9" ry="2.1" fill="#15256e" transform="rotate(155 449.4 597.6)"/><ellipse cx="502.9" cy="566.0" rx="3.1" ry="2.3" fill="#15256e" transform="rotate(178 502.9 566.0)"/><ellipse cx="519.6" cy="665.1" rx="3.2" ry="2.0" fill="#15256e" transform="rotate(121 519.6 665.1)"/><ellipse cx="670.5" cy="659.8" rx="3.0" ry="1.9" fill="#15256e" transform="rotate(18 670.5 659.8)"/><ellipse cx="427.8" cy="694.3" rx="3.1" ry="2.1" fill="#15256e" transform="rotate(70 427.8 694.3)"/><ellipse cx="540.0" cy="626.5" rx="2.6" ry="2.3" fill="#15256e" transform="rotate(3 540.0 626.5)"/><ellipse cx="413.8" cy="637.8" rx="3.0" ry="2.2" fill="#15256e" transform="rotate(58 413.8 637.8)"/><ellipse cx="471.5" cy="654.2" rx="2.8" ry="2.4" fill="#15256e" transform="rotate(100 471.5 654.2)"/><ellipse cx="436.0" cy="592.0" rx="3.1" ry="2.0" fill="#15256e" transform="rotate(132 436.0 592.0)"/><ellipse cx="561.2" cy="589.0" rx="2.8" ry="1.8" fill="#15256e" transform="rotate(132 561.2 589.0)"/><ellipse cx="695.1" cy="574.7" rx="2.7" ry="2.1" fill="#15256e" transform="rotate(118 695.1 574.7)"/><ellipse cx="632.0" cy="597.8" rx="3.1" ry="2.1" fill="#15256e" transform="rotate(78 632.0 597.8)"/><ellipse cx="445.5" cy="628.4" rx="2.7" ry="2.3" fill="#15256e" transform="rotate(23 445.5 628.4)"/><ellipse cx="428.5" cy="636.7" rx="3.1" ry="2.3" fill="#15256e" transform="rotate(55 428.5 636.7)"/><ellipse cx="541.2" cy="563.1" rx="2.7" ry="2.2" fill="#15256e" transform="rotate(99 541.2 563.1)"/><ellipse cx="509.7" cy="604.3" rx="2.5" ry="2.0" fill="#15256e" transform="rotate(73 509.7 604.3)"/><ellipse cx="508.1" cy="570.0" rx="2.4" ry="2.1" fill="#15256e" transform="rotate(137 508.1 570.0)"/><ellipse cx="601.3" cy="595.1" rx="2.9" ry="2.2" fill="#15256e" transform="rotate(105 601.3 595.1)"/><ellipse cx="534.4" cy="609.9" rx="2.4" ry="2.4" fill="#15256e" transform="rotate(140 534.4 609.9)"/><ellipse cx="695.7" cy="569.8" rx="2.6" ry="2.2" fill="#15256e" transform="rotate(76 695.7 569.8)"/><ellipse cx="475.5" cy="691.1" rx="2.9" ry="1.9" fill="#15256e" transform="rotate(26 475.5 691.1)"/><ellipse cx="472.7" cy="589.9" rx="3.3" ry="2.1" fill="#15256e" transform="rotate(48 472.7 589.9)"/><ellipse cx="542.9" cy="593.3" rx="2.9" ry="1.8" fill="#15256e" transform="rotate(50 542.9 593.3)"/><ellipse cx="534.5" cy="593.2" rx="2.5" ry="2.1" fill="#15256e" transform="rotate(85 534.5 593.2)"/><ellipse cx="449.7" cy="638.7" rx="3.4" ry="2.3" fill="#15256e" transform="rotate(173 449.7 638.7)"/><ellipse cx="549.8" cy="642.9" rx="3.3" ry="2.4" fill="#15256e" transform="rotate(129 549.8 642.9)"/><ellipse cx="666.6" cy="599.0" rx="2.4" ry="1.9" fill="#15256e" transform="rotate(106 666.6 599.0)"/><ellipse cx="539.5" cy="576.1" rx="2.5" ry="2.4" fill="#15256e" transform="rotate(78 539.5 576.1)"/><ellipse cx="515.3" cy="579.0" rx="2.7" ry="2.4" fill="#15256e" transform="rotate(123 515.3 579.0)"/><ellipse cx="519.9" cy="571.8" rx="3.2" ry="2.4" fill="#15256e" transform="rotate(32 519.9 571.8)"/><ellipse cx="474.0" cy="667.4" rx="2.9" ry="2.2" fill="#15256e" transform="rotate(173 474.0 667.4)"/><ellipse cx="658.3" cy="614.9" rx="2.9" ry="2.1" fill="#15256e" transform="rotate(173 658.3 614.9)"/><ellipse cx="547.8" cy="568.6" rx="3.3" ry="1.9" fill="#15256e" transform="rotate(179 547.8 568.6)"/><ellipse cx="437.6" cy="675.8" rx="2.4" ry="2.1" fill="#15256e" transform="rotate(169 437.6 675.8)"/><ellipse cx="412.1" cy="696.1" rx="3.3" ry="2.3" fill="#15256e" transform="rotate(159 412.1 696.1)"/><ellipse cx="521.2" cy="630.0" rx="3.3" ry="2.2" fill="#15256e" transform="rotate(9 521.2 630.0)"/><ellipse cx="432.4" cy="640.2" rx="3.3" ry="1.9" fill="#15256e" transform="rotate(21 432.4 640.2)"/><ellipse cx="605.1" cy="650.3" rx="3.3" ry="2.3" fill="#15256e" transform="rotate(58 605.1 650.3)"/><ellipse cx="497.9" cy="609.7" rx="2.6" ry="2.0" fill="#15256e" transform="rotate(172 497.9 609.7)"/><ellipse cx="602.7" cy="680.9" rx="2.5" ry="2.3" fill="#15256e" transform="rotate(160 602.7 680.9)"/><ellipse cx="468.9" cy="616.7" rx="2.6" ry="2.2" fill="#15256e" transform="rotate(133 468.9 616.7)"/><ellipse cx="494.8" cy="566.6" rx="3.2" ry="2.0" fill="#15256e" transform="rotate(159 494.8 566.6)"/><ellipse cx="538.5" cy="666.0" rx="3.4" ry="1.9" fill="#15256e" transform="rotate(22 538.5 666.0)"/><ellipse cx="499.7" cy="600.1" rx="3.3" ry="2.3" fill="#15256e" transform="rotate(7 499.7 600.1)"/><ellipse cx="589.7" cy="611.0" rx="2.5" ry="2.4" fill="#15256e" transform="rotate(92 589.7 611.0)"/><ellipse cx="646.7" cy="622.3" rx="3.3" ry="2.3" fill="#15256e" transform="rotate(102 646.7 622.3)"/><ellipse cx="545.5" cy="574.4" rx="2.7" ry="1.8" fill="#15256e" transform="rotate(60 545.5 574.4)"/><ellipse cx="486.3" cy="624.8" rx="2.7" ry="1.9" fill="#15256e" transform="rotate(136 486.3 624.8)"/><ellipse cx="507.5" cy="617.9" rx="2.8" ry="2.1" fill="#15256e" transform="rotate(24 507.5 617.9)"/><ellipse cx="566.8" cy="612.5" rx="3.4" ry="2.1" fill="#15256e" transform="rotate(98 566.8 612.5)"/><ellipse cx="491.4" cy="633.0" rx="2.6" ry="2.1" fill="#15256e" transform="rotate(133 491.4 633.0)"/><ellipse cx="698.8" cy="625.7" rx="2.5" ry="1.9" fill="#15256e" transform="rotate(75 698.8 625.7)"/><ellipse cx="455.0" cy="556.2" rx="3.3" ry="2.4" fill="#15256e" transform="rotate(48 455.0 556.2)"/><ellipse cx="662.9" cy="603.7" rx="2.5" ry="2.3" fill="#15256e" transform="rotate(92 662.9 603.7)"/><ellipse cx="519.6" cy="619.5" rx="2.6" ry="2.4" fill="#15256e" transform="rotate(53 519.6 619.5)"/><ellipse cx="460.9" cy="661.2" rx="2.9" ry="2.2" fill="#15256e" transform="rotate(48 460.9 661.2)"/><ellipse cx="439.2" cy="698.1" rx="3.3" ry="2.2" fill="#15256e" transform="rotate(35 439.2 698.1)"/><ellipse cx="464.3" cy="620.0" rx="2.5" ry="2.0" fill="#15256e" transform="rotate(88 464.3 620.0)"/><ellipse cx="584.6" cy="555.4" rx="3.1" ry="1.8" fill="#15256e" transform="rotate(102 584.6 555.4)"/><ellipse cx="425.0" cy="626.8" rx="3.0" ry="2.0" fill="#15256e" transform="rotate(71 425.0 626.8)"/><ellipse cx="658.6" cy="629.2" rx="2.5" ry="2.2" fill="#15256e" transform="rotate(150 658.6 629.2)"/><ellipse cx="587.6" cy="627.9" rx="2.8" ry="2.3" fill="#15256e" transform="rotate(46 587.6 627.9)"/><ellipse cx="443.2" cy="589.9" rx="2.9" ry="1.9" fill="#15256e" transform="rotate(150 443.2 589.9)"/><ellipse cx="567.0" cy="621.2" rx="3.3" ry="1.9" fill="#15256e" transform="rotate(41 567.0 621.2)"/><ellipse cx="642.3" cy="666.3" rx="2.5" ry="2.0" fill="#15256e" transform="rotate(133 642.3 666.3)"/><ellipse cx="674.6" cy="633.6" rx="2.5" ry="1.9" fill="#15256e" transform="rotate(157 674.6 633.6)"/><ellipse cx="615.8" cy="633.7" rx="2.7" ry="2.0" fill="#15256e" transform="rotate(8 615.8 633.7)"/><ellipse cx="440.1" cy="598.7" rx="2.6" ry="2.1" fill="#15256e" transform="rotate(116 440.1 598.7)"/><ellipse cx="548.0" cy="630.6" rx="3.3" ry="2.0" fill="#15256e" transform="rotate(107 548.0 630.6)"/><ellipse cx="472.3" cy="604.2" rx="3.0" ry="2.2" fill="#15256e" transform="rotate(53 472.3 604.2)"/><ellipse cx="656.9" cy="623.5" rx="3.4" ry="1.8" fill="#15256e" transform="rotate(150 656.9 623.5)"/><ellipse cx="646.3" cy="637.0" rx="2.4" ry="2.1" fill="#15256e" transform="rotate(80 646.3 637.0)"/><ellipse cx="608.8" cy="620.3" rx="3.0" ry="2.0" fill="#15256e" transform="rotate(109 608.8 620.3)"/><ellipse cx="503.1" cy="589.6" rx="3.1" ry="2.3" fill="#15256e" transform="rotate(163 503.1 589.6)"/><ellipse cx="509.2" cy="553.5" rx="3.3" ry="2.2" fill="#15256e" transform="rotate(138 509.2 553.5)"/><ellipse cx="461.0" cy="610.3" rx="2.5" ry="2.1" fill="#15256e" transform="rotate(83 461.0 610.3)"/><ellipse cx="451.2" cy="631.2" rx="2.5" ry="2.3" fill="#15256e" transform="rotate(49 451.2 631.2)"/><ellipse cx="484.7" cy="699.9" rx="3.3" ry="1.9" fill="#15256e" transform="rotate(1 484.7 699.9)"/><ellipse cx="450.5" cy="667.5" rx="3.1" ry="1.8" fill="#15256e" transform="rotate(101 450.5 667.5)"/><ellipse cx="454.7" cy="672.8" rx="2.9" ry="2.0" fill="#15256e" transform="rotate(96 454.7 672.8)"/><ellipse cx="683.7" cy="610.9" rx="2.9" ry="2.3" fill="#15256e" transform="rotate(169 683.7 610.9)"/><ellipse cx="562.7" cy="638.0" rx="2.6" ry="2.0" fill="#15256e" transform="rotate(42 562.7 638.0)"/><ellipse cx="503.7" cy="605.8" rx="2.6" ry="2.0" fill="#15256e" transform="rotate(52 503.7 605.8)"/><ellipse cx="475.2" cy="564.7" rx="2.5" ry="2.2" fill="#15256e" transform="rotate(99 475.2 564.7)"/><ellipse cx="539.8" cy="618.8" rx="3.0" ry="1.9" fill="#15256e" transform="rotate(69 539.8 618.8)"/><ellipse cx="461.0" cy="667.6" rx="2.7" ry="2.2" fill="#15256e" transform="rotate(50 461.0 667.6)"/><ellipse cx="567.4" cy="703.4" rx="3.3" ry="2.3" fill="#15256e" transform="rotate(97 567.4 703.4)"/><ellipse cx="596.2" cy="598.6" rx="3.2" ry="2.3" fill="#15256e" transform="rotate(133 596.2 598.6)"/><ellipse cx="556.6" cy="599.8" rx="3.3" ry="2.2" fill="#15256e" transform="rotate(140 556.6 599.8)"/><ellipse cx="498.0" cy="588.6" rx="2.9" ry="2.0" fill="#15256e" transform="rotate(62 498.0 588.6)"/><ellipse cx="528.2" cy="599.7" rx="2.7" ry="2.4" fill="#15256e" transform="rotate(4 528.2 599.7)"/><ellipse cx="577.6" cy="592.7" rx="3.2" ry="2.1" fill="#15256e" transform="rotate(159 577.6 592.7)"/><ellipse cx="466.8" cy="658.1" rx="3.1" ry="2.0" fill="#15256e" transform="rotate(123 466.8 658.1)"/><ellipse cx="467.5" cy="587.5" rx="3.3" ry="2.1" fill="#15256e" transform="rotate(91 467.5 587.5)"/><ellipse cx="517.9" cy="592.2" rx="3.2" ry="1.9" fill="#15256e" transform="rotate(171 517.9 592.2)"/><ellipse cx="435.5" cy="650.6" rx="3.0" ry="2.4" fill="#15256e" transform="rotate(0 435.5 650.6)"/><ellipse cx="529.2" cy="573.7" rx="2.9" ry="2.4" fill="#15256e" transform="rotate(104 529.2 573.7)"/><ellipse cx="496.9" cy="660.3" rx="2.8" ry="2.4" fill="#15256e" transform="rotate(38 496.9 660.3)"/><ellipse cx="533.9" cy="604.3" rx="3.0" ry="2.1" fill="#15256e" transform="rotate(52 533.9 604.3)"/><ellipse cx="523.9" cy="648.8" rx="2.7" ry="1.8" fill="#15256e" transform="rotate(135 523.9 648.8)"/><ellipse cx="441.4" cy="637.6" rx="2.7" ry="2.2" fill="#15256e" transform="rotate(68 441.4 637.6)"/><ellipse cx="432.0" cy="622.7" rx="3.2" ry="2.1" fill="#15256e" transform="rotate(156 432.0 622.7)"/><ellipse cx="667.3" cy="637.8" rx="2.9" ry="2.0" fill="#15256e" transform="rotate(62 667.3 637.8)"/><ellipse cx="518.7" cy="585.7" rx="2.5" ry="1.9" fill="#15256e" transform="rotate(70 518.7 585.7)"/><ellipse cx="479.0" cy="579.5" rx="3.4" ry="2.3" fill="#15256e" transform="rotate(3 479.0 579.5)"/><ellipse cx="525.2" cy="623.9" rx="3.0" ry="2.3" fill="#15256e" transform="rotate(83 525.2 623.9)"/><ellipse cx="541.7" cy="633.4" rx="3.3" ry="2.0" fill="#15256e" transform="rotate(131 541.7 633.4)"/><ellipse cx="494.8" cy="627.6" rx="3.4" ry="2.3" fill="#15256e" transform="rotate(28 494.8 627.6)"/><ellipse cx="480.6" cy="665.1" rx="2.7" ry="1.8" fill="#15256e" transform="rotate(121 480.6 665.1)"/><ellipse cx="641.5" cy="550.3" rx="2.5" ry="2.3" fill="#15256e" transform="rotate(99 641.5 550.3)"/><ellipse cx="587.2" cy="659.9" rx="2.5" ry="2.3" fill="#15256e" transform="rotate(81 587.2 659.9)"/><ellipse cx="645.2" cy="607.4" rx="3.1" ry="1.9" fill="#15256e" transform="rotate(63 645.2 607.4)"/><ellipse cx="653.2" cy="617.8" rx="2.6" ry="2.0" fill="#15256e" transform="rotate(41 653.2 617.8)"/><ellipse cx="626.9" cy="626.3" rx="3.0" ry="1.8" fill="#15256e" transform="rotate(138 626.9 626.3)"/><ellipse cx="667.7" cy="557.1" rx="3.0" ry="1.9" fill="#15256e" transform="rotate(70 667.7 557.1)"/><ellipse cx="499.0" cy="582.3" rx="3.0" ry="2.1" fill="#15256e" transform="rotate(133 499.0 582.3)"/><ellipse cx="460.9" cy="582.3" rx="3.3" ry="2.2" fill="#15256e" transform="rotate(24 460.9 582.3)"/><ellipse cx="511.2" cy="561.8" rx="3.1" ry="2.2" fill="#15256e" transform="rotate(22 511.2 561.8)"/><ellipse cx="433.3" cy="635.3" rx="2.7" ry="1.8" fill="#15256e" transform="rotate(42 433.3 635.3)"/><ellipse cx="412.5" cy="658.6" rx="3.1" ry="2.3" fill="#15256e" transform="rotate(102 412.5 658.6)"/><ellipse cx="677.6" cy="600.5" rx="3.0" ry="2.0" fill="#15256e" transform="rotate(96 677.6 600.5)"/><ellipse cx="539.6" cy="649.4" rx="2.5" ry="2.2" fill="#15256e" transform="rotate(115 539.6 649.4)"/><ellipse cx="456.2" cy="606.0" rx="2.8" ry="2.2" fill="#15256e" transform="rotate(174 456.2 606.0)"/><ellipse cx="449.9" cy="660.6" rx="2.9" ry="1.9" fill="#15256e" transform="rotate(42 449.9 660.6)"/><ellipse cx="667.0" cy="630.3" rx="2.9" ry="2.2" fill="#15256e" transform="rotate(73 667.0 630.3)"/><ellipse cx="643.4" cy="697.9" rx="3.1" ry="2.0" fill="#15256e" transform="rotate(123 643.4 697.9)"/><ellipse cx="562.3" cy="692.0" rx="3.3" ry="1.8" fill="#15256e" transform="rotate(22 562.3 692.0)"/><ellipse cx="482.8" cy="571.2" rx="2.8" ry="2.2" fill="#15256e" transform="rotate(77 482.8 571.2)"/><ellipse cx="512.5" cy="622.6" rx="3.1" ry="1.9" fill="#15256e" transform="rotate(98 512.5 622.6)"/><ellipse cx="414.0" cy="574.3" rx="2.6" ry="2.4" fill="#15256e" transform="rotate(152 414.0 574.3)"/><ellipse cx="637.3" cy="596.4" rx="3.4" ry="2.3" fill="#15256e" transform="rotate(19 637.3 596.4)"/><ellipse cx="540.5" cy="643.8" rx="3.1" ry="1.9" fill="#15256e" transform="rotate(113 540.5 643.8)"/><ellipse cx="668.6" cy="603.6" rx="2.9" ry="2.0" fill="#15256e" transform="rotate(80 668.6 603.6)"/><ellipse cx="525.0" cy="633.4" rx="2.4" ry="1.9" fill="#15256e" transform="rotate(131 525.0 633.4)"/><ellipse cx="534.5" cy="573.4" rx="2.9" ry="2.3" fill="#15256e" transform="rotate(81 534.5 573.4)"/><ellipse cx="696.4" cy="664.7" rx="3.0" ry="2.0" fill="#15256e" transform="rotate(73 696.4 664.7)"/><ellipse cx="623.2" cy="617.9" rx="2.9" ry="2.1" fill="#15256e" transform="rotate(70 623.2 617.9)"/><ellipse cx="464.3" cy="552.2" rx="3.0" ry="2.3" fill="#15256e" transform="rotate(144 464.3 552.2)"/><ellipse cx="510.9" cy="594.4" rx="3.2" ry="2.1" fill="#15256e" transform="rotate(177 510.9 594.4)"/><ellipse cx="463.8" cy="677.8" rx="3.1" ry="2.1" fill="#15256e" transform="rotate(30 463.8 677.8)"/><ellipse cx="427.9" cy="703.4" rx="2.5" ry="2.0" fill="#15256e" transform="rotate(108 427.9 703.4)"/><ellipse cx="656.6" cy="557.1" rx="2.6" ry="2.0" fill="#15256e" transform="rotate(96 656.6 557.1)"/><ellipse cx="460.0" cy="622.4" rx="2.9" ry="2.3" fill="#15256e" transform="rotate(43 460.0 622.4)"/><ellipse cx="605.8" cy="703.5" rx="3.3" ry="2.0" fill="#15256e" transform="rotate(69 605.8 703.5)"/><ellipse cx="658.1" cy="703.7" rx="2.7" ry="2.3" fill="#15256e" transform="rotate(158 658.1 703.7)"/><ellipse cx="588.5" cy="637.1" rx="3.3" ry="2.1" fill="#15256e" transform="rotate(2 588.5 637.1)"/><ellipse cx="680.4" cy="637.8" rx="2.7" ry="2.3" fill="#15256e" transform="rotate(165 680.4 637.8)"/><ellipse cx="501.8" cy="622.7" rx="2.5" ry="1.9" fill="#15256e" transform="rotate(125 501.8 622.7)"/><ellipse cx="532.0" cy="586.8" rx="3.4" ry="2.1" fill="#15256e" transform="rotate(58 532.0 586.8)"/><ellipse cx="486.8" cy="636.7" rx="2.4" ry="1.8" fill="#15256e" transform="rotate(32 486.8 636.7)"/><ellipse cx="408.2" cy="680.2" rx="2.5" ry="2.3" fill="#15256e" transform="rotate(32 408.2 680.2)"/><ellipse cx="620.4" cy="703.0" rx="3.0" ry="2.2" fill="#15256e" transform="rotate(47 620.4 703.0)"/><ellipse cx="592.1" cy="657.3" rx="3.2" ry="2.3" fill="#15256e" transform="rotate(115 592.1 657.3)"/><ellipse cx="685.0" cy="651.8" rx="2.6" ry="2.0" fill="#15256e" transform="rotate(99 685.0 651.8)"/><ellipse cx="445.1" cy="582.0" rx="2.6" ry="1.8" fill="#15256e" transform="rotate(87 445.1 582.0)"/><ellipse cx="673.8" cy="604.2" rx="3.0" ry="2.3" fill="#15256e" transform="rotate(81 673.8 604.2)"/><ellipse cx="597.3" cy="672.2" rx="2.9" ry="1.9" fill="#15256e" transform="rotate(168 597.3 672.2)"/><ellipse cx="611.2" cy="597.1" rx="2.9" ry="2.3" fill="#15256e" transform="rotate(167 611.2 597.1)"/><ellipse cx="625.4" cy="584.5" rx="3.3" ry="2.2" fill="#15256e" transform="rotate(59 625.4 584.5)"/><ellipse cx="421.3" cy="677.6" rx="3.3" ry="1.9" fill="#15256e" transform="rotate(62 421.3 677.6)"/><ellipse cx="686.1" cy="576.6" rx="2.4" ry="2.2" fill="#15256e" transform="rotate(37 686.1 576.6)"/><ellipse cx="465.4" cy="613.3" rx="3.3" ry="2.2" fill="#15256e" transform="rotate(19 465.4 613.3)"/><ellipse cx="419.9" cy="641.8" rx="3.4" ry="1.8" fill="#15256e" transform="rotate(13 419.9 641.8)"/><ellipse cx="587.8" cy="665.0" rx="2.6" ry="2.1" fill="#15256e" transform="rotate(148 587.8 665.0)"/><ellipse cx="416.0" cy="550.9" rx="3.1" ry="2.1" fill="#15256e" transform="rotate(93 416.0 550.9)"/><ellipse cx="471.6" cy="624.7" rx="2.5" ry="2.1" fill="#15256e" transform="rotate(124 471.6 624.7)"/><ellipse cx="450.0" cy="592.5" rx="3.1" ry="2.4" fill="#15256e" transform="rotate(171 450.0 592.5)"/><ellipse cx="446.4" cy="603.4" rx="3.2" ry="2.1" fill="#15256e" transform="rotate(149 446.4 603.4)"/><ellipse cx="524.9" cy="586.9" rx="3.0" ry="1.8" fill="#15256e" transform="rotate(163 524.9 586.9)"/><ellipse cx="433.2" cy="645.4" rx="2.9" ry="2.0" fill="#15256e" transform="rotate(61 433.2 645.4)"/><ellipse cx="681.9" cy="646.2" rx="2.4" ry="1.8" fill="#15256e" transform="rotate(120 681.9 646.2)"/><ellipse cx="455.9" cy="677.7" rx="2.4" ry="2.0" fill="#15256e" transform="rotate(38 455.9 677.7)"/><ellipse cx="604.0" cy="590.7" rx="2.6" ry="2.1" fill="#15256e" transform="rotate(87 604.0 590.7)"/><ellipse cx="595.4" cy="648.0" rx="2.6" ry="1.9" fill="#15256e" transform="rotate(26 595.4 648.0)"/><ellipse cx="518.0" cy="625.0" rx="3.3" ry="2.0" fill="#15256e" transform="rotate(77 518.0 625.0)"/><ellipse cx="525.6" cy="605.6" rx="3.0" ry="2.0" fill="#15256e" transform="rotate(43 525.6 605.6)"/><ellipse cx="669.3" cy="692.6" rx="2.5" ry="2.0" fill="#15256e" transform="rotate(134 669.3 692.6)"/><ellipse cx="659.7" cy="643.3" rx="2.5" ry="2.3" fill="#15256e" transform="rotate(30 659.7 643.3)"/><ellipse cx="627.0" cy="594.8" rx="2.5" ry="2.3" fill="#15256e" transform="rotate(166 627.0 594.8)"/><ellipse cx="521.4" cy="578.1" rx="3.1" ry="2.2" fill="#15256e" transform="rotate(163 521.4 578.1)"/><ellipse cx="568.3" cy="644.8" rx="2.4" ry="2.0" fill="#15256e" transform="rotate(102 568.3 644.8)"/><ellipse cx="683.5" cy="693.3" rx="3.4" ry="1.9" fill="#15256e" transform="rotate(54 683.5 693.3)"/><ellipse cx="584.5" cy="605.0" rx="2.8" ry="2.3" fill="#15256e" transform="rotate(174 584.5 605.0)"/><ellipse cx="431.5" cy="554.4" rx="3.1" ry="2.1" fill="#15256e" transform="rotate(107 431.5 554.4)"/><ellipse cx="532.3" cy="556.9" rx="3.2" ry="2.1" fill="#15256e" transform="rotate(16 532.3 556.9)"/><ellipse cx="473.5" cy="686.5" rx="3.1" ry="2.2" fill="#15256e" transform="rotate(110 473.5 686.5)"/><ellipse cx="695.9" cy="646.4" rx="3.0" ry="2.0" fill="#15256e" transform="rotate(132 695.9 646.4)"/><ellipse cx="616.0" cy="651.6" rx="2.7" ry="1.8" fill="#15256e" transform="rotate(91 616.0 651.6)"/><ellipse cx="492.9" cy="586.8" rx="2.9" ry="1.9" fill="#15256e" transform="rotate(47 492.9 586.8)"/><ellipse cx="435.8" cy="616.9" rx="3.2" ry="2.1" fill="#15256e" transform="rotate(86 435.8 616.9)"/><ellipse cx="556.9" cy="556.0" rx="2.4" ry="2.4" fill="#15256e" transform="rotate(10 556.9 556.0)"/><ellipse cx="487.8" cy="617.2" rx="2.9" ry="1.8" fill="#15256e" transform="rotate(114 487.8 617.2)"/><ellipse cx="536.5" cy="560.8" rx="3.2" ry="1.9" fill="#15256e" transform="rotate(36 536.5 560.8)"/><ellipse cx="526.5" cy="628.7" rx="3.3" ry="2.4" fill="#15256e" transform="rotate(48 526.5 628.7)"/><ellipse cx="569.0" cy="550.6" rx="3.0" ry="2.3" fill="#15256e" transform="rotate(27 569.0 550.6)"/><ellipse cx="553.8" cy="572.7" rx="3.3" ry="2.2" fill="#15256e" transform="rotate(59 553.8 572.7)"/><ellipse cx="524.9" cy="551.6" rx="3.4" ry="2.3" fill="#15256e" transform="rotate(120 524.9 551.6)"/><ellipse cx="442.8" cy="632.7" rx="3.3" ry="2.4" fill="#15256e" transform="rotate(163 442.8 632.7)"/><ellipse cx="474.3" cy="615.4" rx="2.8" ry="2.3" fill="#15256e" transform="rotate(43 474.3 615.4)"/><ellipse cx="515.1" cy="558.8" rx="3.3" ry="2.2" fill="#15256e" transform="rotate(143 515.1 558.8)"/><ellipse cx="548.0" cy="636.9" rx="2.9" ry="1.9" fill="#15256e" transform="rotate(21 548.0 636.9)"/><ellipse cx="544.3" cy="705.4" rx="2.8" ry="2.0" fill="#15256e" transform="rotate(149 544.3 705.4)"/><ellipse cx="661.3" cy="598.5" rx="3.1" ry="2.2" fill="#15256e" transform="rotate(105 661.3 598.5)"/><ellipse cx="476.9" cy="606.2" rx="3.2" ry="1.8" fill="#15256e" transform="rotate(34 476.9 606.2)"/><ellipse cx="479.5" cy="616.8" rx="2.7" ry="2.3" fill="#15256e" transform="rotate(29 479.5 616.8)"/><ellipse cx="613.6" cy="628.3" rx="2.8" ry="2.2" fill="#15256e" transform="rotate(130 613.6 628.3)"/><ellipse cx="626.4" cy="639.7" rx="3.4" ry="2.0" fill="#15256e" transform="rotate(53 626.4 639.7)"/><ellipse cx="538.8" cy="604.4" rx="2.4" ry="2.1" fill="#15256e" transform="rotate(16 538.8 604.4)"/><ellipse cx="563.0" cy="615.9" rx="3.0" ry="2.2" fill="#15256e" transform="rotate(163 563.0 615.9)"/><ellipse cx="665.8" cy="651.1" rx="2.4" ry="1.9" fill="#15256e" transform="rotate(74 665.8 651.1)"/><ellipse cx="568.1" cy="639.3" rx="3.0" ry="1.9" fill="#15256e" transform="rotate(79 568.1 639.3)"/><ellipse cx="487.5" cy="582.6" rx="3.2" ry="2.3" fill="#15256e" transform="rotate(13 487.5 582.6)"/></g><g filter="url(#bl05)"><ellipse cx="531.5" cy="640.0" rx="3.0" ry="3.4" fill="#f0502a"/><ellipse cx="528.0" cy="600.0" rx="2.6" ry="1.2" fill="#a8d830" fill-opacity="0.9" transform="rotate(40 528 600)"/><ellipse cx="534.0" cy="596.0" rx="2.6" ry="1.2" fill="#a8d830" fill-opacity="0.9" transform="rotate(120 534 596)"/><ellipse cx="540.0" cy="606.0" rx="2.6" ry="1.2" fill="#a8d830" fill-opacity="0.9" transform="rotate(10 540 606)"/><ellipse cx="527.0" cy="648.0" rx="2.6" ry="1.2" fill="#a8d830" fill-opacity="0.9" transform="rotate(60 527 648)"/><ellipse cx="536.0" cy="652.0" rx="2.6" ry="1.2" fill="#a8d830" fill-opacity="0.9" transform="rotate(150 536 652)"/><ellipse cx="612.0" cy="622.0" rx="2.6" ry="1.2" fill="#a8d830" fill-opacity="0.9" transform="rotate(30 612 622)"/><ellipse cx="620.0" cy="628.0" rx="2.6" ry="1.2" fill="#a8d830" fill-opacity="0.9" transform="rotate(100 620 628)"/><ellipse cx="598.0" cy="634.0" rx="2.6" ry="1.2" fill="#a8d830" fill-opacity="0.9" transform="rotate(45 598 634)"/><ellipse cx="606.0" cy="612.0" rx="2.6" ry="1.2" fill="#a8d830" fill-opacity="0.9" transform="rotate(170 606 612)"/><ellipse cx="455.0" cy="586.0" rx="2.6" ry="1.2" fill="#a8d830" fill-opacity="0.9" transform="rotate(20 455 586)"/><ellipse cx="460.0" cy="592.0" rx="2.6" ry="1.2" fill="#a8d830" fill-opacity="0.9" transform="rotate(110 460 592)"/><ellipse cx="452.0" cy="582.0" rx="2.6" ry="1.2" fill="#a8d830" fill-opacity="0.9" transform="rotate(70 452 582)"/><ellipse cx="541.0" cy="628.0" rx="2.6" ry="1.2" fill="#a8d830" fill-opacity="0.9" transform="rotate(90 541 628)"/><ellipse cx="545.0" cy="618.0" rx="2.6" ry="1.2" fill="#a8d830" fill-opacity="0.9" transform="rotate(20 545 618)"/><ellipse cx="665.0" cy="620.0" rx="2.6" ry="1.2" fill="#a8d830" fill-opacity="0.9" transform="rotate(50 665 620)"/><ellipse cx="672.0" cy="628.0" rx="2.6" ry="1.2" fill="#a8d830" fill-opacity="0.9" transform="rotate(140 672 628)"/><ellipse cx="588.0" cy="622.0" rx="2.6" ry="1.2" fill="#a8d830" fill-opacity="0.9" transform="rotate(30 588 622)"/><ellipse cx="580.0" cy="640.0" rx="2.6" ry="1.2" fill="#a8d830" fill-opacity="0.9" transform="rotate(80 580 640)"/><ellipse cx="565.0" cy="590.0" rx="1.7" ry="1.3" fill="#e03060"/><ellipse cx="646.0" cy="583.0" rx="1.7" ry="1.3" fill="#e03060"/><ellipse cx="596.0" cy="633.0" rx="1.7" ry="1.3" fill="#e03060"/><ellipse cx="530.0" cy="573.0" rx="1.7" ry="1.3" fill="#e03060"/><line x1="537.9" y1="605.6" x2="540.0" y2="610.6" stroke="#4a7a1c" stroke-width="1.2" stroke-linecap="round" stroke-opacity="0.60"/><line x1="548.1" y1="594.1" x2="547.5" y2="597.8" stroke="#4a7a1c" stroke-width="1.1" stroke-linecap="round" stroke-opacity="0.72"/><line x1="522.1" y1="600.0" x2="527.0" y2="602.6" stroke="#5a8a20" stroke-width="1.4" stroke-linecap="round" stroke-opacity="0.49"/><line x1="549.9" y1="599.3" x2="555.9" y2="602.6" stroke="#7fb02c" stroke-width="1.0" stroke-linecap="round" stroke-opacity="0.32"/><line x1="547.8" y1="591.8" x2="543.7" y2="596.9" stroke="#4a7a1c" stroke-width="1.4" stroke-linecap="round" stroke-opacity="0.51"/><line x1="538.0" y1="591.5" x2="534.5" y2="591.9" stroke="#6a9a24" stroke-width="0.9" stroke-linecap="round" stroke-opacity="0.37"/><line x1="540.9" y1="607.9" x2="542.0" y2="613.3" stroke="#6a9a24" stroke-width="1.1" stroke-linecap="round" stroke-opacity="0.72"/><line x1="526.3" y1="594.5" x2="527.5" y2="598.3" stroke="#6a9a24" stroke-width="1.3" stroke-linecap="round" stroke-opacity="0.76"/><line x1="549.4" y1="589.8" x2="547.6" y2="593.0" stroke="#5a8a20" stroke-width="1.0" stroke-linecap="round" stroke-opacity="0.57"/><line x1="534.4" y1="596.0" x2="531.8" y2="600.9" stroke="#5a8a20" stroke-width="1.0" stroke-linecap="round" stroke-opacity="0.36"/><line x1="524.4" y1="598.8" x2="524.6" y2="603.2" stroke="#7fb02c" stroke-width="1.1" stroke-linecap="round" stroke-opacity="0.38"/><line x1="535.4" y1="608.7" x2="532.5" y2="609.9" stroke="#5a8a20" stroke-width="1.3" stroke-linecap="round" stroke-opacity="0.49"/><line x1="529.2" y1="595.3" x2="525.2" y2="596.3" stroke="#93c634" stroke-width="1.5" stroke-linecap="round" stroke-opacity="0.45"/><line x1="547.8" y1="603.8" x2="551.5" y2="604.1" stroke="#c8dc3c" stroke-width="1.0" stroke-linecap="round" stroke-opacity="0.43"/><line x1="530.7" y1="587.9" x2="532.8" y2="591.8" stroke="#93c634" stroke-width="1.4" stroke-linecap="round" stroke-opacity="0.49"/><line x1="527.3" y1="599.5" x2="524.9" y2="604.4" stroke="#5a8a20" stroke-width="0.9" stroke-linecap="round" stroke-opacity="0.79"/><line x1="545.8" y1="620.2" x2="543.4" y2="625.5" stroke="#6a9a24" stroke-width="1.1" stroke-linecap="round" stroke-opacity="0.43"/><line x1="542.3" y1="640.3" x2="536.8" y2="644.6" stroke="#6a9a24" stroke-width="0.8" stroke-linecap="round" stroke-opacity="0.61"/><line x1="540.8" y1="626.3" x2="538.9" y2="630.8" stroke="#4a7a1c" stroke-width="1.4" stroke-linecap="round" stroke-opacity="0.60"/><line x1="541.3" y1="641.8" x2="539.4" y2="648.4" stroke="#7fb02c" stroke-width="1.5" stroke-linecap="round" stroke-opacity="0.43"/><line x1="531.2" y1="634.1" x2="533.6" y2="637.8" stroke="#6a9a24" stroke-width="1.3" stroke-linecap="round" stroke-opacity="0.72"/><line x1="538.0" y1="647.8" x2="543.9" y2="649.8" stroke="#5a8a20" stroke-width="1.3" stroke-linecap="round" stroke-opacity="0.37"/><line x1="530.1" y1="630.4" x2="532.9" y2="633.6" stroke="#4a7a1c" stroke-width="1.1" stroke-linecap="round" stroke-opacity="0.65"/><line x1="546.3" y1="635.7" x2="549.5" y2="641.2" stroke="#c8dc3c" stroke-width="1.4" stroke-linecap="round" stroke-opacity="0.78"/><line x1="549.8" y1="638.2" x2="553.9" y2="641.5" stroke="#6a9a24" stroke-width="1.0" stroke-linecap="round" stroke-opacity="0.36"/><line x1="539.0" y1="628.7" x2="533.8" y2="632.3" stroke="#93c634" stroke-width="1.4" stroke-linecap="round" stroke-opacity="0.47"/><line x1="544.8" y1="624.6" x2="542.8" y2="629.6" stroke="#c8dc3c" stroke-width="1.0" stroke-linecap="round" stroke-opacity="0.70"/><line x1="540.4" y1="640.8" x2="541.6" y2="645.3" stroke="#c8dc3c" stroke-width="0.8" stroke-linecap="round" stroke-opacity="0.51"/><line x1="547.2" y1="643.1" x2="542.4" y2="645.9" stroke="#5a8a20" stroke-width="1.1" stroke-linecap="round" stroke-opacity="0.78"/><line x1="549.7" y1="625.8" x2="545.3" y2="630.3" stroke="#4a7a1c" stroke-width="1.3" stroke-linecap="round" stroke-opacity="0.78"/><line x1="533.1" y1="625.8" x2="527.3" y2="628.5" stroke="#6a9a24" stroke-width="0.9" stroke-linecap="round" stroke-opacity="0.42"/><line x1="553.4" y1="633.8" x2="553.3" y2="637.6" stroke="#c8dc3c" stroke-width="1.2" stroke-linecap="round" stroke-opacity="0.31"/><line x1="540.2" y1="621.8" x2="543.5" y2="626.4" stroke="#5a8a20" stroke-width="1.2" stroke-linecap="round" stroke-opacity="0.33"/><line x1="542.6" y1="627.4" x2="548.9" y2="630.0" stroke="#5a8a20" stroke-width="1.1" stroke-linecap="round" stroke-opacity="0.69"/><line x1="604.4" y1="619.6" x2="603.7" y2="625.8" stroke="#93c634" stroke-width="1.0" stroke-linecap="round" stroke-opacity="0.44"/><line x1="622.7" y1="612.7" x2="617.9" y2="613.9" stroke="#5a8a20" stroke-width="1.4" stroke-linecap="round" stroke-opacity="0.32"/><line x1="610.1" y1="622.9" x2="609.7" y2="627.6" stroke="#c8dc3c" stroke-width="1.0" stroke-linecap="round" stroke-opacity="0.71"/><line x1="626.9" y1="605.7" x2="630.0" y2="606.2" stroke="#c8dc3c" stroke-width="1.5" stroke-linecap="round" stroke-opacity="0.73"/><line x1="629.1" y1="621.1" x2="631.4" y2="624.6" stroke="#6a9a24" stroke-width="1.1" stroke-linecap="round" stroke-opacity="0.49"/><line x1="609.2" y1="624.7" x2="604.5" y2="624.9" stroke="#93c634" stroke-width="1.2" stroke-linecap="round" stroke-opacity="0.66"/><line x1="603.9" y1="618.9" x2="607.7" y2="621.3" stroke="#5a8a20" stroke-width="1.3" stroke-linecap="round" stroke-opacity="0.57"/><line x1="609.4" y1="613.9" x2="606.4" y2="615.0" stroke="#4a7a1c" stroke-width="1.1" stroke-linecap="round" stroke-opacity="0.65"/><line x1="589.8" y1="621.4" x2="590.3" y2="625.4" stroke="#5a8a20" stroke-width="1.0" stroke-linecap="round" stroke-opacity="0.59"/><line x1="615.2" y1="609.2" x2="618.1" y2="610.5" stroke="#6a9a24" stroke-width="1.1" stroke-linecap="round" stroke-opacity="0.75"/><line x1="615.7" y1="607.3" x2="616.1" y2="610.8" stroke="#5a8a20" stroke-width="1.3" stroke-linecap="round" stroke-opacity="0.72"/><line x1="591.9" y1="614.4" x2="595.9" y2="615.9" stroke="#5a8a20" stroke-width="0.9" stroke-linecap="round" stroke-opacity="0.59"/><line x1="624.6" y1="616.2" x2="622.2" y2="618.2" stroke="#7fb02c" stroke-width="1.2" stroke-linecap="round" stroke-opacity="0.63"/><line x1="591.2" y1="624.4" x2="594.2" y2="630.0" stroke="#7fb02c" stroke-width="1.4" stroke-linecap="round" stroke-opacity="0.64"/><line x1="627.8" y1="600.6" x2="626.3" y2="606.6" stroke="#7fb02c" stroke-width="1.5" stroke-linecap="round" stroke-opacity="0.58"/><line x1="597.9" y1="613.9" x2="597.3" y2="617.3" stroke="#5a8a20" stroke-width="0.8" stroke-linecap="round" stroke-opacity="0.46"/><line x1="585.5" y1="610.0" x2="588.2" y2="612.6" stroke="#93c634" stroke-width="1.1" stroke-linecap="round" stroke-opacity="0.65"/><line x1="627.2" y1="610.9" x2="625.1" y2="617.4" stroke="#5a8a20" stroke-width="1.1" stroke-linecap="round" stroke-opacity="0.34"/><line x1="581.6" y1="614.1" x2="583.2" y2="619.9" stroke="#93c634" stroke-width="1.1" stroke-linecap="round" stroke-opacity="0.58"/><line x1="587.7" y1="608.1" x2="585.7" y2="611.1" stroke="#c8dc3c" stroke-width="1.4" stroke-linecap="round" stroke-opacity="0.37"/><line x1="635.8" y1="624.2" x2="630.9" y2="625.5" stroke="#c8dc3c" stroke-width="1.2" stroke-linecap="round" stroke-opacity="0.73"/><line x1="626.8" y1="626.4" x2="631.3" y2="628.6" stroke="#93c634" stroke-width="1.4" stroke-linecap="round" stroke-opacity="0.57"/><line x1="618.9" y1="602.9" x2="614.1" y2="605.3" stroke="#5a8a20" stroke-width="1.2" stroke-linecap="round" stroke-opacity="0.43"/><line x1="612.8" y1="617.1" x2="613.1" y2="621.6" stroke="#93c634" stroke-width="1.2" stroke-linecap="round" stroke-opacity="0.42"/><line x1="583.6" y1="615.8" x2="585.0" y2="621.4" stroke="#4a7a1c" stroke-width="1.2" stroke-linecap="round" stroke-opacity="0.53"/><line x1="626.2" y1="602.1" x2="625.3" y2="606.9" stroke="#4a7a1c" stroke-width="0.9" stroke-linecap="round" stroke-opacity="0.77"/><line x1="614.5" y1="601.8" x2="621.1" y2="602.8" stroke="#93c634" stroke-width="1.3" stroke-linecap="round" stroke-opacity="0.69"/><line x1="622.4" y1="617.8" x2="627.0" y2="622.5" stroke="#5a8a20" stroke-width="1.0" stroke-linecap="round" stroke-opacity="0.39"/><line x1="606.1" y1="602.1" x2="602.3" y2="603.4" stroke="#5a8a20" stroke-width="0.8" stroke-linecap="round" stroke-opacity="0.39"/><line x1="632.7" y1="624.0" x2="636.4" y2="625.5" stroke="#6a9a24" stroke-width="0.8" stroke-linecap="round" stroke-opacity="0.53"/><line x1="660.6" y1="615.1" x2="664.9" y2="615.5" stroke="#c8dc3c" stroke-width="1.1" stroke-linecap="round" stroke-opacity="0.41"/><line x1="645.5" y1="614.1" x2="647.2" y2="619.0" stroke="#7fb02c" stroke-width="1.4" stroke-linecap="round" stroke-opacity="0.34"/><line x1="651.5" y1="626.1" x2="651.2" y2="630.1" stroke="#5a8a20" stroke-width="1.5" stroke-linecap="round" stroke-opacity="0.49"/><line x1="664.9" y1="608.8" x2="668.3" y2="613.4" stroke="#4a7a1c" stroke-width="1.5" stroke-linecap="round" stroke-opacity="0.71"/><line x1="678.7" y1="630.8" x2="681.2" y2="635.4" stroke="#5a8a20" stroke-width="0.9" stroke-linecap="round" stroke-opacity="0.55"/><line x1="654.7" y1="632.0" x2="651.9" y2="636.4" stroke="#93c634" stroke-width="1.3" stroke-linecap="round" stroke-opacity="0.67"/><line x1="673.9" y1="630.8" x2="669.2" y2="632.0" stroke="#7fb02c" stroke-width="1.5" stroke-linecap="round" stroke-opacity="0.37"/><line x1="656.1" y1="632.6" x2="654.5" y2="637.6" stroke="#4a7a1c" stroke-width="0.9" stroke-linecap="round" stroke-opacity="0.54"/><line x1="665.8" y1="611.0" x2="669.3" y2="612.3" stroke="#5a8a20" stroke-width="1.2" stroke-linecap="round" stroke-opacity="0.67"/><line x1="656.0" y1="627.0" x2="658.3" y2="633.0" stroke="#7fb02c" stroke-width="1.1" stroke-linecap="round" stroke-opacity="0.44"/><line x1="662.1" y1="612.6" x2="655.8" y2="615.2" stroke="#c8dc3c" stroke-width="1.2" stroke-linecap="round" stroke-opacity="0.69"/><line x1="650.4" y1="634.3" x2="654.3" y2="635.7" stroke="#7fb02c" stroke-width="1.3" stroke-linecap="round" stroke-opacity="0.58"/><line x1="671.5" y1="619.2" x2="668.4" y2="623.4" stroke="#4a7a1c" stroke-width="1.3" stroke-linecap="round" stroke-opacity="0.71"/><line x1="661.8" y1="611.4" x2="665.9" y2="613.5" stroke="#93c634" stroke-width="1.2" stroke-linecap="round" stroke-opacity="0.39"/><line x1="671.6" y1="634.7" x2="673.3" y2="638.5" stroke="#5a8a20" stroke-width="1.4" stroke-linecap="round" stroke-opacity="0.75"/><line x1="676.8" y1="618.5" x2="675.9" y2="623.7" stroke="#4a7a1c" stroke-width="1.1" stroke-linecap="round" stroke-opacity="0.56"/><line x1="659.5" y1="609.0" x2="657.9" y2="611.7" stroke="#93c634" stroke-width="1.3" stroke-linecap="round" stroke-opacity="0.30"/><line x1="666.1" y1="609.4" x2="666.3" y2="614.4" stroke="#c8dc3c" stroke-width="0.9" stroke-linecap="round" stroke-opacity="0.69"/><line x1="671.8" y1="636.4" x2="665.2" y2="637.9" stroke="#7fb02c" stroke-width="1.2" stroke-linecap="round" stroke-opacity="0.78"/><line x1="672.2" y1="618.9" x2="667.8" y2="622.2" stroke="#7fb02c" stroke-width="0.8" stroke-linecap="round" stroke-opacity="0.61"/><line x1="647.0" y1="623.5" x2="651.4" y2="623.7" stroke="#6a9a24" stroke-width="1.4" stroke-linecap="round" stroke-opacity="0.65"/><line x1="678.0" y1="631.2" x2="675.9" y2="637.6" stroke="#4a7a1c" stroke-width="0.9" stroke-linecap="round" stroke-opacity="0.80"/><line x1="457.2" y1="587.6" x2="460.9" y2="588.3" stroke="#4a7a1c" stroke-width="1.3" stroke-linecap="round" stroke-opacity="0.54"/><line x1="454.6" y1="589.0" x2="458.3" y2="589.9" stroke="#93c634" stroke-width="1.1" stroke-linecap="round" stroke-opacity="0.54"/><line x1="460.6" y1="590.7" x2="464.5" y2="593.7" stroke="#7fb02c" stroke-width="1.1" stroke-linecap="round" stroke-opacity="0.68"/><line x1="454.7" y1="589.8" x2="449.1" y2="591.6" stroke="#6a9a24" stroke-width="1.4" stroke-linecap="round" stroke-opacity="0.52"/><line x1="454.4" y1="593.0" x2="448.2" y2="593.6" stroke="#6a9a24" stroke-width="1.3" stroke-linecap="round" stroke-opacity="0.37"/><line x1="449.7" y1="588.1" x2="452.6" y2="590.3" stroke="#c8dc3c" stroke-width="1.2" stroke-linecap="round" stroke-opacity="0.62"/><line x1="459.2" y1="592.7" x2="459.8" y2="596.4" stroke="#5a8a20" stroke-width="0.8" stroke-linecap="round" stroke-opacity="0.52"/><line x1="446.4" y1="592.7" x2="451.0" y2="593.4" stroke="#c8dc3c" stroke-width="1.1" stroke-linecap="round" stroke-opacity="0.75"/><line x1="457.6" y1="582.6" x2="458.9" y2="586.1" stroke="#6a9a24" stroke-width="1.2" stroke-linecap="round" stroke-opacity="0.47"/><line x1="457.8" y1="588.2" x2="455.1" y2="591.3" stroke="#5a8a20" stroke-width="1.5" stroke-linecap="round" stroke-opacity="0.69"/><line x1="592.8" y1="652.1" x2="592.2" y2="655.2" stroke="#6a9a24" stroke-width="1.2" stroke-linecap="round" stroke-opacity="0.47"/><line x1="595.2" y1="658.4" x2="589.9" y2="658.9" stroke="#7fb02c" stroke-width="0.9" stroke-linecap="round" stroke-opacity="0.64"/><line x1="592.6" y1="653.8" x2="592.9" y2="657.6" stroke="#5a8a20" stroke-width="1.4" stroke-linecap="round" stroke-opacity="0.40"/><line x1="595.2" y1="652.2" x2="589.8" y2="656.0" stroke="#4a7a1c" stroke-width="0.8" stroke-linecap="round" stroke-opacity="0.45"/><line x1="574.6" y1="649.6" x2="578.6" y2="650.7" stroke="#5a8a20" stroke-width="1.1" stroke-linecap="round" stroke-opacity="0.55"/><line x1="579.1" y1="651.8" x2="575.5" y2="654.8" stroke="#5a8a20" stroke-width="1.3" stroke-linecap="round" stroke-opacity="0.67"/><line x1="565.6" y1="633.7" x2="561.3" y2="634.8" stroke="#c8dc3c" stroke-width="1.1" stroke-linecap="round" stroke-opacity="0.52"/><line x1="560.6" y1="633.6" x2="556.3" y2="636.3" stroke="#5a8a20" stroke-width="1.2" stroke-linecap="round" stroke-opacity="0.66"/><line x1="552.7" y1="642.7" x2="557.8" y2="645.5" stroke="#7fb02c" stroke-width="1.4" stroke-linecap="round" stroke-opacity="0.35"/><line x1="555.9" y1="630.9" x2="558.8" y2="635.4" stroke="#5a8a20" stroke-width="1.2" stroke-linecap="round" stroke-opacity="0.74"/><line x1="567.0" y1="634.7" x2="561.4" y2="636.6" stroke="#6a9a24" stroke-width="1.5" stroke-linecap="round" stroke-opacity="0.30"/><line x1="564.8" y1="646.9" x2="560.6" y2="648.1" stroke="#6a9a24" stroke-width="0.9" stroke-linecap="round" stroke-opacity="0.34"/><line x1="650.6" y1="645.4" x2="654.2" y2="645.9" stroke="#4a7a1c" stroke-width="0.9" stroke-linecap="round" stroke-opacity="0.79"/><line x1="656.1" y1="648.1" x2="661.2" y2="652.0" stroke="#5a8a20" stroke-width="1.1" stroke-linecap="round" stroke-opacity="0.69"/><line x1="648.9" y1="642.9" x2="648.5" y2="646.6" stroke="#93c634" stroke-width="1.2" stroke-linecap="round" stroke-opacity="0.32"/><line x1="658.9" y1="642.9" x2="655.9" y2="644.4" stroke="#6a9a24" stroke-width="0.9" stroke-linecap="round" stroke-opacity="0.53"/><line x1="657.4" y1="650.8" x2="655.4" y2="656.0" stroke="#5a8a20" stroke-width="1.3" stroke-linecap="round" stroke-opacity="0.65"/></g></g>
<defs>
<filter id="rG" x="-0.05" y="-0.05" width="1.1" height="1.1" color-interpolation-filters="sRGB">
 <feTurbulence type="fractalNoise" baseFrequency="0.2" numOctaves="2" seed="3" result="n"/>
 <feDisplacementMap in="SourceGraphic" in2="n" scale="5" xChannelSelector="R" yChannelSelector="G" result="d"/>
 <feColorMatrix in="n" type="matrix" values="0 0 0 0 0  0 0 0 0 0  0 0 0 0 0  0 0 7 0 -2.7" result="m"/>
 <feComposite in="d" in2="m" operator="in"/>
</filter>
<filter id="rS" x="-0.05" y="-0.05" width="1.1" height="1.1" color-interpolation-filters="sRGB">
 <feTurbulence type="fractalNoise" baseFrequency="0.16" numOctaves="2" seed="3" result="n"/>
 <feDisplacementMap in="SourceGraphic" in2="n" scale="6" xChannelSelector="R" yChannelSelector="G" result="d"/>
 <feColorMatrix in="n" type="matrix" values="0 0 0 0 0  0 0 0 0 0  0 0 0 0 0  0 0 9 0 -2.4" result="m"/>
 <feComposite in="d" in2="m" operator="in"/>
</filter>
<filter id="rB" x="-0.05" y="-0.05" width="1.1" height="1.1" color-interpolation-filters="sRGB">
 <feGaussianBlur in="SourceGraphic" stdDeviation="2" result="s"/>
 <feTurbulence type="fractalNoise" baseFrequency="0.28" numOctaves="2" seed="17" result="n"/>
 <feColorMatrix in="n" type="matrix" values="0 0 0 0 0  0 0 0 0 0  0 0 0 0 0  7 0 0 0 -2.8" result="m"/>
 <feComposite in="s" in2="m" operator="in"/>
</filter>
<filter id="rB4" x="-0.05" y="-0.05" width="1.1" height="1.1" color-interpolation-filters="sRGB">
 <feGaussianBlur in="SourceGraphic" stdDeviation="2" result="s"/>
 <feTurbulence type="fractalNoise" baseFrequency="0.14" numOctaves="1" seed="23" result="n"/>
 <feColorMatrix in="n" type="matrix" values="0 0 0 0 0  0 0 0 0 0  0 0 0 0 0  9 0 0 0 -4.0" result="m"/>
 <feComposite in="s" in2="m" operator="in"/>
</filter>
<filter id="rY" x="-0.05" y="-0.05" width="1.1" height="1.1" color-interpolation-filters="sRGB">
 <feGaussianBlur in="SourceGraphic" stdDeviation="3" result="s"/>
 <feTurbulence type="fractalNoise" baseFrequency="0.45" numOctaves="2" seed="41" result="n"/>
 <feColorMatrix in="n" type="matrix" values="0 0 0 0 0  0 0 0 0 0  0 0 0 0 0  0 10 0 0 -6.4" result="m"/>
 <feComposite in="s" in2="m" operator="in"/>
</filter>
<filter id="rR" x="0" y="0" width="1" height="1" color-interpolation-filters="sRGB">
 <feTurbulence type="fractalNoise" baseFrequency="0.09 0.2" numOctaves="3" seed="8" result="n"/>
 <feColorMatrix in="n" type="matrix" values="0 0 0 0 0.12  0 0 0 0 0.0  0 0 0 0 0.04  0 0 5 0 -2.2"/>
</filter>
</defs><g clip-path="url(#c3)"><rect x="73.3" y="733.3" width="286.7" height="152.3" fill="#4c1230"/><g filter="url(#bl3)"><ellipse cx="95.5" cy="838.0" rx="22.5" ry="48.0" fill="#7c1434" fill-opacity="0.8"/><ellipse cx="146.0" cy="763.0" rx="18.0" ry="27.0" fill="#7c1434" fill-opacity="0.75"/><ellipse cx="181.0" cy="810.0" rx="41.0" ry="20.0" fill="#7c1434" fill-opacity="0.55"/><ellipse cx="222.5" cy="810.5" rx="7.5" ry="13.5" fill="#7c1434" fill-opacity="0.7"/><ellipse cx="231.5" cy="843.0" rx="13.5" ry="21.0" fill="#7c1434" fill-opacity="0.6"/><ellipse cx="331.0" cy="868.0" rx="31.0" ry="18.0" fill="#7c1434" fill-opacity="0.4"/><ellipse cx="193.0" cy="769.0" rx="38.0" ry="40.0" fill="#8e1838" fill-opacity="0.9"/><ellipse cx="293.5" cy="828.0" rx="68.5" ry="58.0" fill="#3a2468" fill-opacity="0.65"/><ellipse cx="175.0" cy="856.0" rx="50.0" ry="30.0" fill="#3a2468" fill-opacity="0.6"/><ellipse cx="99.0" cy="749.0" rx="26.0" ry="16.0" fill="#3a2468" fill-opacity="0.5"/><ellipse cx="296.0" cy="775.0" rx="34.0" ry="25.0" fill="#3a2468" fill-opacity="0.5"/></g><g filter="url(#bl1)"><polyline points="75.5,748.0 88.0,765.0 98.0,785.5 110.0,808.0 126.0,846.0 146.0,886.0" fill="none" stroke="#4040b0" stroke-width="8" stroke-linecap="round" stroke-linejoin="round" stroke-opacity="0.75"/><polyline points="150.0,824.0 185.0,860.0 215.0,886.0" fill="none" stroke="#3c3ca4" stroke-width="6" stroke-linecap="round" stroke-linejoin="round" stroke-opacity="0.5"/><ellipse cx="192" cy="767" rx="26.5" ry="28.5" fill="none" stroke="#4040b0" stroke-width="6" stroke-opacity="0.7"/></g><g filter="url(#rB)"><polyline points="75.5,748.0 88.0,765.0 98.0,785.5 110.0,808.0 126.0,846.0 146.0,886.0" fill="none" stroke="#4444b4" stroke-width="12" stroke-linecap="round" stroke-linejoin="round"/><polyline points="108.0,778.0 122.0,792.0 134.0,800.0" fill="none" stroke="#4444b4" stroke-width="6" stroke-linecap="round" stroke-linejoin="round" stroke-opacity="0.8"/><polyline points="150.0,822.0 185.0,858.0 215.0,884.0" fill="none" stroke="#4444b4" stroke-width="9" stroke-linecap="round" stroke-linejoin="round" stroke-opacity="0.7"/><ellipse cx="192" cy="767" rx="27" ry="29" fill="none" stroke="#4444b4" stroke-width="9"/><ellipse cx="297.5" cy="830.5" rx="62.5" ry="55.5" fill="#4444b4" fill-opacity="0.6"/><ellipse cx="295.0" cy="835.0" rx="45.0" ry="35.0" fill="#4444b4" fill-opacity="0.35"/><ellipse cx="192.5" cy="860.5" rx="42.5" ry="25.5" fill="#4444b4" fill-opacity="0.65"/><ellipse cx="307.5" cy="868.0" rx="27.5" ry="18.0" fill="#4444b4" fill-opacity="0.5"/><ellipse cx="231.0" cy="864.0" rx="31.0" ry="22.0" fill="#4444b4" fill-opacity="0.4"/><ellipse cx="97.5" cy="748.5" rx="22.5" ry="13.5" fill="#4444b4" fill-opacity="0.5"/><ellipse cx="296.0" cy="780.0" rx="34.0" ry="20.0" fill="#4444b4" fill-opacity="0.5"/></g><g filter="url(#bl1)"><ellipse cx="224.0" cy="787.0" rx="6.0" ry="10.0" fill="#3458d8" fill-opacity="0.95"/><polygon points="254.0,733.0 307.0,733.0 300.0,755.0 284.0,765.0 262.0,768.0 252.0,752.0" fill="#280410"/><polygon points="312.0,733.0 361.0,733.0 361.0,784.0 338.0,762.0 325.0,748.0" fill="#280410"/><ellipse cx="102.5" cy="771.5" rx="11.5" ry="13.5" fill="#280410" fill-opacity="0.75"/><ellipse cx="107.5" cy="749.5" rx="8.5" ry="7.5" fill="#280410" fill-opacity="0.75"/><ellipse cx="157.0" cy="875.0" rx="9.0" ry="11.0" fill="#280410" fill-opacity="0.75"/><ellipse cx="251.0" cy="802.0" rx="15.0" ry="12.0" fill="#280410" fill-opacity="0.75"/><ellipse cx="345.0" cy="809.0" rx="15.0" ry="17.0" fill="#280410" fill-opacity="0.75"/><ellipse cx="312.5" cy="828.0" rx="22.5" ry="8.0" fill="#5a1030" fill-opacity="0.6"/><ellipse cx="262.5" cy="871.0" rx="27.5" ry="13.0" fill="#5a1030" fill-opacity="0.6"/><ellipse cx="335.0" cy="857.5" rx="15.0" ry="12.5" fill="#5a1030" fill-opacity="0.6"/><ellipse cx="285.0" cy="783.0" rx="15.0" ry="7.0" fill="#5a1030" fill-opacity="0.6"/></g><rect x="73.3" y="733.3" width="286.7" height="152.3" filter="url(#rR)" opacity="0.8"/><g filter="url(#rY)"><ellipse cx="104.0" cy="823.0" rx="31.0" ry="63.0" fill="#e8d860" fill-opacity="0.76"/><ellipse cx="135.0" cy="767.5" rx="35.0" ry="32.5" fill="#e8d860" fill-opacity="0.5599999999999999"/><ellipse cx="182.5" cy="812.5" rx="42.5" ry="22.5" fill="#e8d860" fill-opacity="0.5599999999999999"/><ellipse cx="293.5" cy="823.0" rx="68.5" ry="63.0" fill="#e8d860" fill-opacity="0.52"/><ellipse cx="180.0" cy="858.0" rx="50.0" ry="28.0" fill="#e8d860" fill-opacity="0.48"/></g><g filter="url(#rG)"><line x1="76.0" y1="767.0" x2="84.0" y2="788.0" stroke="#c4e23c" stroke-width="6" stroke-linecap="round" stroke-opacity="0.85"/><ellipse cx="143.0" cy="762.0" rx="3.0" ry="6.0" fill="#c4e23c"/><ellipse cx="136.5" cy="738.0" rx="2.5" ry="3.0" fill="#A0E43A"/><ellipse cx="136.8" cy="789.8" rx="3.2" ry="3.2" fill="#A0E43A"/><ellipse cx="95.0" cy="799.3" rx="7.0" ry="4.3" fill="#c4e23c" fill-opacity="0.7"/><ellipse cx="128.0" cy="807.0" rx="3.0" ry="3.0" fill="#A0E43A"/><ellipse cx="172.8" cy="809.5" rx="4.8" ry="9.5" fill="#A0E43A"/><line x1="138.0" y1="806.0" x2="152.0" y2="806.0" stroke="#A0E43A" stroke-width="5.5" stroke-linecap="round"/><ellipse cx="138.8" cy="815.8" rx="4.2" ry="3.8" fill="#A0E43A"/><polyline points="117.0,813.5 123.0,823.0 128.0,828.0 134.0,836.0" fill="none" stroke="#A0E43A" stroke-width="7" stroke-linecap="round" stroke-linejoin="round"/><polyline points="145.0,824.7 152.0,833.0 160.0,838.0 168.0,847.0" fill="none" stroke="#A0E43A" stroke-width="8" stroke-linecap="round" stroke-linejoin="round"/><ellipse cx="175.0" cy="849.0" rx="10.0" ry="12.0" fill="#A0E43A"/><ellipse cx="183.5" cy="828.3" rx="3.5" ry="3.3" fill="#A0E43A"/><ellipse cx="78.0" cy="877.0" rx="5.0" ry="9.0" fill="#A0E43A"/><ellipse cx="146.2" cy="853.5" rx="4.2" ry="5.5" fill="#A0E43A" fill-opacity="0.85"/><ellipse cx="152.0" cy="867.0" rx="4.0" ry="3.5" fill="#E0E048"/><ellipse cx="100.5" cy="868.0" rx="5.5" ry="7.0" fill="#E0E048" fill-opacity="0.8"/><ellipse cx="102.0" cy="811.5" rx="4.0" ry="3.5" fill="#c4e23c"/><ellipse cx="222.0" cy="833.8" rx="4.0" ry="4.8" fill="#A0E43A"/><line x1="241.0" y1="847.0" x2="253.0" y2="853.0" stroke="#c4e23c" stroke-width="3.5" stroke-linecap="round"/><ellipse cx="219.0" cy="869.8" rx="4.0" ry="6.2" fill="#c4e23c"/><ellipse cx="204.0" cy="873.2" rx="3.0" ry="4.2" fill="#A0E43A"/><ellipse cx="186.5" cy="882.5" rx="3.5" ry="3.5" fill="#A0E43A"/><ellipse cx="266.0" cy="742.0" rx="7.0" ry="6.0" fill="#A0E43A"/><ellipse cx="301.0" cy="740.0" rx="3.0" ry="4.0" fill="#A0E43A"/><ellipse cx="308.5" cy="736.5" rx="3.5" ry="3.5" fill="#A0E43A"/><ellipse cx="324.0" cy="759.2" rx="6.0" ry="5.6" fill="#A0E43A"/><ellipse cx="319.0" cy="768.5" rx="4.0" ry="5.5" fill="#A0E43A"/><line x1="269.0" y1="771.0" x2="286.0" y2="771.0" stroke="#c4e23c" stroke-width="5.5" stroke-linecap="round"/><line x1="343.0" y1="780.0" x2="358.0" y2="789.0" stroke="#A0E43A" stroke-width="7.5" stroke-linecap="round"/><line x1="284.0" y1="789.0" x2="289.0" y2="802.0" stroke="#A0E43A" stroke-width="8" stroke-linecap="round"/><ellipse cx="312.5" cy="810" rx="10" ry="9" fill="none" stroke="#A0E43A" stroke-width="6.5"/><line x1="278.0" y1="816.0" x2="296.0" y2="822.0" stroke="#A0E43A" stroke-width="6.5" stroke-linecap="round"/><ellipse cx="263.5" cy="790.2" rx="3.5" ry="4.2" fill="#A0E43A"/><line x1="268.0" y1="834.0" x2="277.0" y2="855.0" stroke="#A0E43A" stroke-width="6.5" stroke-linecap="round"/><line x1="294.0" y1="840.0" x2="308.0" y2="839.0" stroke="#A0E43A" stroke-width="5.5" stroke-linecap="round"/><ellipse cx="353.8" cy="839.5" rx="5.8" ry="7.9" fill="#A0E43A"/><ellipse cx="294.0" cy="869.5" rx="3.0" ry="3.5" fill="#E0E048"/></g><g filter="url(#rS)"><ellipse cx="99.5" cy="741.5" rx="5.5" ry="4.5" fill="#a6e63a"/><ellipse cx="102.5" cy="748.0" rx="3.5" ry="5.0" fill="#a6e63a"/><ellipse cx="107.5" cy="741.0" rx="3.5" ry="3.0" fill="#a6e63a"/><polygon points="118.5,755.0 123.0,753.0 126.0,759.0 128.0,766.0 131.5,774.0 131.0,783.0 126.0,782.0 123.0,775.0 120.0,768.0 118.0,761.0" fill="#a6e63a"/><polyline points="167.0,735.0 169.0,750.0 168.0,765.0 171.0,772.0" fill="none" stroke="#a6e63a" stroke-width="5.5" stroke-linecap="round" stroke-linejoin="round"/><polyline points="174.0,748.0 183.0,743.0 194.0,741.5 205.0,743.0 212.5,748.5" fill="none" stroke="#a6e63a" stroke-width="4" stroke-linecap="round" stroke-linejoin="round"/><polyline points="214.3,749.0 216.0,765.0 215.0,777.0" fill="none" stroke="#a6e63a" stroke-width="3" stroke-linecap="round" stroke-linejoin="round"/><line x1="206.0" y1="783.5" x2="212.5" y2="788.0" stroke="#a6e63a" stroke-width="4.5" stroke-linecap="round"/><polygon points="155.5,789.5 167.5,801.5 156.5,804.0" fill="#a6e63a"/><polygon points="231.0,748.0 237.0,740.5 246.0,739.5 252.5,744.0 254.5,752.0 250.0,760.0 246.0,766.5 240.0,760.0 233.0,758.0" fill="#a6e63a"/></g><g filter="url(#bl1)"><ellipse cx="192.0" cy="767.0" rx="21.0" ry="22.5" fill="#280410"/><polygon points="256.0,734.0 304.0,734.0 298.0,752.0 283.0,762.0 264.0,765.0 255.0,750.0" fill="#280410" fill-opacity="0.8"/><polygon points="316.0,734.0 361.0,734.0 361.0,780.0 341.0,762.0 328.0,748.0" fill="#280410" fill-opacity="0.8"/></g></g><g clip-path="url(#c4)"><rect x="410" y="733.3" width="287" height="152.3" fill="#480920"/><g filter="url(#bl3)"><polygon points="496.0,738.0 520.0,752.0 544.0,760.0 580.0,774.0 640.0,776.0 697.0,784.0 697.0,806.0 640.0,800.0 590.0,798.0 545.0,784.0 510.0,764.0 492.0,748.0" fill="#7c1030" fill-opacity="0.85"/><polygon points="545.0,784.0 590.0,798.0 640.0,800.0 697.0,806.0 697.0,822.0 640.0,816.0 590.0,816.0 545.0,806.0 515.0,780.0" fill="#6a0e2a" fill-opacity="0.8"/><polygon points="540.0,733.0 600.0,733.0 560.0,748.0 520.0,745.0" fill="#6e1030" fill-opacity="0.5"/><polygon points="620.0,815.0 697.0,815.0 697.0,886.0 600.0,886.0" fill="#5c0c26" fill-opacity="0.8"/><ellipse cx="439.5" cy="769.5" rx="12.5" ry="16.5" fill="#340614" fill-opacity="0.8"/><ellipse cx="461.0" cy="852.0" rx="21.0" ry="19.0" fill="#340614" fill-opacity="0.75"/><ellipse cx="425.0" cy="741.5" rx="15.0" ry="8.5" fill="#340614" fill-opacity="0.5"/><ellipse cx="476.0" cy="765.0" rx="10.0" ry="21.0" fill="#340614" fill-opacity="0.35"/><ellipse cx="559.0" cy="842.5" rx="8.0" ry="8.5" fill="#340614" fill-opacity="0.8"/></g><g filter="url(#bl1)"><polygon points="502.0,733.0 512.0,733.0 524.0,742.0 544.0,745.0 560.0,757.0 580.0,759.0 600.0,766.0 600.0,780.0 578.0,769.0 556.0,767.0 540.0,755.0 518.0,751.0 506.0,742.0" fill="#2236b4" fill-opacity="0.6"/><polygon points="598.0,765.0 614.0,758.0 640.0,753.0 664.0,753.0 680.0,759.0 697.0,757.0 697.0,776.0 664.0,776.0 640.0,772.0 616.0,782.0 598.0,782.0" fill="#2236b4" fill-opacity="0.55"/><polygon points="677.0,733.0 698.0,733.0 698.0,757.0 682.0,753.0" fill="#2236b4" fill-opacity="0.65"/><ellipse cx="557.0" cy="823.5" rx="11.0" ry="12.5" fill="#2a2c90" fill-opacity="0.45"/><ellipse cx="546.5" cy="844.5" rx="10.5" ry="10.5" fill="#2a2c90" fill-opacity="0.4"/><ellipse cx="583.0" cy="845.5" rx="8.0" ry="9.5" fill="#2a2c90" fill-opacity="0.4"/></g><g filter="url(#bl05)"><ellipse cx="622.3" cy="837.2" rx="3.1" ry="2.7" fill="#3050e0" transform="rotate(166 622.3 837.2)"/><ellipse cx="435.0" cy="746.2" rx="3.9" ry="2.1" fill="#2c48dc" transform="rotate(141 435.0 746.2)"/><ellipse cx="485.7" cy="878.1" rx="3.4" ry="2.5" fill="#3050e0" transform="rotate(161 485.7 878.1)"/><ellipse cx="455.6" cy="790.6" rx="2.9" ry="2.2" fill="#4038b0" transform="rotate(43 455.6 790.6)"/><ellipse cx="578.1" cy="872.0" rx="3.2" ry="2.6" fill="#3050e0" transform="rotate(27 578.1 872.0)"/><ellipse cx="411.3" cy="844.2" rx="3.9" ry="2.4" fill="#2238c0" transform="rotate(5 411.3 844.2)"/><ellipse cx="606.4" cy="815.3" rx="3.1" ry="2.1" fill="#2c48dc" transform="rotate(16 606.4 815.3)"/><ellipse cx="662.9" cy="772.4" rx="3.1" ry="2.1" fill="#2840d0" transform="rotate(60 662.9 772.4)"/><ellipse cx="553.7" cy="759.0" rx="3.7" ry="2.1" fill="#2840d0" transform="rotate(150 553.7 759.0)"/><ellipse cx="629.9" cy="815.7" rx="3.7" ry="2.0" fill="#2840d0" transform="rotate(2 629.9 815.7)"/><ellipse cx="663.5" cy="879.7" rx="3.1" ry="2.3" fill="#2840d0" transform="rotate(104 663.5 879.7)"/><ellipse cx="428.1" cy="850.4" rx="3.9" ry="2.3" fill="#2840d0" transform="rotate(23 428.1 850.4)"/><ellipse cx="546.3" cy="817.3" rx="4.2" ry="2.2" fill="#3050e0" transform="rotate(29 546.3 817.3)"/><ellipse cx="485.1" cy="868.0" rx="3.9" ry="2.4" fill="#2c48dc" transform="rotate(177 485.1 868.0)"/><ellipse cx="535.5" cy="812.3" rx="3.8" ry="2.3" fill="#2238c0" transform="rotate(36 535.5 812.3)"/><ellipse cx="475.0" cy="765.6" rx="3.7" ry="2.3" fill="#3a34a8" transform="rotate(76 475.0 765.6)"/><ellipse cx="428.7" cy="830.1" rx="4.0" ry="2.1" fill="#2238c0" transform="rotate(123 428.7 830.1)"/><ellipse cx="477.3" cy="836.0" rx="3.2" ry="2.1" fill="#2840d0" transform="rotate(142 477.3 836.0)"/><ellipse cx="545.5" cy="854.2" rx="3.5" ry="2.7" fill="#3a34a8" transform="rotate(59 545.5 854.2)"/><ellipse cx="643.0" cy="760.9" rx="3.4" ry="2.6" fill="#2c48dc" transform="rotate(158 643.0 760.9)"/><ellipse cx="480.7" cy="876.0" rx="3.4" ry="2.1" fill="#2238c0" transform="rotate(115 480.7 876.0)"/><ellipse cx="537.0" cy="866.2" rx="2.9" ry="2.1" fill="#2238c0" transform="rotate(153 537.0 866.2)"/><ellipse cx="690.0" cy="876.4" rx="4.2" ry="2.1" fill="#2c48dc" transform="rotate(34 690.0 876.4)"/><ellipse cx="655.0" cy="757.1" rx="3.3" ry="2.3" fill="#2238c0" transform="rotate(41 655.0 757.1)"/><ellipse cx="453.0" cy="777.6" rx="3.5" ry="2.6" fill="#32309c" transform="rotate(170 453.0 777.6)"/><ellipse cx="581.2" cy="837.0" rx="4.1" ry="2.3" fill="#2840d0" transform="rotate(116 581.2 837.0)"/><ellipse cx="467.4" cy="843.4" rx="3.3" ry="2.7" fill="#2840d0" transform="rotate(89 467.4 843.4)"/><ellipse cx="603.5" cy="778.1" rx="4.0" ry="2.6" fill="#3050e0" transform="rotate(91 603.5 778.1)"/><ellipse cx="664.3" cy="869.0" rx="3.9" ry="2.3" fill="#2238c0" transform="rotate(141 664.3 869.0)"/><ellipse cx="439.1" cy="817.9" rx="4.1" ry="2.3" fill="#3050e0" transform="rotate(50 439.1 817.9)"/><ellipse cx="616.8" cy="763.0" rx="3.5" ry="2.4" fill="#2238c0" transform="rotate(51 616.8 763.0)"/><ellipse cx="592.6" cy="772.4" rx="3.6" ry="2.2" fill="#2840d0" transform="rotate(105 592.6 772.4)"/><ellipse cx="550.2" cy="873.1" rx="3.2" ry="2.2" fill="#3050e0" transform="rotate(9 550.2 873.1)"/><ellipse cx="429.9" cy="869.6" rx="2.8" ry="2.5" fill="#2c48dc" transform="rotate(157 429.9 869.6)"/><ellipse cx="669.6" cy="764.0" rx="3.3" ry="2.4" fill="#3050e0" transform="rotate(22 669.6 764.0)"/><ellipse cx="643.9" cy="772.9" rx="3.3" ry="2.3" fill="#3050e0" transform="rotate(37 643.9 772.9)"/><ellipse cx="639.4" cy="766.7" rx="3.6" ry="2.6" fill="#2238c0" transform="rotate(146 639.4 766.7)"/><ellipse cx="689.4" cy="774.8" rx="4.1" ry="2.7" fill="#3050e0" transform="rotate(117 689.4 774.8)"/><ellipse cx="681.3" cy="749.1" rx="2.8" ry="2.1" fill="#2238c0" transform="rotate(21 681.3 749.1)"/><ellipse cx="690.4" cy="759.0" rx="2.8" ry="2.1" fill="#2238c0" transform="rotate(64 690.4 759.0)"/><ellipse cx="620.0" cy="780.2" rx="3.8" ry="2.5" fill="#3050e0" transform="rotate(7 620.0 780.2)"/><ellipse cx="482.1" cy="842.3" rx="2.9" ry="2.7" fill="#2c48dc" transform="rotate(110 482.1 842.3)"/><ellipse cx="514.0" cy="742.0" rx="3.0" ry="2.5" fill="#2840d0" transform="rotate(45 514.0 742.0)"/><ellipse cx="681.6" cy="837.3" rx="3.4" ry="2.1" fill="#4038b0" transform="rotate(171 681.6 837.3)"/><ellipse cx="603.8" cy="766.3" rx="3.7" ry="2.7" fill="#3050e0" transform="rotate(18 603.8 766.3)"/><ellipse cx="480.5" cy="864.2" rx="3.2" ry="2.1" fill="#2840d0" transform="rotate(70 480.5 864.2)"/><ellipse cx="581.3" cy="880.2" rx="3.1" ry="2.3" fill="#2c48dc" transform="rotate(116 581.3 880.2)"/><ellipse cx="530.3" cy="873.1" rx="3.8" ry="2.8" fill="#2238c0" transform="rotate(139 530.3 873.1)"/><ellipse cx="566.9" cy="825.7" rx="3.1" ry="2.5" fill="#2238c0" transform="rotate(91 566.9 825.7)"/><ellipse cx="544.0" cy="751.0" rx="4.1" ry="2.8" fill="#2238c0" transform="rotate(82 544.0 751.0)"/><ellipse cx="684.3" cy="762.3" rx="3.0" ry="2.7" fill="#3050e0" transform="rotate(76 684.3 762.3)"/><ellipse cx="444.7" cy="836.1" rx="3.6" ry="2.2" fill="#2238c0" transform="rotate(74 444.7 836.1)"/><ellipse cx="572.1" cy="765.2" rx="3.3" ry="2.6" fill="#2238c0" transform="rotate(108 572.1 765.2)"/><ellipse cx="437.7" cy="852.3" rx="3.8" ry="2.3" fill="#2840d0" transform="rotate(82 437.7 852.3)"/><ellipse cx="443.2" cy="885.5" rx="3.0" ry="2.6" fill="#3050e0" transform="rotate(130 443.2 885.5)"/><ellipse cx="612.0" cy="774.4" rx="3.8" ry="2.2" fill="#2c48dc" transform="rotate(131 612.0 774.4)"/><ellipse cx="550.2" cy="850.0" rx="3.4" ry="2.1" fill="#3a34a8" transform="rotate(41 550.2 850.0)"/><ellipse cx="550.8" cy="855.5" rx="4.1" ry="2.2" fill="#3a34a8" transform="rotate(4 550.8 855.5)"/><ellipse cx="609.3" cy="779.1" rx="3.6" ry="2.2" fill="#2c48dc" transform="rotate(155 609.3 779.1)"/><ellipse cx="548.9" cy="844.8" rx="3.5" ry="2.1" fill="#4038b0" transform="rotate(73 548.9 844.8)"/><ellipse cx="468.5" cy="764.1" rx="3.8" ry="2.6" fill="#3a34a8" transform="rotate(49 468.5 764.1)"/><ellipse cx="475.4" cy="842.0" rx="3.2" ry="2.7" fill="#2238c0" transform="rotate(60 475.4 842.0)"/><ellipse cx="544.9" cy="833.3" rx="2.9" ry="2.1" fill="#2840d0" transform="rotate(67 544.9 833.3)"/><ellipse cx="674.6" cy="759.5" rx="4.1" ry="2.8" fill="#2c48dc" transform="rotate(63 674.6 759.5)"/><ellipse cx="491.9" cy="879.4" rx="3.8" ry="2.6" fill="#2c48dc" transform="rotate(95 491.9 879.4)"/><ellipse cx="629.2" cy="763.0" rx="2.9" ry="2.6" fill="#2238c0" transform="rotate(52 629.2 763.0)"/><ellipse cx="585.2" cy="768.6" rx="3.6" ry="2.1" fill="#2c48dc" transform="rotate(170 585.2 768.6)"/><ellipse cx="696.7" cy="874.3" rx="3.4" ry="2.7" fill="#3050e0" transform="rotate(75 696.7 874.3)"/><ellipse cx="693.3" cy="769.3" rx="3.9" ry="2.1" fill="#2238c0" transform="rotate(112 693.3 769.3)"/><ellipse cx="550.5" cy="754.3" rx="3.8" ry="2.2" fill="#3050e0" transform="rotate(135 550.5 754.3)"/><ellipse cx="617.1" cy="850.2" rx="3.1" ry="2.6" fill="#2c48dc" transform="rotate(128 617.1 850.2)"/><ellipse cx="457.5" cy="743.4" rx="3.7" ry="2.6" fill="#3a34a8" transform="rotate(104 457.5 743.4)"/><ellipse cx="590.8" cy="872.8" rx="4.0" ry="2.3" fill="#2c48dc" transform="rotate(7 590.8 872.8)"/><ellipse cx="596.1" cy="779.5" rx="3.3" ry="2.4" fill="#2840d0" transform="rotate(136 596.1 779.5)"/><ellipse cx="649.7" cy="771.3" rx="3.2" ry="2.7" fill="#3050e0" transform="rotate(112 649.7 771.3)"/><ellipse cx="689.5" cy="857.3" rx="4.1" ry="2.5" fill="#4038b0" transform="rotate(141 689.5 857.3)"/><ellipse cx="540.3" cy="836.6" rx="3.1" ry="2.4" fill="#4038b0" transform="rotate(65 540.3 836.6)"/><ellipse cx="448.7" cy="879.6" rx="3.5" ry="2.1" fill="#2c48dc" transform="rotate(4 448.7 879.6)"/><ellipse cx="436.3" cy="870.3" rx="2.8" ry="2.5" fill="#3050e0" transform="rotate(35 436.3 870.3)"/><ellipse cx="624.0" cy="755.3" rx="3.1" ry="2.5" fill="#2238c0" transform="rotate(102 624.0 755.3)"/><ellipse cx="528.7" cy="746.5" rx="2.9" ry="2.5" fill="#3050e0" transform="rotate(151 528.7 746.5)"/><ellipse cx="684.9" cy="736.1" rx="3.4" ry="2.7" fill="#2c48dc" transform="rotate(40 684.9 736.1)"/><ellipse cx="684.6" cy="865.3" rx="3.7" ry="2.8" fill="#4038b0" transform="rotate(160 684.6 865.3)"/><ellipse cx="450.9" cy="872.4" rx="4.1" ry="2.6" fill="#2840d0" transform="rotate(93 450.9 872.4)"/><ellipse cx="688.5" cy="740.5" rx="4.1" ry="2.6" fill="#3050e0" transform="rotate(123 688.5 740.5)"/><ellipse cx="678.4" cy="861.2" rx="3.7" ry="2.8" fill="#32309c" transform="rotate(109 678.4 861.2)"/><ellipse cx="583.3" cy="850.4" rx="2.8" ry="2.1" fill="#2840d0" transform="rotate(97 583.3 850.4)"/><ellipse cx="589.7" cy="866.7" rx="2.8" ry="2.0" fill="#2840d0" transform="rotate(27 589.7 866.7)"/><ellipse cx="424.6" cy="861.6" rx="3.6" ry="2.5" fill="#2c48dc" transform="rotate(15 424.6 861.6)"/><ellipse cx="643.7" cy="833.3" rx="4.1" ry="2.1" fill="#4038b0" transform="rotate(105 643.7 833.3)"/><ellipse cx="449.2" cy="785.9" rx="3.3" ry="2.2" fill="#32309c" transform="rotate(179 449.2 785.9)"/><ellipse cx="641.2" cy="752.7" rx="3.3" ry="2.3" fill="#2c48dc" transform="rotate(6 641.2 752.7)"/><ellipse cx="655.7" cy="775.8" rx="3.1" ry="2.7" fill="#3050e0" transform="rotate(145 655.7 775.8)"/><ellipse cx="630.1" cy="773.8" rx="4.1" ry="2.1" fill="#2840d0" transform="rotate(64 630.1 773.8)"/><ellipse cx="593.0" cy="885.0" rx="3.1" ry="2.2" fill="#2840d0" transform="rotate(147 593.0 885.0)"/><ellipse cx="459.0" cy="853.3" rx="3.9" ry="2.7" fill="#342a84" transform="rotate(159 459.0 853.3)"/><ellipse cx="444.2" cy="788.8" rx="4.1" ry="2.4" fill="#32309c" transform="rotate(2 444.2 788.8)"/><ellipse cx="510.3" cy="737.6" rx="3.2" ry="2.8" fill="#2840d0" transform="rotate(167 510.3 737.6)"/><ellipse cx="449.5" cy="826.4" rx="3.4" ry="2.5" fill="#2238c0" transform="rotate(76 449.5 826.4)"/><ellipse cx="565.8" cy="870.9" rx="3.5" ry="2.6" fill="#2238c0" transform="rotate(58 565.8 870.9)"/><ellipse cx="677.9" cy="831.1" rx="4.1" ry="2.0" fill="#3a34a8" transform="rotate(60 677.9 831.1)"/><ellipse cx="552.9" cy="829.5" rx="3.2" ry="2.0" fill="#3050e0" transform="rotate(111 552.9 829.5)"/><ellipse cx="557.8" cy="809.3" rx="3.0" ry="2.2" fill="#2238c0" transform="rotate(74 557.8 809.3)"/><ellipse cx="689.3" cy="764.8" rx="3.7" ry="2.1" fill="#3050e0" transform="rotate(32 689.3 764.8)"/><ellipse cx="545.9" cy="802.7" rx="4.1" ry="2.1" fill="#2238c0" transform="rotate(164 545.9 802.7)"/><ellipse cx="576.1" cy="844.3" rx="3.9" ry="2.1" fill="#2c48dc" transform="rotate(55 576.1 844.3)"/><ellipse cx="585.5" cy="761.2" rx="3.7" ry="2.2" fill="#2840d0" transform="rotate(119 585.5 761.2)"/><ellipse cx="562.5" cy="831.2" rx="3.8" ry="2.6" fill="#2c48dc" transform="rotate(163 562.5 831.2)"/><ellipse cx="664.7" cy="758.6" rx="2.9" ry="2.7" fill="#2c48dc" transform="rotate(46 664.7 758.6)"/><ellipse cx="680.6" cy="882.1" rx="4.1" ry="2.5" fill="#2238c0" transform="rotate(36 680.6 882.1)"/><ellipse cx="674.6" cy="777.3" rx="2.9" ry="2.6" fill="#3050e0" transform="rotate(165 674.6 777.3)"/><ellipse cx="430.7" cy="819.6" rx="3.4" ry="2.8" fill="#3050e0" transform="rotate(79 430.7 819.6)"/><ellipse cx="426.0" cy="817.0" rx="3.6" ry="2.6" fill="#2238c0" transform="rotate(155 426.0 817.0)"/><ellipse cx="523.2" cy="859.2" rx="3.5" ry="2.4" fill="#2840d0" transform="rotate(111 523.2 859.2)"/><ellipse cx="680.0" cy="741.8" rx="2.9" ry="2.5" fill="#3050e0" transform="rotate(168 680.0 741.8)"/><ellipse cx="425.7" cy="879.9" rx="3.7" ry="2.8" fill="#2840d0" transform="rotate(52 425.7 879.9)"/><ellipse cx="545.8" cy="864.3" rx="3.5" ry="2.5" fill="#3050e0" transform="rotate(117 545.8 864.3)"/><ellipse cx="571.7" cy="882.9" rx="3.6" ry="2.7" fill="#3050e0" transform="rotate(38 571.7 882.9)"/><ellipse cx="583.5" cy="868.2" rx="2.9" ry="2.8" fill="#2c48dc" transform="rotate(50 583.5 868.2)"/><ellipse cx="607.3" cy="771.4" rx="4.0" ry="2.1" fill="#2238c0" transform="rotate(133 607.3 771.4)"/><ellipse cx="521.2" cy="871.8" rx="3.7" ry="2.5" fill="#2238c0" transform="rotate(179 521.2 871.8)"/><ellipse cx="435.1" cy="824.9" rx="4.2" ry="2.8" fill="#2840d0" transform="rotate(78 435.1 824.9)"/><ellipse cx="599.7" cy="843.3" rx="3.2" ry="2.0" fill="#2c48dc" transform="rotate(7 599.7 843.3)"/><ellipse cx="537.7" cy="792.4" rx="3.3" ry="2.1" fill="#3050e0" transform="rotate(91 537.7 792.4)"/><ellipse cx="535.5" cy="840.4" rx="3.3" ry="2.6" fill="#4038b0" transform="rotate(32 535.5 840.4)"/><ellipse cx="458.8" cy="756.1" rx="4.1" ry="2.7" fill="#3a34a8" transform="rotate(25 458.8 756.1)"/><ellipse cx="432.7" cy="752.0" rx="4.0" ry="2.6" fill="#2c48dc" transform="rotate(169 432.7 752.0)"/><ellipse cx="629.6" cy="837.2" rx="3.7" ry="2.8" fill="#2c48dc" transform="rotate(28 629.6 837.2)"/><ellipse cx="563.5" cy="765.2" rx="4.1" ry="2.6" fill="#2238c0" transform="rotate(21 563.5 765.2)"/><ellipse cx="679.4" cy="774.0" rx="3.3" ry="2.4" fill="#2840d0" transform="rotate(33 679.4 774.0)"/><ellipse cx="598.5" cy="770.3" rx="3.0" ry="2.2" fill="#2238c0" transform="rotate(4 598.5 770.3)"/><ellipse cx="530.9" cy="751.8" rx="3.4" ry="2.4" fill="#2840d0" transform="rotate(103 530.9 751.8)"/><ellipse cx="696.9" cy="753.4" rx="3.3" ry="2.1" fill="#2238c0" transform="rotate(54 696.9 753.4)"/><ellipse cx="625.6" cy="777.4" rx="3.9" ry="2.3" fill="#2840d0" transform="rotate(1 625.6 777.4)"/><ellipse cx="423.9" cy="872.0" rx="4.0" ry="2.3" fill="#2c48dc" transform="rotate(88 423.9 872.0)"/><ellipse cx="692.5" cy="885.9" rx="3.4" ry="2.5" fill="#2c48dc" transform="rotate(125 692.5 885.9)"/><ellipse cx="587.3" cy="774.6" rx="2.8" ry="2.7" fill="#2c48dc" transform="rotate(48 587.3 774.6)"/><ellipse cx="611.3" cy="845.6" rx="4.0" ry="2.3" fill="#2c48dc" transform="rotate(117 611.3 845.6)"/><ellipse cx="617.7" cy="757.2" rx="3.6" ry="2.3" fill="#2238c0" transform="rotate(131 617.7 757.2)"/><ellipse cx="696.3" cy="735.9" rx="3.7" ry="2.5" fill="#3050e0" transform="rotate(179 696.3 735.9)"/><ellipse cx="625.7" cy="770.2" rx="4.0" ry="2.6" fill="#2840d0" transform="rotate(146 625.7 770.2)"/><ellipse cx="446.0" cy="860.3" rx="3.8" ry="2.6" fill="#2840d0" transform="rotate(76 446.0 860.3)"/><ellipse cx="445.5" cy="873.1" rx="3.5" ry="2.8" fill="#2238c0" transform="rotate(17 445.5 873.1)"/><ellipse cx="550.3" cy="834.8" rx="3.9" ry="2.2" fill="#2840d0" transform="rotate(80 550.3 834.8)"/><ellipse cx="556.9" cy="835.0" rx="3.9" ry="2.6" fill="#3050e0" transform="rotate(14 556.9 835.0)"/><ellipse cx="497.4" cy="854.7" rx="4.2" ry="2.7" fill="#3050e0" transform="rotate(51 497.4 854.7)"/><ellipse cx="493.6" cy="864.6" rx="3.6" ry="2.1" fill="#3050e0" transform="rotate(131 493.6 864.6)"/><ellipse cx="621.6" cy="823.6" rx="3.1" ry="2.7" fill="#2c48dc" transform="rotate(82 621.6 823.6)"/><ellipse cx="441.2" cy="747.7" rx="4.0" ry="2.7" fill="#3050e0" transform="rotate(160 441.2 747.7)"/><ellipse cx="520.2" cy="864.6" rx="3.9" ry="2.7" fill="#2238c0" transform="rotate(133 520.2 864.6)"/><ellipse cx="472.8" cy="832.0" rx="4.2" ry="2.7" fill="#2840d0" transform="rotate(78 472.8 832.0)"/><ellipse cx="538.1" cy="749.6" rx="3.5" ry="2.2" fill="#3050e0" transform="rotate(97 538.1 749.6)"/><ellipse cx="650.9" cy="761.5" rx="3.2" ry="2.2" fill="#2238c0" transform="rotate(88 650.9 761.5)"/><ellipse cx="568.5" cy="758.6" rx="4.0" ry="2.5" fill="#3050e0" transform="rotate(45 568.5 758.6)"/><ellipse cx="615.1" cy="824.8" rx="3.0" ry="2.2" fill="#2c48dc" transform="rotate(46 615.1 824.8)"/><ellipse cx="558.1" cy="767.4" rx="2.9" ry="2.1" fill="#2c48dc" transform="rotate(36 558.1 767.4)"/><ellipse cx="686.0" cy="812.1" rx="3.6" ry="2.5" fill="#3a34a8" transform="rotate(144 686.0 812.1)"/><ellipse cx="668.2" cy="773.2" rx="3.0" ry="2.5" fill="#3050e0" transform="rotate(4 668.2 773.2)"/><ellipse cx="662.0" cy="763.5" rx="3.8" ry="2.1" fill="#2c48dc" transform="rotate(155 662.0 763.5)"/><ellipse cx="481.9" cy="882.0" rx="3.7" ry="2.0" fill="#2238c0" transform="rotate(129 481.9 882.0)"/><ellipse cx="587.3" cy="846.5" rx="4.1" ry="2.3" fill="#3050e0" transform="rotate(81 587.3 846.5)"/><ellipse cx="560.8" cy="868.5" rx="2.9" ry="2.7" fill="#2840d0" transform="rotate(120 560.8 868.5)"/><ellipse cx="447.4" cy="795.9" rx="3.8" ry="2.4" fill="#4038b0" transform="rotate(125 447.4 795.9)"/><ellipse cx="637.1" cy="758.9" rx="2.8" ry="2.3" fill="#2c48dc" transform="rotate(98 637.1 758.9)"/><ellipse cx="532.4" cy="817.4" rx="3.6" ry="2.7" fill="#2238c0" transform="rotate(72 532.4 817.4)"/><ellipse cx="561.4" cy="813.4" rx="3.3" ry="2.5" fill="#3050e0" transform="rotate(88 561.4 813.4)"/><ellipse cx="654.4" cy="768.2" rx="3.9" ry="2.3" fill="#3050e0" transform="rotate(67 654.4 768.2)"/><ellipse cx="632.2" cy="768.4" rx="3.8" ry="2.3" fill="#3050e0" transform="rotate(155 632.2 768.4)"/><ellipse cx="433.9" cy="833.3" rx="4.2" ry="2.0" fill="#2840d0" transform="rotate(63 433.9 833.3)"/><ellipse cx="609.5" cy="763.4" rx="3.5" ry="2.6" fill="#2c48dc" transform="rotate(61 609.5 763.4)"/><ellipse cx="697.4" cy="741.5" rx="3.6" ry="2.2" fill="#2c48dc" transform="rotate(158 697.4 741.5)"/><ellipse cx="619.0" cy="774.7" rx="2.9" ry="2.3" fill="#3050e0" transform="rotate(51 619.0 774.7)"/><ellipse cx="680.7" cy="814.6" rx="3.5" ry="2.5" fill="#3a34a8" transform="rotate(90 680.7 814.6)"/><ellipse cx="615.6" cy="842.2" rx="3.5" ry="2.2" fill="#2c48dc" transform="rotate(49 615.6 842.2)"/><ellipse cx="534.3" cy="797.9" rx="2.8" ry="2.1" fill="#2238c0" transform="rotate(125 534.3 797.9)"/><ellipse cx="546.8" cy="839.6" rx="3.8" ry="2.3" fill="#32309c" transform="rotate(109 546.8 839.6)"/><ellipse cx="520.0" cy="749.1" rx="4.0" ry="2.4" fill="#3050e0" transform="rotate(122 520.0 749.1)"/><ellipse cx="489.7" cy="873.0" rx="3.9" ry="2.2" fill="#3050e0" transform="rotate(11 489.7 873.0)"/><ellipse cx="623.4" cy="763.2" rx="3.0" ry="2.3" fill="#2c48dc" transform="rotate(172 623.4 763.2)"/><ellipse cx="558.9" cy="760.6" rx="3.6" ry="2.2" fill="#2840d0" transform="rotate(144 558.9 760.6)"/><ellipse cx="602.6" cy="811.0" rx="3.2" ry="2.0" fill="#2c48dc" transform="rotate(16 602.6 811.0)"/><ellipse cx="532.5" cy="878.8" rx="4.2" ry="2.7" fill="#2840d0" transform="rotate(43 532.5 878.8)"/><ellipse cx="674.0" cy="770.2" rx="4.1" ry="2.1" fill="#2238c0" transform="rotate(20 674.0 770.2)"/><ellipse cx="592.6" cy="767.0" rx="3.7" ry="2.3" fill="#2238c0" transform="rotate(45 592.6 767.0)"/><ellipse cx="645.7" cy="765.6" rx="3.3" ry="2.4" fill="#2238c0" transform="rotate(66 645.7 765.6)"/><ellipse cx="686.7" cy="747.7" rx="3.3" ry="2.5" fill="#2840d0" transform="rotate(18 686.7 747.7)"/><ellipse cx="626.8" cy="844.9" rx="3.2" ry="2.3" fill="#2238c0" transform="rotate(82 626.8 844.9)"/><ellipse cx="662.8" cy="838.2" rx="3.3" ry="2.6" fill="#4038b0" transform="rotate(94 662.8 838.2)"/><ellipse cx="454.8" cy="840.4" rx="2.9" ry="2.4" fill="#281f6c" transform="rotate(102 454.8 840.4)"/><ellipse cx="577.8" cy="851.3" rx="3.1" ry="2.4" fill="#2840d0" transform="rotate(128 577.8 851.3)"/><ellipse cx="444.8" cy="866.3" rx="3.7" ry="2.3" fill="#3050e0" transform="rotate(174 444.8 866.3)"/><ellipse cx="561.5" cy="821.7" rx="4.1" ry="2.3" fill="#2c48dc" transform="rotate(157 561.5 821.7)"/><ellipse cx="499.2" cy="877.8" rx="3.9" ry="2.4" fill="#2238c0" transform="rotate(145 499.2 877.8)"/><ellipse cx="579.3" cy="766.7" rx="3.8" ry="2.6" fill="#2238c0" transform="rotate(78 579.3 766.7)"/><ellipse cx="654.7" cy="813.9" rx="2.9" ry="2.5" fill="#4038b0" transform="rotate(166 654.7 813.9)"/><ellipse cx="610.6" cy="819.9" rx="4.1" ry="2.3" fill="#2840d0" transform="rotate(8 610.6 819.9)"/><ellipse cx="684.6" cy="771.3" rx="3.6" ry="2.6" fill="#3050e0" transform="rotate(178 684.6 771.3)"/><ellipse cx="583.9" cy="873.8" rx="3.0" ry="2.7" fill="#2238c0" transform="rotate(168 583.9 873.8)"/><ellipse cx="542.4" cy="847.6" rx="3.7" ry="2.3" fill="#32309c" transform="rotate(170 542.4 847.6)"/><ellipse cx="474.5" cy="788.6" rx="3.1" ry="2.6" fill="#32309c" transform="rotate(123 474.5 788.6)"/><ellipse cx="534.8" cy="859.0" rx="3.2" ry="2.3" fill="#2840d0" transform="rotate(154 534.8 859.0)"/><ellipse cx="554.9" cy="814.3" rx="3.5" ry="2.5" fill="#3050e0" transform="rotate(34 554.9 814.3)"/><ellipse cx="676.7" cy="765.0" rx="3.6" ry="2.7" fill="#2840d0" transform="rotate(159 676.7 765.0)"/><ellipse cx="539.5" cy="816.7" rx="2.9" ry="2.7" fill="#3050e0" transform="rotate(23 539.5 816.7)"/><ellipse cx="465.0" cy="851.7" rx="3.9" ry="2.5" fill="#281f6c" transform="rotate(10 465.0 851.7)"/><ellipse cx="606.6" cy="855.4" rx="3.2" ry="2.6" fill="#2c48dc" transform="rotate(121 606.6 855.4)"/><ellipse cx="587.2" cy="879.8" rx="4.0" ry="2.2" fill="#3050e0" transform="rotate(171 587.2 879.8)"/><ellipse cx="681.5" cy="869.9" rx="3.0" ry="2.7" fill="#2238c0" transform="rotate(22 681.5 869.9)"/><ellipse cx="637.7" cy="772.2" rx="3.7" ry="2.5" fill="#2238c0" transform="rotate(114 637.7 772.2)"/><ellipse cx="538.2" cy="851.9" rx="3.8" ry="2.3" fill="#32309c" transform="rotate(148 538.2 851.9)"/><ellipse cx="616.7" cy="768.7" rx="3.2" ry="2.6" fill="#2840d0" transform="rotate(27 616.7 768.7)"/><ellipse cx="667.0" cy="832.4" rx="3.3" ry="2.3" fill="#3a34a8" transform="rotate(39 667.0 832.4)"/><ellipse cx="649.5" cy="835.0" rx="3.6" ry="2.8" fill="#32309c" transform="rotate(63 649.5 835.0)"/><ellipse cx="519.2" cy="743.5" rx="3.0" ry="2.2" fill="#2c48dc" transform="rotate(23 519.2 743.5)"/><ellipse cx="612.4" cy="813.7" rx="3.3" ry="2.5" fill="#2238c0" transform="rotate(16 612.4 813.7)"/><ellipse cx="549.4" cy="824.9" rx="2.8" ry="2.0" fill="#2238c0" transform="rotate(89 549.4 824.9)"/><ellipse cx="626.5" cy="832.3" rx="4.1" ry="2.5" fill="#2238c0" transform="rotate(94 626.5 832.3)"/><ellipse cx="646.3" cy="755.7" rx="2.9" ry="2.2" fill="#2c48dc" transform="rotate(28 646.3 755.7)"/><ellipse cx="431.3" cy="881.5" rx="4.0" ry="2.4" fill="#2238c0" transform="rotate(34 431.3 881.5)"/><ellipse cx="686.7" cy="803.7" rx="2.9" ry="2.2" fill="#32309c" transform="rotate(2 686.7 803.7)"/><ellipse cx="446.0" cy="830.8" rx="3.6" ry="2.6" fill="#2c48dc" transform="rotate(44 446.0 830.8)"/><ellipse cx="476.5" cy="771.1" rx="3.5" ry="2.7" fill="#32309c" transform="rotate(115 476.5 771.1)"/></g><g filter="url(#bl1)"><polygon points="561.0,733.0 651.0,733.0 633.0,746.7 616.7,756.4 600.0,760.0 578.0,755.0 565.0,749.5 560.0,741.0" fill="#1c040c"/><ellipse cx="529.5" cy="737.0" rx="8.5" ry="4.0" fill="#1c040c" fill-opacity="0.8"/></g><g filter="url(#rY)"><ellipse cx="470.0" cy="813.0" rx="30.0" ry="73.0" fill="#e8d060" fill-opacity="0.4"/><ellipse cx="530.0" cy="840.0" rx="30.0" ry="40.0" fill="#e8d060" fill-opacity="0.35"/><ellipse cx="630.0" cy="832.5" rx="30.0" ry="27.5" fill="#e8d060" fill-opacity="0.45"/><ellipse cx="668.5" cy="770.0" rx="28.5" ry="20.0" fill="#e8d060" fill-opacity="0.3"/><polyline points="505.0,752.0 545.0,772.0 590.0,786.0 640.0,788.0 697.0,796.0" fill="none" stroke="#f0d860" stroke-width="5" stroke-linecap="round" stroke-linejoin="round" stroke-opacity="0.9"/></g><g filter="url(#rG)"><ellipse cx="460.5" cy="756.5" rx="5.5" ry="5.5" fill="#c4e23c"/><ellipse cx="421.0" cy="800.8" rx="3.5" ry="5.8" fill="#A0E43A"/><ellipse cx="473.0" cy="796.0" rx="3.0" ry="3.5" fill="#A0E43A"/><polyline points="411.0,826.0 427.0,838.5 439.7,849.7 446.7,863.5 463.0,880.0" fill="none" stroke="#A0E43A" stroke-width="10" stroke-linecap="round" stroke-linejoin="round"/><ellipse cx="420.5" cy="837.5" rx="9.5" ry="10.5" fill="#A0E43A"/><ellipse cx="457.5" cy="875.0" rx="12.5" ry="11.0" fill="#A0E43A"/><line x1="483.0" y1="855.0" x2="504.0" y2="861.0" stroke="#A0E43A" stroke-width="7" stroke-linecap="round"/><ellipse cx="501.5" cy="878.2" rx="6.5" ry="7.8" fill="#A0E43A"/><ellipse cx="487.0" cy="827.4" rx="4.0" ry="2.6" fill="#A0E43A"/><ellipse cx="501.5" cy="830.0" rx="4.5" ry="4.0" fill="#A0E43A"/><ellipse cx="539.5" cy="801.0" rx="11.5" ry="11.0" fill="#A0E43A"/><ellipse cx="532.5" cy="822.0" rx="12.5" ry="13.0" fill="#A0E43A"/><ellipse cx="522.0" cy="844.0" rx="14.0" ry="12.0" fill="#A0E43A"/><ellipse cx="532.5" cy="784.0" rx="3.5" ry="3.0" fill="#A0E43A"/><ellipse cx="507.0" cy="862.2" rx="7.0" ry="8.2" fill="#c4e23c"/><polyline points="510.0,766.0 516.0,772.0 522.0,778.6" fill="none" stroke="#c4e23c" stroke-width="2.5" stroke-linecap="round" stroke-linejoin="round"/><ellipse cx="564.5" cy="837.8" rx="4.5" ry="6.2" fill="#A0E43A" fill-opacity="0.8"/><ellipse cx="573.5" cy="859.5" rx="4.5" ry="8.5" fill="#A0E43A" fill-opacity="0.8"/><ellipse cx="560.2" cy="880.4" rx="4.8" ry="5.6" fill="#A0E43A"/><ellipse cx="564.5" cy="802.2" rx="3.5" ry="2.8" fill="#c4e23c"/><polyline points="537.5,737.0 555.5,737.0 565.0,748.0 578.0,755.0 594.5,759.0" fill="none" stroke="#A0E43A" stroke-width="3" stroke-linecap="round" stroke-linejoin="round"/><line x1="616.7" y1="756.4" x2="633.0" y2="749.4" stroke="#A0E43A" stroke-width="3" stroke-linecap="round"/><polyline points="666.7,759.0 677.8,769.0 683.0,780.0" fill="none" stroke="#c4e23c" stroke-width="4.5" stroke-linecap="round" stroke-linejoin="round"/><ellipse cx="643.0" cy="819.2" rx="12.5" ry="5.8" fill="#c4e23c" fill-opacity="0.75"/><ellipse cx="608.5" cy="840.0" rx="5.5" ry="7.0" fill="#A0E43A" fill-opacity="0.7"/><ellipse cx="645.2" cy="845.5" rx="7.8" ry="9.5" fill="#A0E43A" fill-opacity="0.5"/><ellipse cx="665.2" cy="855.5" rx="4.2" ry="3.5" fill="#A0E43A"/><ellipse cx="625.0" cy="881.5" rx="11.0" ry="5.5" fill="#c4e23c"/><ellipse cx="683.0" cy="880.0" rx="14.0" ry="7.0" fill="#A0E43A" fill-opacity="0.7"/></g><g filter="url(#rS)"><polygon points="484.5,760.0 512.0,792.0 507.0,797.5 491.0,797.0 482.5,780.0" fill="#a8e83c"/><polygon points="651.0,733.0 675.0,733.0 673.6,741.0 665.0,746.7 652.8,750.8 641.7,755.0 633.0,749.4 637.5,744.0 647.0,741.0" fill="#a8e83c"/><ellipse cx="418.8" cy="759.0" rx="8.8" ry="11.0" fill="#a8e83c"/><line x1="423.0" y1="769.0" x2="431.0" y2="777.0" stroke="#a8e83c" stroke-width="6" stroke-linecap="round"/><line x1="431.0" y1="806.0" x2="466.0" y2="820.5" stroke="#a8e83c" stroke-width="8" stroke-linecap="round"/></g></g><rect x="254.3" y="566.7" width="85" height="44.3" fill="none" stroke="#D8202A" stroke-width="1.2"/><path d="M339.3 566.7L410 552M339.3 611L410 704" stroke="#D8202A" stroke-width="1.2" fill="none"/><rect x="132.7" y="777.3" width="85" height="45" fill="none" stroke="#D8202A" stroke-width="1.2"/><path d="M217.7 777.3L410 733.5M217.7 822.3L410 885.5" stroke="#D8202A" stroke-width="1.2" fill="none"/><line x1="337.3" y1="700.3" x2="357.3" y2="700.3" stroke="#e8e8f0" stroke-width="0.8"/><text x="347.3" y="698.6999999999999" font-size="3.2" text-anchor="middle" fill="#e8e8f0" font-family='"Liberation Sans", Arial, sans-serif'>0.100 mm</text><line x1="337.3" y1="881.5" x2="357.3" y2="881.5" stroke="#e8e8f0" stroke-width="0.8"/><text x="347.3" y="879.9" font-size="3.2" text-anchor="middle" fill="#e8e8f0" font-family='"Liberation Sans", Arial, sans-serif'>0.100 mm</text><line x1="657" y1="699.8" x2="692" y2="699.8" stroke="#e8e8f0" stroke-width="0.8"/><text x="674.5" y="698.1999999999999" font-size="4.4" text-anchor="middle" fill="#e8e8f0" font-family='"Liberation Sans", Arial, sans-serif'>0.050 mm</text><line x1="657" y1="881.5" x2="692" y2="881.5" stroke="#e8e8f0" stroke-width="0.8"/><text x="674.5" y="879.9" font-size="4.4" text-anchor="middle" fill="#e8e8f0" font-family='"Liberation Sans", Arial, sans-serif'>0.050 mm</text><text x="521.5" y="873.2" font-size="21.6" fill="#ffffff" fill-opacity="0.95" style="text-shadow:0 0 2px rgba(0,0,0,.35)" font-family='"Liberation Sans","Noto Sans CJK SC",sans-serif'>知乎 @Evil Genius</text>
</svg>
</body></html>
